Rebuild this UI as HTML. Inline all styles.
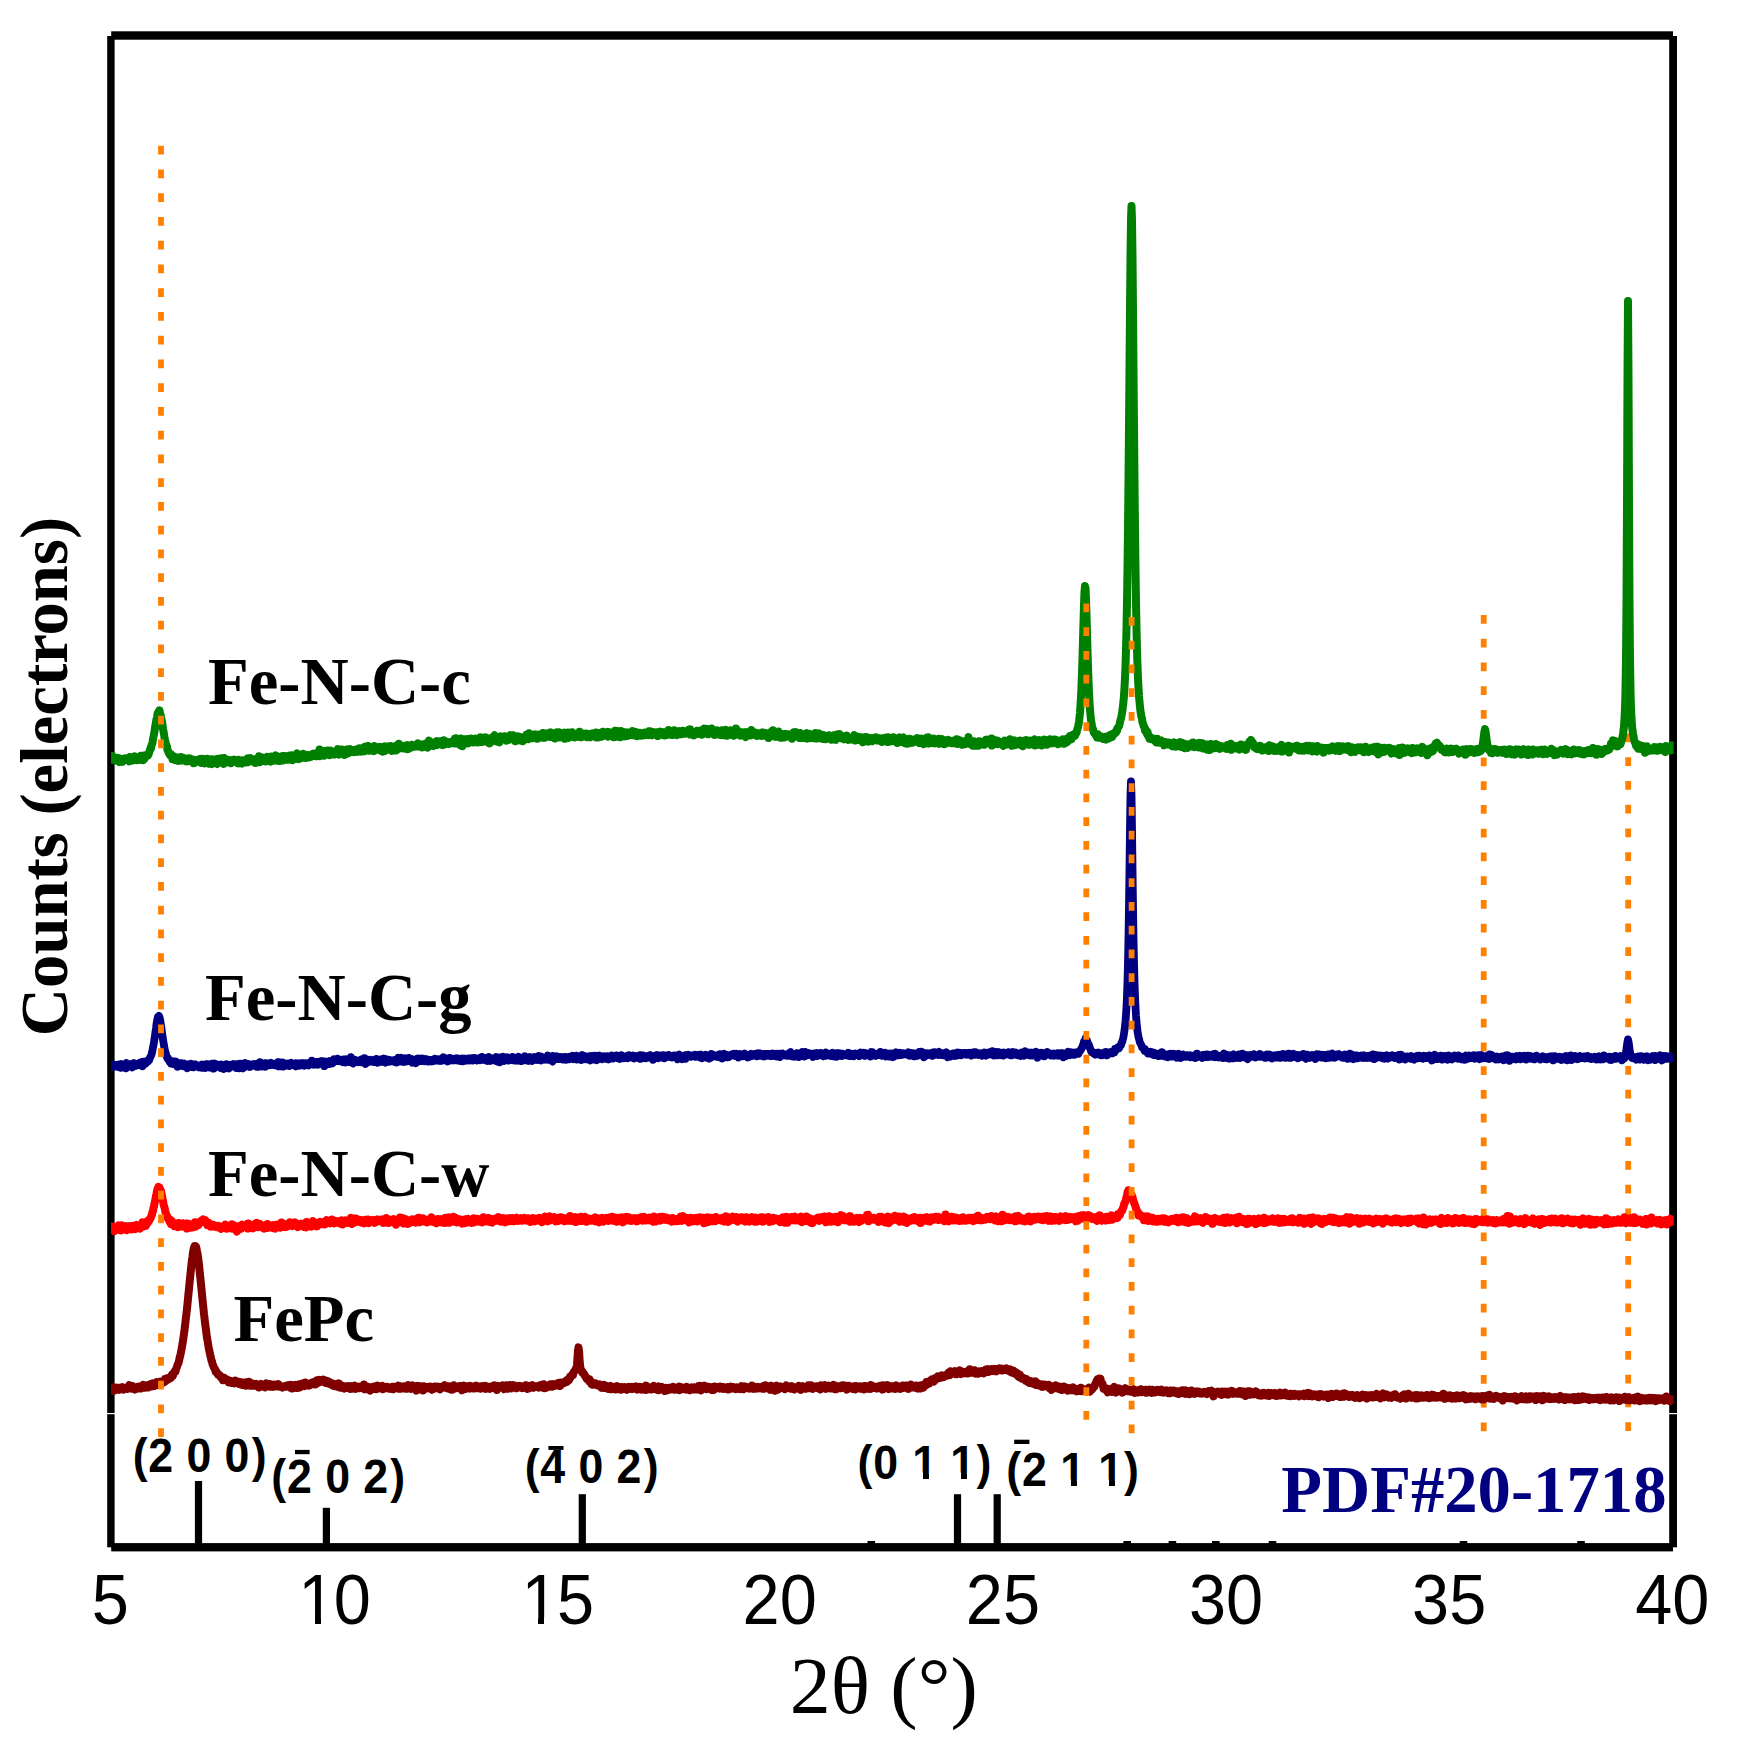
<!DOCTYPE html>
<html lang="en"><head><meta charset="utf-8"><title>XRD patterns</title>
<style>html,body{margin:0;padding:0;background:#fff}svg{display:block}</style></head>
<body>
<svg width="1739" height="1739" viewBox="0 0 1739 1739">
<defs><clipPath id="plot"><rect x="111" y="30" width="1562.7" height="1520"/></clipPath></defs>
<rect width="1739" height="1739" fill="#fff"/>
<g id="frame"><rect x="111.2" y="31.3" width="1561.8" height="8.4" fill="#000"/><rect x="111.2" y="1543.1" width="1561.8" height="8.3" fill="#000"/><rect x="107.2" y="36" width="7.4" height="1511.3" fill="#000"/><rect x="1669.2" y="36" width="7.8" height="1511.3" fill="#000"/><rect x="105" y="1413" width="11" height="1.2" fill="#fff"/><rect x="1667" y="1413" width="12" height="1.2" fill="#fff"/><rect x="194.9" y="1481" width="7.2" height="64.0" fill="#000"/><rect x="322.8" y="1507.8" width="7.2" height="37.2" fill="#000"/><rect x="578.7" y="1494.2" width="7.2" height="50.8" fill="#000"/><rect x="953.9" y="1494.2" width="7.2" height="50.8" fill="#000"/><rect x="993.6" y="1494.2" width="7.2" height="50.8" fill="#000"/><rect x="867.5" y="1541" width="7.6" height="4" fill="#000"/><rect x="1123.4" y="1541" width="7.6" height="4" fill="#000"/><rect x="1168.6" y="1541" width="7.6" height="4" fill="#000"/><rect x="1212.0" y="1541" width="7.6" height="4" fill="#000"/><rect x="1268.7" y="1541" width="7.6" height="4" fill="#000"/><rect x="1459.7" y="1541" width="7.6" height="4" fill="#000"/><rect x="1577.2" y="1541" width="7.6" height="4" fill="#000"/></g>
<g id="guides-back"><line x1="1483.7" y1="615.0" x2="1483.7" y2="1431.25" stroke="#ff8000" stroke-width="5.8" stroke-dasharray="8.75 15.0"/><line x1="1628.2" y1="733.5" x2="1628.2" y2="1431.00" stroke="#ff8000" stroke-width="5.8" stroke-dasharray="8.75 15.0"/></g>
<g id="curves"><path clip-path="url(#plot)" d="M111 762.6l.5-3l.5-.3l.5-3.3l.5 3.9l.5-.4l.5-.4l.5 1.3l.5 .1l.5-2.2l.5 .2l.5 .6l.5 1.7l.5-.2l.5-2.7l.5 .2l.5 2.7l.5 1.2l.5-2.3l.5-1l.5 2.6l.5-2.1l.5 1.5l.5 1.2l.5-1.4l.5-.8l.5 .9l.5-2l.5 .6l.5-.6l.5 .5l.5-.4l.5 .4l.5-.3l.5 .6l.5 0l.5 .3l.5 1.6l.5-4.4l.5 4.1l.5-2.2l.5-1.5l.5 1.5l.5 .3l.5 1.4l.5-3.1l.5 1.8l.5-.2l.5-2.6l.5 .6l.5 2.5l.5 .1l.5 .5l.5-.9l.5-.3l.5-.4l.5 1.4l.5-2.9l.5 .9l.5 .6l.5-2.8l.5 3.9l.5-3l.5 .9l.5 2.8l.5-4.1l.5 .2l.5 2.4l.5-3.4l.5 .5l.5 .8l.5-.5l.5-.3l.5-.7l.5 .2l.5-1l.5-1.3l.5-1.9l.5-1.1l.5-2.1l.5 .1l.5-3.1l.5-.5l.5-1.8l.5-3.7l.5-2.4l.5-2.7l.5-2.4l.5-3.6l.5-2.8l.5-3.2l.5-2.8l.5-2l.5-3.3l.5-1.2l.5-.9l.5 .7l.5-2l.5 2.9l.5 1.3l.5 2.4l.5 2.3l.5 2.3l.5 3.4l.5 3.6l.5 2.8l.5 2.9l.5 3.5l.5 2.8l.5 1.5l.5 3.1l.5 0l.5 1.6l.5 3.3l.5 .6l.5 1.7l.5 1l.5 .4l.5 1.4l.5 .2l.5-1.2l.5 2.2l.5 .4l.5 2.2l.5-3.2l.5 1.6l.5-.3l.5 .6l.5 2.4l.5-1.5l.5-.9l.5 .9l.5 .9l.5-2.2l.5 1.1l.5 2.5l.5-.8l.5-1.2l.5-.5l.5 .5l.5-1.8l.5 3.5l.5-.8l.5-.2l.5-1.9l.5 .8l.5 1.8l.5-.3l.5-1l.5 1.5l.5 .7l.5-2.3l.5 .3l.5-.5l.5-.3l.5 2.8l.5-.3l.5-.2l.5-2.2l.5 .2l.5 1.5l.5-.5l.5 .8l.5-1.1l.5 2l.5 1.7l.5-.3l.5 .1l.5-2.2l.5 1.3l.5-1.9l.5 1.9l.5-1.8l.5-.2l.5-.2l.5 2l.5-.6l.5-.1l.5-1.9l.5 1.9l.5-2.2l.5 4.2l.5-2.3l.5 .5l.5-.4l.5-2.1l.5 .3l.5 2l.5 2.3l.5-3.8l.5 .6l.5 1l.5-2.4l.5 0l.5 1.9l.5 .6l.5-.5l.5 2.9l.5-2.5l.5 .8l.5 1.8l.5 .2l.5-4.8l.5 1.8l.5 2.3l.5-3.7l.5 .7l.5-.5l.5-.2l.5 .4l.5 1.9l.5 1.6l.5 .4l.5-2.3l.5-2.9l.5 2.8l.5-.4l.5 1l.5-.7l.5-2.5l.5 3.2l.5-3.7l.5 2.1l.5 1.4l.5 .1l.5 1.8l.5-5.9l.5 4l.5 .5l.5-1.5l.5 1.4l.5-2.6l.5 2.6l.5-.2l.5-2.2l.5 .4l.5 .7l.5-.7l.5 2.5l.5-1.3l.5 1.7l.5-.3l.5-1.6l.5-.4l.5-1.1l.5 .2l.5-.1l.5 1.7l.5-1.8l.5 1.4l.5 .1l.5-1l.5 .5l.5 2.3l.5 .3l.5-3.6l.5 .9l.5-.3l.5 .1l.5 2.7l.5-1.3l.5 .8l.5 .8l.5-3.3l.5 .4l.5 .3l.5 1.4l.5-1.6l.5 1l.5 .8l.5 0l.5-1.1l.5-1.9l.5-1.1l.5 3.9l.5-1l.5-2l.5 .6l.5 .1l.5-1.9l.5 2.8l.5-1.5l.5 .7l.5 1.4l.5-1.2l.5 .9l.5-.2l.5-.6l.5 0l.5 2.6l.5-3l.5 2.6l.5-3.8l.5 2.4l.5-.8l.5-1.4l.5-2.8l.5 6.1l.5-4l.5 .3l.5 1.5l.5-.1l.5 .3l.5-.8l.5-1.9l.5 3.4l.5-2.6l.5 1.6l.5 .5l.5 .9l.5-2.1l.5-.2l.5 .1l.5-2.4l.5 1.6l.5-.4l.5-.2l.5 1.8l.5-.7l.5 2.7l.5-.1l.5-5l.5 2.9l.5-1.7l.5 2.3l.5-.6l.5 1.1l.5-1l.5 .6l.5-1.5l.5-3.2l.5 1.8l.5 .4l.5 .5l.5-.8l.5 3.7l.5-2.6l.5 2l.5-2.3l.5 2.8l.5-4.2l.5 2.6l.5-2.9l.5 2.5l.5 1.6l.5-4.6l.5 1l.5 1.6l.5-.7l.5-1.8l.5 3.6l.5-1.6l.5 1.7l.5-1.4l.5-2.2l.5 .9l.5 2.6l.5-4l.5 1.3l.5 1.5l.5 .5l.5-.3l.5-3.4l.5 5.1l.5-3.3l.5 .2l.5 0l.5-.4l.5-1.1l.5 .8l.5 2.3l.5-3.8l.5-1.6l.5 4.2l.5-.4l.5 .5l.5 1.4l.5-3.5l.5 1.2l.5 .4l.5 1l.5-.4l.5-2.7l.5-.8l.5 1.5l.5-1.9l.5 3.8l.5-2.2l.5 0l.5-.8l.5 3.3l.5-1.8l.5-1l.5 1.4l.5-1.1l.5 .9l.5 1l.5-2.3l.5 1.1l.5-.1l.5 .8l.5-.8l.5-.8l.5-1.1l.5 1.3l.5-1.9l.5 2.3l.5-.9l.5 .6l.5-1.5l.5-.5l.5-.2l.5 2.8l.5-1.9l.5-.1l.5-2.3l.5 2.4l.5-4.9l.5 6.8l.5-2.3l.5 .3l.5-2.1l.5 .4l.5 2.4l.5-1.2l.5 .8l.5 1.2l.5-1l.5-3.7l.5 1.3l.5-.3l.5 .3l.5-1.7l.5-.1l.5 1.8l.5 .2l.5 1.5l.5-1.2l.5 2.4l.5-4.7l.5 .6l.5 2.3l.5-.8l.5-1.1l.5 2.4l.5 .4l.5 .3l.5-2.5l.5 .5l.5 .3l.5-.3l.5 1.3l.5-2.2l.5 1.1l.5-3.7l.5 4.2l.5 1.2l.5-2.4l.5 1.4l.5-3.9l.5 1.9l.5-1.8l.5 2.6l.5 .2l.5-2.7l.5 .6l.5 .4l.5 4.2l.5-3.6l.5 .2l.5 .3l.5-.2l.5-.8l.5-1.6l.5 .9l.5 3.2l.5-2l.5-1l.5-1.4l.5 1.8l.5 0l.5-1l.5 2.2l.5-2.2l.5 .5l.5 1.4l.5-.9l.5 1.3l.5-2l.5-.3l.5 1.2l.5-.4l.5 1.4l.5-1.2l.5-.7l.5 .7l.5 .2l.5-2.6l.5 1.4l.5-.3l.5 2.2l.5-2.5l.5 2.2l.5-3.4l.5 1.7l.5 1.6l.5-2l.5 2l.5-4.6l.5 2.9l.5 .2l.5-.5l.5-2l.5 3.1l.5-4.4l.5 4.7l.5-1l.5 1l.5-1.8l.5-1.3l.5 .8l.5 0l.5 1.5l.5-1.3l.5 1l.5 .1l.5 1.3l.5-5l.5 2.3l.5 1.5l.5 0l.5-1.9l.5 .4l.5 .2l.5 .3l.5-1l.5-.2l.5-.7l.5 1l.5 2.5l.5-3.4l.5 2.7l.5 1.4l.5-2.5l.5 3l.5-3.6l.5 2.6l.5-2.5l.5-1.8l.5 2.3l.5 2.1l.5-3.6l.5 1.5l.5-2.1l.5 .1l.5 1.9l.5-1l.5 1.1l.5 .9l.5-3.5l.5 .6l.5 1.1l.5 3.2l.5-3.8l.5-.3l.5 1.3l.5 2.4l.5-4l.5 .4l.5 .5l.5 1l.5 2l.5-5l.5-.6l.5 2.5l.5 .6l.5-4.1l.5 2.3l.5 2.3l.5-2.2l.5 1.4l.5-.5l.5 .7l.5-.4l.5-.3l.5 1.4l.5-2.6l.5 .9l.5 1.4l.5-2.4l.5 .2l.5-.6l.5-.3l.5 4.2l.5-2.2l.5 1.9l.5-1.6l.5-1l.5-.6l.5 .8l.5-.5l.5 1.3l.5-2.6l.5 1.5l.5 .4l.5-1.1l.5 0l.5 1.1l.5-.1l.5-1l.5 .1l.5-.8l.5 1.6l.5-1l.5-2.2l.5 1.8l.5 1.3l.5-.5l.5-1.8l.5 2.3l.5-.2l.5-.1l.5 1.3l.5-2.7l.5 1.2l.5-1.2l.5 1.7l.5 .2l.5-1l.5 .3l.5-2.3l.5 2l.5-2.6l.5 4.7l.5-1.5l.5-3.9l.5-1.7l.5 5.6l.5-3.1l.5 1.9l.5-2.7l.5 1.9l.5-1l.5 1.7l.5-1.4l.5 2.5l.5-3.2l.5 2.8l.5-1.9l.5 .7l.5-3l.5-.3l.5 3.9l.5-3.3l.5 1.3l.5-.1l.5-.8l.5 1.5l.5-2.4l.5 .3l.5 2.9l.5-2.5l.5 2.2l.5-.2l.5 1.2l.5-1.6l.5-3.3l.5 1.6l.5 .3l.5 2.3l.5-1.3l.5-1.2l.5 1.2l.5-1.2l.5 1.3l.5-.6l.5 1.3l.5-1.2l.5 .9l.5-1.5l.5 1.1l.5-1.3l.5 1.1l.5-.7l.5-.5l.5-.5l.5 .2l.5 1.1l.5-4.1l.5 5.1l.5-5.3l.5 3.2l.5-.3l.5 1.6l.5-.8l.5-.4l.5 .1l.5 1.2l.5 2l.5-2.9l.5-3.5l.5 2.3l.5 1.2l.5 4.2l.5-6l.5 .5l.5 1.4l.5-.4l.5-2.4l.5 3.2l.5-3.3l.5 1.5l.5 2.3l.5-3.9l.5 1.4l.5 2.9l.5-2.9l.5-1.1l.5 .6l.5 2l.5-3.5l.5 1.3l.5-1.2l.5 .4l.5 3.5l.5-2l.5-.6l.5 1.3l.5-1.7l.5-.8l.5 3.4l.5-.4l.5-2.5l.5 2.2l.5 1l.5-1.4l.5 0l.5-2.6l.5 1.6l.5-2.6l.5 4.3l.5-1.9l.5 2.2l.5-3.1l.5 2.4l.5-3.7l.5 1.7l.5 1.4l.5-.3l.5-.7l.5-2.3l.5 4.3l.5-1l.5 .6l.5 0l.5-2.2l.5 1.1l.5 3.2l.5-5.1l.5 1.8l.5-1.5l.5 3.4l.5-2.4l.5-1.8l.5 .6l.5-1.2l.5-1.3l.5-.7l.5 2.9l.5-.6l.5 1.8l.5-1.4l.5 1.5l.5 2.2l.5-4.3l.5-.1l.5 3.2l.5 1.9l.5-4.7l.5-1.3l.5 2.1l.5-.3l.5 1.7l.5-2.7l.5 1.2l.5-.1l.5-1.9l.5-.1l.5 3l.5 .1l.5-2l.5 3.4l.5-.9l.5-.8l.5 .2l.5-.4l.5 .5l.5 .2l.5-1.2l.5-3.2l.5 2.8l.5-1.1l.5-.5l.5 2.6l.5-3.6l.5 3.9l.5-2.2l.5-.9l.5 .5l.5 4.7l.5-1.4l.5-2.6l.5 2l.5 1l.5-4l.5 .9l.5 1.7l.5-.8l.5-1.1l.5 2.9l.5-1.7l.5 .4l.5 2.3l.5-2.8l.5 3.1l.5-3.5l.5-.7l.5 .4l.5 1.1l.5-.4l.5-.4l.5-2.8l.5 .5l.5 1.2l.5 1.5l.5 1l.5-5.8l.5 3.3l.5-.4l.5 .4l.5 .5l.5-1.6l.5-.8l.5 3.5l.5-.5l.5-1.7l.5 .4l.5-.9l.5-1.1l.5 3l.5-2l.5-.7l.5 .8l.5 3.3l.5-1.9l.5-.3l.5-.2l.5 1.1l.5-.2l.5-3.1l.5 1.6l.5-.7l.5 1.3l.5-.4l.5-3l.5 4.8l.5-1.4l.5-3l.5 4.3l.5-1.5l.5 .5l.5-.7l.5 .2l.5-1l.5-1.8l.5 1.5l.5 1.2l.5-.2l.5 .9l.5-1.1l.5-3.3l.5 4.5l.5-2.4l.5-.8l.5 1.5l.5-1.6l.5 2.6l.5-1.9l.5 4.3l.5-3.3l.5-.5l.5-.2l.5-2.3l.5 2l.5 .1l.5 .6l.5-2.8l.5 3.4l.5 1.8l.5-2.6l.5 .6l.5 .7l.5-1.9l.5 .6l.5 2.1l.5-1.2l.5-2.1l.5-.9l.5 6.1l.5-2.8l.5-3l.5 2.6l.5 .8l.5-.9l.5-3l.5 5.5l.5-1.8l.5-1.2l.5 1.3l.5-1.4l.5-.2l.5 1.9l.5-4.4l.5 4.5l.5-.9l.5 .5l.5 .3l.5 .9l.5-.2l.5-.8l.5-1.9l.5 1.6l.5-1.8l.5-.7l.5 2.1l.5-.2l.5 1.3l.5-5.1l.5 4.2l.5 .1l.5-.9l.5 2.1l.5-3.6l.5 1.8l.5-1.1l.5 .5l.5-1.4l.5 1.2l.5 1.2l.5-.8l.5 .3l.5-1.7l.5 3.6l.5-3.5l.5 1.1l.5 .8l.5-1.2l.5 1.4l.5-.8l.5 2.2l.5-1.7l.5-.3l.5-1.8l.5 1.9l.5 .8l.5-.9l.5-2l.5 .5l.5 .5l.5 .4l.5-2.2l.5 4.9l.5-3l.5 .3l.5-.8l.5 .6l.5 2.9l.5-4.3l.5 .6l.5-.8l.5 .7l.5 3.1l.5-3.2l.5 .2l.5-2l.5 2.1l.5 .9l.5-1.1l.5 .1l.5 1.8l.5-.4l.5-1l.5-1l.5-1.1l.5 4.7l.5-4.8l.5 3.3l.5-1.3l.5-.8l.5 2.4l.5-2.4l.5 2.9l.5-3.4l.5 2.3l.5 1.1l.5-3.4l.5 4.6l.5-1.9l.5-4.5l.5 5.3l.5 .8l.5-3.3l.5 .1l.5 .8l.5-3.4l.5 3.1l.5 1.2l.5-2.3l.5 2.5l.5 1.6l.5-6.2l.5 .2l.5 1.7l.5 1.9l.5-.3l.5-2l.5-.3l.5 .6l.5 3.6l.5-4l.5 .6l.5 2.3l.5-1.9l.5-1.1l.5 3.6l.5-1.6l.5-1.5l.5 .4l.5 2l.5-2l.5 1l.5 .9l.5 .1l.5-4.2l.5 2l.5 .2l.5 .7l.5 1l.5 .6l.5-2.5l.5-1l.5 2l.5-1.2l.5 3.5l.5-2.1l.5-.4l.5 1.4l.5-2.5l.5 .4l.5 .3l.5 1.2l.5 1l.5-.8l.5-.1l.5-1.4l.5 .9l.5-1l.5 2.1l.5-2.7l.5 .9l.5 .4l.5 .8l.5-2.2l.5 .7l.5-.9l.5-.8l.5 3.6l.5-.9l.5-3l.5 .8l.5 2.3l.5-1.8l.5-.6l.5 3.4l.5-2.6l.5 .2l.5 1.3l.5-1.9l.5 1.1l.5 .2l.5 .9l.5-2.3l.5 2.8l.5-1.2l.5 2.2l.5-2.4l.5-1.1l.5 0l.5-.9l.5 1.7l.5-.1l.5 1.4l.5-1.2l.5-1.4l.5 2.7l.5-2.1l.5 1l.5 1.8l.5-.3l.5-3l.5 .9l.5 2.1l.5-.5l.5-.7l.5 .5l.5-4.5l.5 2.8l.5-1.8l.5 1.2l.5 .4l.5 1.2l.5 1.1l.5-.6l.5-.8l.5-.9l.5 2.4l.5-1.5l.5-3.1l.5 2.5l.5 .9l.5-2.2l.5 1.7l.5 1.9l.5-2.6l.5 .3l.5 0l.5-1.4l.5 .7l.5-.8l.5 1l.5-.7l.5 2.6l.5-1.6l.5 1.4l.5-3.2l.5 1.9l.5 .9l.5 .1l.5-1.9l.5 .7l.5 .3l.5-.7l.5-.1l.5 1.4l.5-2.5l.5-1l.5 2l.5 1.1l.5-3.8l.5 5.4l.5-1.9l.5 .8l.5-2.2l.5 1.2l.5 2.8l.5 .1l.5-1.9l.5-1.4l.5 .3l.5 2.1l.5-3l.5-.4l.5 1.2l.5 1.6l.5-3l.5 2.1l.5 0l.5-.4l.5-.4l.5 1.6l.5-.5l.5-3.1l.5 4.6l.5-1.7l.5-.3l.5-1l.5 .1l.5-3.3l.5 3.4l.5 1.2l.5 .1l.5-1.9l.5-2.5l.5 1.8l.5 1.3l.5 2.3l.5-4.3l.5 2.5l.5 .9l.5 0l.5-1l.5-4l.5 5l.5-.6l.5 .6l.5-2.2l.5 .7l.5 3l.5-2.4l.5 .2l.5-1.1l.5 3l.5-4.3l.5 1.7l.5 1.4l.5-.7l.5 1.4l.5-.6l.5 1.5l.5-2.5l.5 .2l.5 .6l.5-3l.5 4.8l.5-3.5l.5 3.1l.5 .5l.5-.7l.5-1.2l.5-1.2l.5-2.2l.5 4l.5-1.1l.5 2.9l.5-3l.5 1.4l.5-1.5l.5 1.2l.5-1.1l.5 .3l.5-2.6l.5 1.8l.5 .8l.5 2.2l.5-1.5l.5-2.2l.5 4.2l.5-1.8l.5 1.1l.5-3l.5-3.5l.5 3.8l.5-.4l.5 1.9l.5-2.7l.5 1l.5-.7l.5 2.3l.5-1.6l.5 3.5l.5-.9l.5 .1l.5-1.5l.5 .7l.5 .9l.5-2.5l.5 3.1l.5-1.9l.5 2l.5 1.5l.5-1l.5-4l.5 3.5l.5-2.3l.5-.1l.5 .3l.5-1.4l.5 2.1l.5-1.4l.5 2.7l.5-1.1l.5-4.4l.5 2.5l.5-.1l.5 .5l.5 .1l.5 1.3l.5-.6l.5-1.3l.5 2.3l.5 .7l.5-1.3l.5 1.7l.5-1.1l.5-1.5l.5 .3l.5 .6l.5 .8l.5-.5l.5 1.2l.5 .3l.5-3.2l.5-.2l.5 1.6l.5 .8l.5 .7l.5-.4l.5 0l.5-2.3l.5 2l.5-1.5l.5 1.6l.5 .7l.5-2.3l.5 .6l.5 4.1l.5-4.8l.5 .4l.5-.9l.5-.5l.5 3.7l.5-2.5l.5 .1l.5-.3l.5-3l.5 5.4l.5-2l.5 .8l.5 2.1l.5-2.2l.5 .4l.5 .1l.5 1.7l.5-3.9l.5 1.1l.5-2.3l.5 3.3l.5 .9l.5-1.6l.5 3.7l.5-1.5l.5 1.4l.5-2.6l.5 2.5l.5-3.5l.5 1.4l.5-.4l.5-.8l.5 3.1l.5-.4l.5-3l.5 2.1l.5-.9l.5 .1l.5 .7l.5-1.6l.5 1l.5 .2l.5-1.3l.5 .1l.5 2.1l.5-1.2l.5 3.5l.5-.4l.5-4.2l.5 1.5l.5-3.4l.5 2l.5-.3l.5 .2l.5-2l.5 3.5l.5-.1l.5-1.4l.5 1.1l.5 1.5l.5 1l.5-4.3l.5 4.4l.5-4.9l.5 1.3l.5 .7l.5 2.9l.5-1.4l.5 0l.5 1.5l.5-2l.5-.9l.5 2.8l.5-2.5l.5-1.5l.5-.6l.5 2.8l.5 2.5l.5-1.6l.5-1l.5 1.7l.5-3.9l.5 2.8l.5-1.4l.5 2.9l.5-3.3l.5 2.5l.5-.9l.5-.2l.5 1l.5-1.2l.5 2.3l.5-2.4l.5-2.9l.5 5.4l.5-.1l.5-1.2l.5 1.3l.5-1l.5-2.2l.5-1.8l.5 1.5l.5 1.2l.5 1.2l.5-2.9l.5 .8l.5 3.6l.5-3.2l.5-.1l.5-.3l.5 3.9l.5-1.2l.5 .1l.5 1.2l.5-1l.5 .6l.5-1.4l.5 .7l.5-.3l.5 .1l.5-2.7l.5 1.4l.5-.2l.5-.4l.5 1l.5 2.7l.5-1.2l.5-1.3l.5 .4l.5 1.6l.5-3.8l.5 2.4l.5 1.9l.5 .2l.5-1.3l.5-.5l.5-3.5l.5 1.7l.5 1l.5 .6l.5 .1l.5-4l.5 2.6l.5 1.3l.5-1.5l.5 .8l.5 1.1l.5-.3l.5-.2l.5 .9l.5 .6l.5-2.1l.5-1.1l.5 .6l.5 .3l.5 .7l.5-2.1l.5 1.1l.5 .8l.5 2.4l.5-1.2l.5-1l.5 1.5l.5-1l.5 .1l.5 1.3l.5-1.1l.5-.2l.5 .9l.5-1.9l.5 .9l.5-3.1l.5 2.5l.5 2.9l.5-2.8l.5 .6l.5-.6l.5-.9l.5 2.3l.5-.8l.5 1.7l.5-2.9l.5 1.4l.5-.5l.5-.4l.5 2.5l.5-2.6l.5 0l.5 4.8l.5-3.8l.5-.1l.5 1l.5-2.2l.5 2l.5-2.2l.5 1.1l.5-.1l.5 2.8l.5-1l.5 1.8l.5-.2l.5-3.5l.5 1.8l.5-1.4l.5-.2l.5 2.7l.5 .4l.5-1.9l.5 .3l.5 0l.5 0l.5 .1l.5-2l.5 2.4l.5-1.9l.5-.7l.5 1.6l.5 .6l.5 .9l.5-.7l.5-.1l.5-1.4l.5 1.6l.5-.2l.5 .1l.5-1.5l.5 3.6l.5-1.3l.5-.1l.5-.9l.5-.5l.5 1.8l.5-3.3l.5 1.3l.5 .3l.5 1.3l.5-1.3l.5 2.6l.5-4.7l.5 4.9l.5-1.8l.5 1l.5-2.1l.5 2.3l.5-2l.5 .9l.5-2.6l.5 3l.5-.6l.5-2.9l.5 2.7l.5-.3l.5 1.7l.5-2.3l.5 1.4l.5 1.6l.5-3.2l.5 4.1l.5-2.4l.5-.7l.5-1.7l.5-.6l.5 4.1l.5-2.1l.5-.2l.5 2.5l.5-.6l.5-.8l.5-2.3l.5-.7l.5 4.3l.5-1.5l.5-.3l.5 3.3l.5-3.5l.5 1.2l.5 2.7l.5-2.3l.5-1.7l.5-.4l.5 3.1l.5-3.7l.5 3.1l.5 1.2l.5-2.5l.5 1.4l.5-1.1l.5 2l.5-1.7l.5-1.4l.5 1.6l.5-.3l.5-1.2l.5 .6l.5-1.4l.5 .5l.5 2.3l.5-3.7l.5 3.2l.5-.4l.5-.9l.5 3l.5-1.1l.5-1.9l.5 1.2l.5 1.1l.5-3.7l.5 2.7l.5-.7l.5 1l.5 2.5l.5-4l.5 .4l.5-1.2l.5 2.1l.5 .6l.5-4.6l.5 5.9l.5 .2l.5-6.3l.5 1.7l.5 3l.5-.6l.5 1.7l.5-2.2l.5 2.4l.5-4l.5 2.7l.5-1.2l.5-.1l.5-1.9l.5 2l.5 2.7l.5-3l.5 .7l.5 .5l.5-1.6l.5 1.8l.5 .5l.5-1.2l.5-2.4l.5 5.1l.5-2.2l.5-.1l.5-.3l.5-.5l.5-1.6l.5 2.4l.5 .3l.5 1.3l.5 1l.5-3.5l.5 3.5l.5-2.3l.5 .8l.5-2.4l.5 2.1l.5-1.9l.5 2.4l.5-2.9l.5 2l.5-.7l.5 1.2l.5-.2l.5-.1l.5-1l.5 2.1l.5-.4l.5-2l.5 2.3l.5-2.1l.5 1.1l.5-.3l.5 .1l.5 1.3l.5-3.8l.5 4.5l.5-4.5l.5 4.5l.5-1l.5-3l.5 2.8l.5-1l.5-1.3l.5 3.6l.5-.1l.5-1.1l.5 2l.5-2.3l.5-.6l.5 2.4l.5-3.1l.5 2.3l.5 .5l.5-1.3l.5-.1l.5 .5l.5-.3l.5-1.4l.5-4.3l.5 4.6l.5-1.4l.5 3.7l.5-2.2l.5 1.1l.5 .8l.5 .4l.5-2.9l.5 4.6l.5-1.8l.5-.4l.5-2.3l.5 4.4l.5-2.1l.5 .8l.5-2.2l.5 3.4l.5-.7l.5-2.3l.5 3.1l.5-4.5l.5 2.9l.5-.3l.5 0l.5-2.1l.5 .5l.5 2l.5 .2l.5-1.7l.5-.4l.5-.4l.5 2.8l.5-2.2l.5-.6l.5-2.1l.5 .2l.5 1l.5-1.4l.5 2.4l.5 .2l.5-1.1l.5 .9l.5 .5l.5-2.6l.5 3.8l.5-5.3l.5 7.2l.5-5.2l.5 2.3l.5-.6l.5 1.1l.5-1.7l.5 1.9l.5-3.2l.5 3.6l.5-1.6l.5 1l.5 1l.5-3.4l.5 .9l.5-.2l.5 1l.5 .4l.5 .8l.5-.7l.5-.6l.5 1.1l.5 .7l.5-.1l.5 1.7l.5-4.1l.5 1.3l.5-2.4l.5 1l.5 2l.5 .9l.5-2.6l.5 1.4l.5-.5l.5 .6l.5-.4l.5-1.1l.5-2.7l.5 1.2l.5 2.8l.5-.7l.5 3.3l.5-3.1l.5 1.3l.5-3.2l.5-.3l.5 2.4l.5 2.3l.5-2l.5-1l.5 1l.5 .4l.5-.3l.5-.6l.5-1.7l.5-.1l.5 .9l.5 .6l.5-1.8l.5 4.4l.5-1.5l.5-1.7l.5 2l.5 2.5l.5-3.3l.5-.1l.5 1.2l.5-3.5l.5 1.1l.5-.3l.5 2.3l.5-3.6l.5 3l.5-1.3l.5 .3l.5-.4l.5 3.1l.5-3.5l.5-.5l.5 2.2l.5-1.3l.5 1.6l.5-.9l.5 .2l.5 0l.5-2.6l.5-.5l.5 6l.5-4.8l.5 2.6l.5-2.5l.5 1.5l.5-.2l.5 2.5l.5-2.5l.5-2l.5 .2l.5 2.5l.5 .9l.5 1.7l.5 .1l.5-5.3l.5 2l.5-1.7l.5 2.2l.5 .8l.5-3.9l.5 3.9l.5-.2l.5-1.4l.5-.6l.5 3.4l.5-2.7l.5-1.4l.5 1.7l.5 1.4l.5-.6l.5-3.9l.5 .9l.5 1.3l.5 .8l.5 0l.5-2.1l.5 3.2l.5-.7l.5-3l.5 .9l.5 1.2l.5-2.1l.5 2.2l.5 .2l.5-1l.5 1.5l.5 1.7l.5-3.6l.5 1.6l.5-1.4l.5 2.8l.5-.4l.5-1.9l.5-.9l.5 1.9l.5-1.3l.5-1.7l.5 .3l.5 1.1l.5 3.1l.5-1.6l.5 .3l.5-.8l.5 .5l.5 0l.5-3.6l.5 2.1l.5-.2l.5-.3l.5-.3l.5-3.8l.5 3l.5-2.1l.5 2.4l.5-2l.5-.1l.5-.2l.5-2.5l.5 1.4l.5-1.6l.5 1.3l.5-2.1l.5-1.3l.5 .6l.5-2.3l.5-1.9l.5-1.4l.5-2.5l.5-3l.5-4.4l.5-4.8l.5-7l.5-8.5l.5-10.9l.5-13.4l.5-15.2l.5-17.5l.5-18.2l.5-17.4l.5-13.2l.5-5.2l.5 2.1l.5 10.3l.5 16.2l.5 18l.5 17.9l.5 16.1l.5 14l.5 11.9l.5 9.3l.5 7.5l.5 5.7l.5 5l.5 2.8l.5 3.4l.5 1.9l.5 .9l.5 2.4l.5 1.4l.5 .3l.5 .3l.5 1.5l.5-.8l.5 1.7l.5 1.6l.5-2.8l.5-.3l.5 3.3l.5-1.7l.5 .7l.5 .9l.5-.9l.5 1.1l.5-1.4l.5 .7l.5 .7l.5 .9l.5-1.4l.5 1.2l.5 .3l.5-.2l.5-.9l.5 1.9l.5-3l.5 2.4l.5-.2l.5-.3l.5-2l.5 1.8l.5-.9l.5-2.1l.5 .7l.5-1.4l.5 1.7l.5 .8l.5-.9l.5-2.5l.5-.4l.5 .4l.5-.5l.5 .3l.5-1.6l.5 .6l.5-2.2l.5 .4l.5-2.8l.5-.3l.5-.8l.5-.8l.5-1.6l.5-2.4l.5-2.1l.5-1.4l.5-2.5l.5-2.9l.5-3.2l.5-4.3l.5-4.3l.5-5.9l.5-7.8l.5-9.7l.5-12.3l.5-16.3l.5-21l.5-26.7l.5-33.2l.5-40.3l.5-47.7l.5-54.1l.5-58.5l.5-58.9l.5-52.3l.5-37l.5-13.7l.5 13.8l.5 37l.5 52.4l.5 58.9l.5 58.5l.5 54.2l.5 47.7l.5 40.4l.5 33.3l.5 26.7l.5 21l.5 16.1l.5 12.7l.5 9.4l.5 8.1l.5 5.6l.5 5.3l.5 4.4l.5 3.2l.5 2.6l.5 1.4l.5 4l.5 .7l.5 2.4l.5 .7l.5 1.5l.5 2.5l.5-1.3l.5 1.3l.5 1.6l.5 1.9l.5-2.3l.5 4l.5-.9l.5 1.7l.5 2.4l.5-1.6l.5 1.1l.5 .8l.5-1.4l.5 .8l.5 0l.5 .8l.5-.3l.5 0l.5 .2l.5 1.9l.5-2.3l.5 1.9l.5 1.8l.5-3.2l.5-.3l.5 3.2l.5-1.7l.5 .3l.5 1.9l.5-.3l.5-1.2l.5 .6l.5-1.4l.5 1.3l.5 .8l.5 1l.5 .2l.5 1.6l.5-2.3l.5 1.5l.5-.9l.5-1.6l.5 1.9l.5 .1l.5 .5l.5-.2l.5-.4l.5-1.4l.5 .9l.5 .9l.5 .6l.5 .3l.5-.6l.5 .5l.5 1.2l.5-1.7l.5-1l.5-1.2l.5 2.1l.5 .9l.5-1.4l.5 2.7l.5-3.3l.5 .7l.5 .6l.5-1.7l.5 3.2l.5-2.5l.5-.5l.5-.9l.5 4l.5 .5l.5-3.3l.5-.5l.5 1.4l.5 .7l.5-.8l.5 1.6l.5-2.3l.5 4.6l.5-2.4l.5 1l.5-2.1l.5 2.1l.5 1l.5-3.4l.5 1.3l.5 1.3l.5-.9l.5-1.8l.5 .6l.5 1.6l.5-.4l.5-1.4l.5 1.5l.5-3.7l.5 3.3l.5 1.4l.5 0l.5-2l.5 1l.5 0l.5-.5l.5-1l.5-.9l.5 1.2l.5-.9l.5-1.3l.5 4.8l.5-3.9l.5 1.2l.5 0l.5-1.7l.5 3.1l.5-3l.5 5.1l.5-4.7l.5 .9l.5 1l.5 0l.5 .2l.5 1.7l.5 .5l.5 1.6l.5-5.1l.5 3.4l.5-.5l.5-1.4l.5-1.5l.5 5.6l.5-1.8l.5-4.4l.5 4.9l.5-1.5l.5-.3l.5 .8l.5-2l.5 .7l.5 1.6l.5-3.1l.5-.3l.5-.5l.5 3.7l.5-2.7l.5 1l.5-.2l.5 1.7l.5-.4l.5-1.7l.5 3.3l.5-1.4l.5-.1l.5-1.2l.5 .2l.5 .1l.5 .4l.5 .6l.5 .1l.5-1l.5 .2l.5 1.2l.5 .8l.5 .1l.5-1.9l.5-1.9l.5 2.2l.5 0l.5-.1l.5 .6l.5-1.5l.5 1l.5-3.6l.5 6.1l.5-2.6l.5-.5l.5 1.2l.5-1.1l.5-.7l.5 2.3l.5-1.1l.5-1.1l.5 2l.5-.3l.5-.1l.5-1l.5 2l.5-2.9l.5 2.6l.5 1l.5-3.6l.5 1.7l.5-3.1l.5 2.8l.5-2.6l.5 .5l.5 2.3l.5 1.3l.5-.9l.5-1.1l.5-.8l.5 1l.5 2.9l.5-1.7l.5-3.4l.5 .3l.5-1.2l.5 1.1l.5-1.5l.5-1.9l.5 .4l.5-.8l.5-1.3l.5 1.4l.5 1.8l.5-.9l.5 1.3l.5-.1l.5 1.5l.5 2.4l.5-.3l.5-1.1l.5 .4l.5 2.5l.5-1.7l.5-.4l.5 2.4l.5-2.2l.5-.4l.5 1.7l.5-2.5l.5 1.3l.5-.5l.5 1.4l.5-.3l.5 2.9l.5-1.7l.5-.9l.5 .8l.5-1.2l.5 .8l.5 .5l.5-.2l.5 1.4l.5-1.2l.5-1.9l.5 1.5l.5-2.1l.5 4.7l.5-5.8l.5 2.6l.5 1l.5-2.2l.5 .8l.5 2.2l.5-3.4l.5 3.2l.5-1.7l.5-.2l.5 3.5l.5-1.8l.5-.5l.5-1l.5 .7l.5-.5l.5 3l.5-2.5l.5-1.4l.5 .4l.5 1.4l.5-2.3l.5 .6l.5-1.3l.5-1l.5 6.8l.5-3.7l.5 3l.5-1.8l.5-.4l.5-2.1l.5 1.6l.5 .4l.5-1.6l.5 2.4l.5 .8l.5-1.1l.5-.4l.5-2.9l.5 6.7l.5-3l.5-2.9l.5 .1l.5 .7l.5-.5l.5 1.6l.5-1.3l.5 1.4l.5-.8l.5 .3l.5-1.4l.5 2l.5 .2l.5-1.6l.5-1.3l.5 2.6l.5-2.8l.5 1.5l.5 1.9l.5 1.2l.5-2.3l.5 .9l.5 1.5l.5-3.5l.5 .9l.5 1.1l.5 1.6l.5-3.8l.5 0l.5 3.2l.5 .4l.5-2.7l.5 1l.5 1.4l.5-1.8l.5-2.5l.5 3.1l.5 1.2l.5-3.4l.5 3.9l.5-2.4l.5-2.3l.5 3.1l.5-2.6l.5 4.3l.5-1.3l.5 2l.5-5.2l.5 2.7l.5 2l.5-.4l.5-.8l.5-.4l.5 .4l.5 .6l.5 1.2l.5-5.4l.5 1.1l.5 .7l.5 1.2l.5 .3l.5-1.1l.5 .4l.5 1.3l.5 .6l.5-3l.5 .8l.5 .5l.5 3.7l.5-4.7l.5 1.4l.5-.3l.5-.7l.5 2l.5-1.5l.5-.6l.5 .8l.5 .3l.5-1.3l.5-.2l.5 2.8l.5-2.5l.5 2.2l.5-1.6l.5-1l.5-.5l.5-.8l.5 3.6l.5-.1l.5-1.6l.5-1l.5 .8l.5 1.1l.5 1.6l.5-2.8l.5-1.6l.5 2.9l.5-.9l.5-.7l.5-1.6l.5 3.7l.5 1.3l.5-3.7l.5-.7l.5 1.4l.5 .4l.5 1.3l.5-.7l.5-2.7l.5 3l.5 0l.5-1.2l.5 1.2l.5-2.5l.5 1.6l.5-1.6l.5 2.1l.5 1.2l.5-4.1l.5 3l.5 1l.5-.7l.5 2.1l.5-2.5l.5 3.3l.5-3l.5-2l.5 1.6l.5-.8l.5 2.9l.5 .6l.5 .2l.5-1.4l.5-1.4l.5-.6l.5-.8l.5 2.7l.5-2.9l.5 1.5l.5 .7l.5 .4l.5-2.8l.5 .2l.5 .2l.5 3l.5-3l.5 .4l.5 2.3l.5 .5l.5 1.4l.5-2.8l.5 1.4l.5-4l.5 3.6l.5 .4l.5 .2l.5-2.2l.5 2.9l.5 .3l.5-2.4l.5 .1l.5-.6l.5 .1l.5 .4l.5-1.9l.5-.1l.5 1.6l.5-.4l.5 2.3l.5-1.8l.5-1.1l.5-1.2l.5 2.2l.5-1.1l.5-1.1l.5 5.6l.5-5.8l.5 5.4l.5 2.2l.5-4.5l.5-.8l.5 1.7l.5-2.4l.5 1.7l.5 .9l.5-3.1l.5 4.3l.5-2.2l.5 .3l.5 1.6l.5-4.1l.5 .2l.5 2.3l.5 .2l.5-.9l.5 .2l.5-.2l.5-1.1l.5-.5l.5 .8l.5 1.3l.5 .5l.5-2.5l.5 4.5l.5 .9l.5-3.2l.5-1.5l.5 .9l.5 1.5l.5-1.3l.5 2.9l.5-3.2l.5 1.8l.5-.7l.5 2.7l.5-2.7l.5 .1l.5-2l.5 .9l.5-1.6l.5 6.9l.5-4.8l.5-.4l.5 .4l.5 .5l.5 .3l.5-3.5l.5 4.6l.5-1.8l.5-.2l.5 2.8l.5-2.3l.5-1.6l.5-.1l.5 2.5l.5-1.1l.5 .2l.5-2.2l.5 2.2l.5-1.2l.5-.2l.5 3.1l.5-1.5l.5-.8l.5 1.9l.5 1.3l.5-5.1l.5 3.7l.5-1l.5-.5l.5 2.3l.5-.9l.5-1.9l.5 2.6l.5-2.2l.5 .3l.5-2l.5 2l.5 .9l.5-1.4l.5 .5l.5 1.9l.5-2.1l.5-.8l.5 3.6l.5-3.7l.5-2.5l.5 1.6l.5 1.6l.5-1.4l.5 .1l.5 .9l.5 .5l.5-.1l.5 .3l.5 1.7l.5 3.3l.5-3.2l.5-.8l.5-2l.5 1.1l.5-1.7l.5 1.3l.5-1.5l.5 2.4l.5 .8l.5-1.8l.5 1.1l.5-4.2l.5 1.1l.5-1.6l.5-.6l.5-1.8l.5 .3l.5-.5l.5-1.1l.5 2.6l.5-.2l.5 .9l.5-.7l.5 .6l.5 .4l.5 2.5l.5 .7l.5-.4l.5-.4l.5 1.3l.5 .7l.5 .3l.5-1l.5 2.1l.5 .3l.5-3.1l.5 1.8l.5-.3l.5-2l.5 1.1l.5 1.2l.5 1.4l.5-2.8l.5 .5l.5 .3l.5-.3l.5-1.5l.5 3.4l.5-1.6l.5 1l.5 .4l.5-1.7l.5-.8l.5 .4l.5 .3l.5-.5l.5 .8l.5-1.6l.5 1.4l.5-.2l.5 1.3l.5 .4l.5 2l.5-.9l.5-.8l.5-1l.5 .1l.5 .5l.5-.9l.5 .4l.5-1.3l.5 1.8l.5-1.9l.5 .7l.5-.2l.5 4.7l.5-3.6l.5 1.3l.5-3.4l.5 2.8l.5-1.3l.5 1.8l.5-2l.5-1.1l.5 2.9l.5-1.1l.5-2.1l.5 1.9l.5-1.3l.5 2.4l.5-.9l.5 .4l.5-1.9l.5 3.4l.5-2.9l.5 1.3l.5-.8l.5 .4l.5-1.9l.5 1.9l.5 .4l.5-2.5l.5 3.2l.5-2.8l.5 .5l.5-.3l.5 1.4l.5-2.3l.5-1.2l.5-1.7l.5-3.2l.5-3.4l.5-4.5l.5-3.4l.5-2.1l.5 2l.5 3.9l.5 3.9l.5 3.5l.5 3.1l.5 1l.5 3.2l.5 .6l.5-2.4l.5 2l.5 .7l.5 2.2l.5-1.5l.5 1.4l.5 .6l.5-1.2l.5-2.4l.5-.5l.5 1.5l.5 1.6l.5-.4l.5-2.6l.5 3l.5-2.4l.5 .8l.5 2.1l.5-1.3l.5-1l.5-.3l.5 1.3l.5 .3l.5-.6l.5-1l.5 1.9l.5 .6l.5-3l.5 2.7l.5-1.9l.5 .6l.5 1.8l.5-3.3l.5 1.7l.5 2.7l.5-.3l.5-3l.5-.8l.5 3.5l.5-1.5l.5 0l.5-2.7l.5 2.5l.5-2.4l.5 1.9l.5 3.1l.5-.9l.5 .6l.5-2.3l.5 .5l.5-1.2l.5 3.6l.5-3.8l.5-1.3l.5 1.4l.5 2.3l.5-2.4l.5 1.1l.5-2.4l.5 1.1l.5-.9l.5 .2l.5 1.3l.5 1.3l.5 2l.5-2l.5-2.5l.5 0l.5-.7l.5 2.2l.5-1.3l.5 1.1l.5-1.4l.5 4.1l.5-2.8l.5 1.6l.5-1.6l.5 3.9l.5-5.6l.5 3l.5 1.3l.5-2.1l.5 1.5l.5-1.5l.5 1.8l.5-1.7l.5 2.7l.5-5l.5 3.6l.5-1.9l.5 .1l.5 1.5l.5-1.8l.5-.1l.5 1.9l.5-2.6l.5 1.4l.5 1.9l.5-2.8l.5 3.1l.5-3.5l.5 2l.5-.2l.5-2.3l.5 3.3l.5-3.3l.5 4.2l.5 .2l.5-3.2l.5 1l.5-.4l.5-1.9l.5 1l.5 1.1l.5 .1l.5 1.9l.5-2.6l.5-.1l.5 1.9l.5 .1l.5-1.5l.5 .7l.5-1.2l.5 .6l.5-2.9l.5 .5l.5 4l.5-2.3l.5-.7l.5 2.5l.5 2.3l.5-1.5l.5-.9l.5-.6l.5 2.7l.5-.1l.5-2.2l.5-.9l.5 .7l.5 .7l.5-1.1l.5-.5l.5-.2l.5-1.3l.5 1.8l.5 .9l.5-2.5l.5 .7l.5 2.8l.5-2.7l.5 1.8l.5-2.3l.5-1.3l.5 3.5l.5 .4l.5-.6l.5-.4l.5 2.2l.5-2.6l.5-.8l.5 1.6l.5 1.2l.5-1.1l.5 1.1l.5 .8l.5-3.5l.5 .9l.5-.2l.5 1.3l.5-3.3l.5 3.9l.5-3.6l.5 2.7l.5-1.1l.5-.2l.5 1.6l.5-2.7l.5 2.7l.5-1.4l.5-1.5l.5 3.5l.5-3.3l.5 2.7l.5-1.5l.5 .1l.5 2.6l.5-1.6l.5-.8l.5 1.6l.5-2l.5 3.1l.5-3.3l.5 1.7l.5-1.6l.5 1.9l.5-2.4l.5 1.2l.5 1.2l.5-3l.5 1.6l.5 .9l.5-1.4l.5 .2l.5 1.6l.5 .2l.5-3.6l.5 1l.5-2.6l.5 3.8l.5 1l.5-2.3l.5-.5l.5 2.5l.5-1.5l.5 3.8l.5-.9l.5-4.9l.5 3.7l.5 0l.5 .1l.5-1.2l.5-2l.5 2.2l.5-1l.5 3.2l.5-1.7l.5 .9l.5-3.4l.5 1.4l.5-.4l.5-1l.5 .5l.5-1.5l.5 2.1l.5-1.5l.5 1.1l.5 0l.5-1l.5-.9l.5 1l.5-.7l.5-1.9l.5 .4l.5-3.8l.5 1.1l.5-.8l.5-1.2l.5-2.3l.5 1.1l.5 1.3l.5-.7l.5-1.1l.5 1.9l.5 2.2l.5 .2l.5 .9l.5-1.3l.5 1.3l.5-1.1l.5-.2l.5-1.4l.5 .6l.5 0l.5-1.7l.5-2.5l.5-.2l.5-2.9l.5-2.1l.5-4.1l.5-4.4l.5-7.5l.5-10.6l.5-17.9l.5-31.7l.5-57.8l.5-97l.5-128.2l.5-74.4l.5 74.4l.5 128.1l.5 96.9l.5 57.9l.5 31.8l.5 17.5l.5 10.9l.5 6.9l.5 4.9l.5 3.3l.5 2.1l.5 3.4l.5 2.2l.5 1l.5 1.1l.5 2.1l.5-2.3l.5 2.7l.5 1.8l.5-1.7l.5 2.7l.5-2.2l.5-.1l.5-1.4l.5 3.3l.5 .5l.5-.1l.5-.3l.5 .8l.5-1.1l.5-2l.5 2.9l.5 .4l.5 3.2l.5-4.4l.5 .8l.5-2.6l.5-.1l.5 1l.5 3.8l.5-1.9l.5-.1l.5-.8l.5 1.1l.5 1l.5-.4l.5-1l.5 .4l.5 .3l.5 .5l.5-.5l.5-1l.5-1.7l.5 2.3l.5-.2l.5-.1l.5-.5l.5-1.1l.5 3.3l.5-2.6l.5 .8l.5-.6l.5-1.2l.5 2.9l.5-3.3l.5 2.2l.5-.6l.5 .6l.5-1.5l.5 3l.5 .4l.5-.9l.5-1.8l.5-1.2l.5 4.9l.5-5.9l.5 1.1l.5 2.3l.5 .2l.5-2.5l.5 2.4l.5-2.8l.5 3.2l.5-.5l.5-.6l.5 1.6l.5-1.1l.5-4l.5 4.6l.5-.8" fill="none" stroke="#008000" stroke-width="8.0" stroke-linejoin="round" stroke-linecap="butt"/><path clip-path="url(#plot)" d="M111 1065.9l.5-1.5l.5 2.8l.5-1.5l.5-.2l.5-.6l.5 2.1l.5-2.2l.5 1.8l.5-1.3l.5 .6l.5-.2l.5 .8l.5 .2l.5-2l.5 2.3l.5-.4l.5 .4l.5 .5l.5-3.3l.5 3.6l.5-3.8l.5 1l.5 1.1l.5 .7l.5-.4l.5-.3l.5 .1l.5-1.7l.5 1.1l.5 2.7l.5-5.4l.5 2.4l.5 .1l.5-.9l.5 .8l.5 .2l.5-.4l.5 .2l.5-1.1l.5 1.8l.5-1.4l.5-.5l.5 3.4l.5-2.9l.5 0l.5-1.5l.5 2.4l.5-1.6l.5 .3l.5 1.5l.5-.3l.5-1.4l.5 1.3l.5-.2l.5-.6l.5-.9l.5 1.3l.5-2.1l.5 1.9l.5-.5l.5-1.4l.5 .1l.5 3.4l.5-4.6l.5 1.9l.5-.5l.5 .5l.5-.3l.5 .3l.5-.4l.5-1l.5-1.4l.5 .5l.5 .1l.5-.6l.5-.3l.5-1.6l.5-1.5l.5-.7l.5-1l.5-1.3l.5-1.8l.5-2.2l.5-3l.5-2.5l.5-2.7l.5-3.3l.5-3.3l.5-4.1l.5-3.2l.5-4.3l.5-2.7l.5-2.5l.5-2.1l.5-.2l.5-.7l.5 1.3l.5 2.3l.5 2.4l.5 3.9l.5 3l.5 3.9l.5 3.5l.5 3.2l.5 3.3l.5 3l.5 2.4l.5 3.2l.5 .9l.5 2.1l.5 2l.5 1l.5 1.4l.5-.6l.5 1.5l.5 .9l.5 1.4l.5-1.2l.5 1l.5 2l.5-1l.5 .3l.5-.3l.5 1.4l.5-2.7l.5 1.1l.5 .4l.5 .8l.5 0l.5-2.1l.5 2.4l.5-.9l.5 3.8l.5-3.1l.5 1.5l.5-1.6l.5 .3l.5-.5l.5 1.8l.5 .5l.5-2.6l.5 1.9l.5 .3l.5 .7l.5-1.9l.5 2.2l.5-2.8l.5 1.6l.5-.7l.5 .2l.5 1.6l.5-.6l.5 2.6l.5-3.2l.5-.6l.5 2l.5-.9l.5-.7l.5 1.9l.5 .2l.5-3.1l.5 1.2l.5 1.7l.5-2.1l.5 2.7l.5-2l.5 .7l.5-.3l.5-1.3l.5 1l.5-.5l.5 .3l.5 1.6l.5-.4l.5-.9l.5 .5l.5 1.4l.5-1.7l.5-.4l.5 1.3l.5-1.4l.5-.7l.5 3.4l.5-3.2l.5 1.4l.5 .3l.5-.8l.5 2.4l.5 .1l.5-1.6l.5-2.2l.5 2.2l.5-2.4l.5 2.6l.5 .3l.5-.5l.5 1l.5-1.2l.5-1.2l.5 .6l.5 1.7l.5-3.7l.5 2.7l.5-1.7l.5 4l.5-4.3l.5-.9l.5 3.6l.5-.1l.5-1.8l.5 .5l.5-1.3l.5 1.3l.5 1.1l.5-.6l.5-.4l.5-.6l.5 1.9l.5 .8l.5-.4l.5-3l.5 1.7l.5-1.2l.5 .6l.5 .8l.5 2.6l.5-2.7l.5-.3l.5-.6l.5 1.2l.5-2.5l.5 2.6l.5 .2l.5-2l.5 2.8l.5 .8l.5-3.5l.5 1.8l.5-1.5l.5-.2l.5 1.7l.5-.6l.5-1.8l.5-.3l.5 1.9l.5-1.8l.5 .1l.5 1.1l.5-.2l.5 1l.5 1.8l.5-3.7l.5 3.1l.5-3.3l.5 1.6l.5 1.1l.5 1.5l.5-4.6l.5 3.8l.5-2l.5 .3l.5 .4l.5 1.5l.5 .6l.5-2.3l.5-1.1l.5-.3l.5-1.6l.5 .7l.5 3l.5-3.2l.5 .5l.5 .7l.5-.1l.5-.2l.5-.2l.5 .4l.5 2.4l.5-.9l.5-.6l.5-1l.5 .9l.5 .2l.5-1.3l.5-.3l.5 1.5l.5-1.1l.5-.1l.5 .8l.5 0l.5-1.1l.5 2.9l.5-1.4l.5-.6l.5 1l.5 .7l.5-1.5l.5-3l.5 1.5l.5 1.3l.5 .2l.5 1.5l.5-1.1l.5-.9l.5 1.3l.5-1.7l.5 1.8l.5-2.8l.5 3.5l.5-2l.5 1.1l.5-1.2l.5-1.3l.5 1.3l.5 .3l.5 .2l.5-.2l.5 .3l.5-1.1l.5-1.2l.5 1.3l.5-1l.5 1.3l.5-.1l.5 .4l.5-.7l.5 1.3l.5-.1l.5 .1l.5-.3l.5 .4l.5 .2l.5-1l.5-2.6l.5 1.8l.5 2.5l.5-4.3l.5 2.6l.5-.8l.5 2.3l.5-1.2l.5-.8l.5 .3l.5-1.9l.5 4.1l.5-1.4l.5-1.9l.5 .4l.5 1.3l.5-1.4l.5-.2l.5 1.9l.5-1.1l.5 .5l.5 .6l.5-1.9l.5 2.6l.5-.7l.5-2.2l.5-.3l.5 1.5l.5 .3l.5-1.2l.5 .5l.5 0l.5-.1l.5 .8l.5 1.2l.5 .4l.5-3l.5 .8l.5-.6l.5 .6l.5-.4l.5 2l.5-.5l.5-1.7l.5 2.1l.5-2.3l.5 .9l.5 .5l.5-1.1l.5-.4l.5 1.1l.5 .5l.5-1.1l.5 2.1l.5-1.2l.5-1.4l.5 1.4l.5-1.2l.5 .8l.5 .3l.5-.2l.5 1.1l.5-1.5l.5 .3l.5-.9l.5-1.4l.5 1l.5 .7l.5-2.9l.5 3.1l.5 0l.5 .8l.5-.8l.5 .7l.5-1.2l.5-.5l.5 1l.5-1.7l.5 2.5l.5-2.7l.5 2.8l.5-2.3l.5 .1l.5-.7l.5 .9l.5 .4l.5-1.8l.5-.3l.5 1.8l.5-1.6l.5 2.3l.5 .5l.5-1.9l.5 4.1l.5-3.6l.5-1.1l.5 3.1l.5-1.5l.5-1.1l.5 .5l.5 1.5l.5 .1l.5-1.8l.5-1.2l.5 .5l.5 1.2l.5-.8l.5 .3l.5-.1l.5 1.2l.5-2.1l.5 .1l.5-2.1l.5 1.9l.5-1.7l.5 .9l.5 .8l.5-.8l.5 .5l.5-2.3l.5 1.8l.5 .5l.5-.2l.5 .3l.5-1.3l.5 1.5l.5-1.3l.5 .3l.5 1.4l.5 .5l.5-.6l.5-2.1l.5 .8l.5-.1l.5 .6l.5 1.7l.5-.5l.5-2.6l.5 1.8l.5-.1l.5-1l.5 .3l.5 1.7l.5-1.4l.5 0l.5-.3l.5-3.2l.5 3.8l.5 .9l.5 1.3l.5 .4l.5-3.7l.5 1.1l.5-.6l.5 .9l.5-1.4l.5 1.5l.5 .4l.5 0l.5-.3l.5 .7l.5-1.3l.5-.3l.5 .5l.5-.3l.5 .8l.5 .7l.5-1.3l.5-1.8l.5 .1l.5 2.3l.5 .1l.5 0l.5-3.5l.5 3.7l.5 2.2l.5-3.1l.5-.2l.5 1.5l.5-2.1l.5-.3l.5 2.4l.5-2.3l.5 1.8l.5-1.4l.5 .2l.5-.6l.5 1.5l.5-.6l.5-.1l.5-.3l.5-.2l.5 1.8l.5-.3l.5 .2l.5-2.4l.5 1.8l.5-2.4l.5 3.6l.5 .3l.5-.5l.5-1l.5 .1l.5-.8l.5-.8l.5 1.9l.5 .2l.5-1.7l.5-1l.5 .9l.5 .1l.5-.3l.5-1.3l.5 .4l.5 1.6l.5 2.1l.5-3.7l.5 1.7l.5-.5l.5 .7l.5-.3l.5 1.2l.5-1.2l.5-.8l.5 .9l.5-.1l.5 .8l.5-.3l.5 0l.5-.6l.5-.2l.5-.1l.5 .5l.5 1.1l.5 .3l.5-2.3l.5 .4l.5 .2l.5 2.1l.5-3l.5 1l.5-2.7l.5 3l.5-1.4l.5 1l.5 1l.5-2.5l.5-1.1l.5 3l.5-1.1l.5 1.2l.5 1.1l.5-2.7l.5-.4l.5 .5l.5-1l.5 1l.5 2.1l.5-2.1l.5-.8l.5 2.1l.5 .2l.5-3l.5 2.5l.5-.7l.5 1l.5-1.3l.5 .4l.5-.8l.5 3.7l.5-1.8l.5 .2l.5 0l.5-.7l.5 1.3l.5-.8l.5 2.3l.5-1.9l.5 .8l.5-3.3l.5 .8l.5 .1l.5-1.1l.5 1l.5 .1l.5-.8l.5 2.2l.5-1.6l.5 .8l.5-1.8l.5 1.4l.5-.6l.5 0l.5 2l.5-.7l.5-1.6l.5 .1l.5 1.9l.5-1.8l.5 .7l.5 1.7l.5-.1l.5-1.4l.5-.1l.5 .3l.5-.4l.5 .2l.5 1.3l.5-.9l.5-.2l.5-.4l.5 1.2l.5-1.6l.5 1.1l.5-1.8l.5 .8l.5 .7l.5-1l.5 1l.5-.2l.5-.7l.5 1.3l.5-.5l.5-.7l.5 .6l.5 .8l.5-2.1l.5-.3l.5 2.3l.5-2l.5 .4l.5-1.9l.5 2.2l.5 .5l.5-1.8l.5 1.9l.5-1.8l.5 .9l.5 1.8l.5 .4l.5-1.9l.5 1.6l.5-2.2l.5 1.8l.5-2.8l.5 2.2l.5-.8l.5-.8l.5 .9l.5-.2l.5 .2l.5 .9l.5-1.6l.5 .1l.5 .7l.5-.5l.5 .5l.5-1.3l.5 2.2l.5-2l.5 2.1l.5-.1l.5-1.7l.5 1.5l.5 .8l.5-1.8l.5 .8l.5-1.5l.5 2.2l.5-1l.5 1.5l.5-.7l.5-1l.5-1l.5 1.9l.5 .3l.5-1.6l.5 1.4l.5-.6l.5-.7l.5-.6l.5 .8l.5 1.1l.5-2.1l.5 .9l.5 0l.5-.7l.5-.3l.5 1.5l.5 .7l.5-1.4l.5-1l.5 1.3l.5-.4l.5 .6l.5-1.5l.5 2l.5-1.4l.5 1.7l.5-1.3l.5-.5l.5 .3l.5 .8l.5 0l.5 .5l.5-2.5l.5 .7l.5 .5l.5-2l.5 1.8l.5 1l.5-1.3l.5 .7l.5-.6l.5 .6l.5-1.1l.5 2.3l.5-.2l.5-.7l.5 1.7l.5-1.4l.5-.7l.5-2l.5 1l.5 1.9l.5 .9l.5-2.2l.5 1.5l.5-1.7l.5 .4l.5-.4l.5 .3l.5-.1l.5 .8l.5-1.6l.5 3.1l.5-1.1l.5-2.8l.5 .4l.5 4.1l.5-3.6l.5 1.8l.5-1.7l.5 4.4l.5-5.1l.5 3.6l.5-1.4l.5-.9l.5 .1l.5-.7l.5-1.3l.5 2.9l.5 1.5l.5-2.4l.5 .8l.5 .5l.5-2.6l.5 1l.5-1.2l.5 2.5l.5-1.9l.5 2.8l.5-.6l.5-2.1l.5 1.5l.5-.2l.5-.9l.5 .4l.5 .3l.5-2.1l.5 3.3l.5-2l.5-.2l.5 1.6l.5-1.8l.5 2.9l.5-.6l.5-1.2l.5 1.5l.5 .2l.5-2.1l.5-1.7l.5 .4l.5 .9l.5 1.7l.5-.2l.5-.8l.5 2.3l.5-2.4l.5 1l.5-2l.5 .5l.5 .7l.5 1.1l.5-3.7l.5 4l.5-2.7l.5 2.4l.5-1.4l.5-1.3l.5 .5l.5 3.2l.5-2.4l.5-.4l.5-1.1l.5 .4l.5 2.6l.5 .3l.5 .5l.5-1.6l.5-1.1l.5-.8l.5 2.8l.5-2.1l.5-1l.5 1.1l.5 .3l.5 1.3l.5-1.4l.5 1.7l.5-.6l.5-.7l.5-2.8l.5 .1l.5 2.5l.5 .7l.5 1.1l.5-3.8l.5 2.7l.5-.1l.5 .4l.5-.9l.5-.4l.5 .1l.5 .5l.5 .8l.5-2.2l.5 .3l.5-.3l.5 .9l.5-2.9l.5 4.4l.5-1.4l.5-1.3l.5 .8l.5-.1l.5-.3l.5 .5l.5 3l.5 .4l.5-5.5l.5 2.4l.5 .1l.5-1.7l.5 1l.5 0l.5 .3l.5-1.8l.5 .5l.5 2.3l.5-.3l.5 .1l.5 0l.5-2l.5 1.9l.5-1.1l.5 1.4l.5-1.3l.5 .9l.5-1.6l.5 2.5l.5-1.7l.5 .5l.5-1.4l.5 2.5l.5-.5l.5 .7l.5-2.7l.5 1.6l.5-.7l.5-.3l.5 .8l.5-1l.5 1.9l.5-2.7l.5 .3l.5 0l.5 1.7l.5-1.9l.5-.8l.5 2.2l.5 1l.5-2.1l.5 1l.5-.8l.5 .8l.5 .2l.5-2.6l.5 4l.5-2.1l.5 1.2l.5-.1l.5-2.1l.5 2.9l.5-2.2l.5-.6l.5 1.6l.5 1.9l.5-.7l.5-4.4l.5 2.2l.5 .5l.5-.7l.5-.5l.5 .4l.5-.6l.5 3l.5-1.5l.5-1.4l.5 1.4l.5 1.4l.5-2.1l.5 1.7l.5-2.7l.5 1l.5 3.4l.5-2.9l.5-1.5l.5 3.1l.5-1.9l.5 1.4l.5-1.2l.5-1.7l.5 3.7l.5-2l.5-1.7l.5 3.2l.5-1.3l.5 2.5l.5-1.3l.5-1l.5-2.3l.5 0l.5 1.7l.5-1.6l.5 1.9l.5 1l.5-.6l.5 1.1l.5-.6l.5-.6l.5-.9l.5-.5l.5 .6l.5 .3l.5 1.4l.5-1.7l.5-.8l.5-.1l.5-.1l.5 .2l.5 3.2l.5-.9l.5-1l.5 .3l.5-.9l.5-.8l.5-.5l.5 1.8l.5 .6l.5 .5l.5-2l.5 1.3l.5-2l.5 1.6l.5-.7l.5 .8l.5-2.2l.5 1.9l.5-.3l.5-.4l.5 1.7l.5-.5l.5 .2l.5 .9l.5-2.8l.5 2l.5-3l.5 1.8l.5-1.1l.5 .4l.5 1.4l.5 .6l.5-.4l.5 .4l.5-.1l.5-1.2l.5 .8l.5-.9l.5-.9l.5 2.3l.5-1.6l.5-1.5l.5 .1l.5 2.2l.5-.5l.5-.3l.5 .7l.5-.8l.5-.1l.5-.8l.5 1.7l.5 1.1l.5-2.5l.5 .1l.5 1.5l.5 0l.5 .2l.5-1.5l.5 .8l.5-.8l.5 .9l.5-1.6l.5 1.6l.5-1.9l.5 3.7l.5-3.8l.5 1.8l.5 1.2l.5-1.5l.5 .8l.5-1.8l.5 2.1l.5 .4l.5-.1l.5-1.7l.5 2l.5-1.1l.5-.4l.5-.8l.5 1.6l.5-.3l.5-1.2l.5-.3l.5 .9l.5-1.6l.5 2.6l.5-.1l.5 .2l.5-1.6l.5 3.6l.5-2.7l.5 1.2l.5-.8l.5 .3l.5-2l.5 2.3l.5-2l.5-1.1l.5 1.5l.5 1.7l.5-.7l.5-.6l.5-1.5l.5 2.4l.5-.9l.5-1.2l.5 1.6l.5-1.4l.5-.5l.5 1.3l.5 .1l.5-1.6l.5 3.2l.5-2.6l.5 1.1l.5-1.1l.5-.1l.5 .3l.5-.5l.5 .7l.5 .5l.5-1.7l.5 2l.5 .1l.5-1l.5 .9l.5-.1l.5 .5l.5-.9l.5-.6l.5-.3l.5 .5l.5 .1l.5 .9l.5-1.6l.5 .2l.5 .1l.5 2.1l.5 1.4l.5-4.1l.5-.4l.5-.2l.5 1.7l.5 .2l.5 0l.5-.6l.5 .5l.5 .3l.5 2.5l.5-3l.5 .7l.5-1.2l.5 .7l.5 0l.5 2.5l.5-3.7l.5 .6l.5-.6l.5 1.3l.5-.3l.5-1.3l.5 1.4l.5 0l.5-.2l.5-.4l.5 1.1l.5-.6l.5 0l.5 0l.5-.8l.5 .4l.5 .2l.5-.7l.5 1.4l.5-2l.5 2l.5-1.4l.5-.2l.5 .8l.5-.2l.5 1.1l.5-1.9l.5-.1l.5 1.2l.5 1.7l.5-3l.5 2.4l.5 1.1l.5-2.8l.5 1.8l.5-1.4l.5-.4l.5 .1l.5 0l.5-.7l.5 1l.5-.6l.5 2.7l.5-.6l.5-1.6l.5 0l.5 1.1l.5 1.8l.5-1l.5-1l.5 1.1l.5-3.7l.5 .1l.5 2.1l.5-1.3l.5 .9l.5-.3l.5 .4l.5 .2l.5-.8l.5 0l.5 1.4l.5-1.1l.5-.2l.5-.1l.5-.5l.5-.3l.5 2.7l.5-3l.5 1.6l.5-.3l.5-.1l.5 .6l.5 2.5l.5-1l.5-2.2l.5-1.5l.5 2l.5-.4l.5-.8l.5 1.8l.5-1.2l.5-.2l.5 2.4l.5-.8l.5-1.4l.5 1.9l.5-1.3l.5-.8l.5-.1l.5 .1l.5 .1l.5-.7l.5 .5l.5-1l.5-.1l.5 1.9l.5 .3l.5-.8l.5-1.1l.5 .9l.5-1.2l.5 .1l.5 .6l.5 1.2l.5 1.7l.5-1.5l.5-1.2l.5-.6l.5 1.6l.5 .4l.5-1.4l.5 1.5l.5 .1l.5-1.3l.5 .1l.5-.9l.5-.7l.5 1.4l.5 .2l.5-.7l.5 0l.5 1.5l.5-1.2l.5 2.8l.5-2.1l.5 .6l.5-1.4l.5 0l.5-.3l.5-.4l.5 2.4l.5-.4l.5-1.6l.5 .9l.5 0l.5-.9l.5 .7l.5-1l.5 1l.5 .6l.5-.9l.5 1.5l.5-.6l.5-2.3l.5 1.9l.5-.5l.5-.2l.5-1.1l.5 2.3l.5-1.9l.5 1.8l.5-.1l.5 .6l.5-1.8l.5 1.7l.5-2.1l.5 2.6l.5-1.3l.5-.4l.5 .2l.5 .7l.5-1.8l.5 1l.5-.7l.5 .7l.5-.9l.5 .9l.5 .9l.5-1.9l.5 .9l.5 1.2l.5-.8l.5 .8l.5-2.5l.5 .4l.5 1l.5 1.1l.5-1.7l.5 1.6l.5-2l.5 2.5l.5-2.6l.5 2.7l.5-2.3l.5 .2l.5-.5l.5 .7l.5 2.5l.5-1.7l.5-.9l.5-.2l.5 1.3l.5-2.2l.5 2l.5-.1l.5-.8l.5 .5l.5-.4l.5 .7l.5-.5l.5 .8l.5-1.3l.5 .8l.5-.3l.5-.9l.5-.2l.5 2.2l.5-3.5l.5-.3l.5 3.4l.5 .3l.5-.1l.5 .8l.5-1.1l.5 .3l.5-.9l.5 .6l.5 1.3l.5-1.5l.5-1.5l.5-.3l.5 2.2l.5-2.3l.5 .7l.5-.1l.5 3.2l.5-2.7l.5-.1l.5 1.2l.5-.6l.5-2.3l.5 1.5l.5-2.1l.5 2.7l.5 .6l.5-.9l.5 2.1l.5-4.6l.5 4.2l.5-1.9l.5 .5l.5-.8l.5 .6l.5 .4l.5-1.8l.5 .8l.5-.4l.5-.1l.5 1.5l.5-.6l.5 .9l.5-.8l.5 .4l.5 2.2l.5-1.3l.5-2.2l.5 .2l.5 1.3l.5 .4l.5-1.6l.5-.6l.5 1.1l.5 1.8l.5-1.1l.5-.9l.5 .3l.5-.6l.5 1.4l.5-2.3l.5 1.3l.5 .9l.5-1l.5 1.3l.5 .1l.5 .8l.5-1.8l.5-1.1l.5-.3l.5 1.3l.5-1.8l.5 3.1l.5-2.2l.5 0l.5 .4l.5 .8l.5-.8l.5 .8l.5-.7l.5 1l.5 1l.5-2.4l.5 .9l.5-1.7l.5 1.6l.5 1.8l.5-.7l.5 1l.5-1.8l.5-1.3l.5 2.2l.5 1.2l.5-2.3l.5-.8l.5-.6l.5 1.7l.5 1.2l.5-2.7l.5 .7l.5-.2l.5 1.5l.5-1.2l.5 1.8l.5-2.3l.5 .7l.5 .2l.5-.3l.5 .4l.5-.1l.5 .7l.5-.9l.5 .1l.5-.5l.5 1.5l.5-.3l.5-2.4l.5 2.6l.5 .6l.5-2.6l.5 .8l.5 1.2l.5-.4l.5-.6l.5 1.8l.5-1.8l.5 .7l.5 1.1l.5-2l.5 1.2l.5-1.8l.5 .5l.5 .7l.5-.7l.5 .2l.5 0l.5-.4l.5 1.2l.5 1.2l.5-2.3l.5-1.5l.5 1.4l.5 0l.5 1.4l.5-.4l.5-1.7l.5 1.6l.5-1.9l.5 2.2l.5 .9l.5-2.7l.5 1.7l.5-1l.5-.2l.5 .8l.5 .3l.5-.9l.5-.2l.5 .2l.5 1l.5 1.7l.5-1.3l.5-3.3l.5 2.5l.5-2.4l.5 3.5l.5-.6l.5 .5l.5 0l.5-.9l.5-.3l.5 1.6l.5-1.7l.5 .9l.5-1.5l.5 .1l.5 1.4l.5-1l.5-.2l.5 1.1l.5-3.1l.5 1.1l.5 1.1l.5 1.7l.5-.6l.5-.3l.5-1.2l.5 1.1l.5-.8l.5-1.3l.5 .5l.5 3.3l.5-2.1l.5 0l.5 .9l.5 0l.5-.8l.5-.2l.5-.8l.5 3.2l.5-1.3l.5-.8l.5 0l.5-1.1l.5 2.3l.5 1.3l.5-3.3l.5 .8l.5 1.8l.5-2.1l.5-1.2l.5-.7l.5 2.6l.5-.9l.5 1.2l.5-1.9l.5 2l.5-1.1l.5-1.6l.5 2.2l.5-.4l.5-1.5l.5 1.9l.5-1.2l.5-.4l.5 .3l.5-.1l.5 .9l.5-.6l.5-.4l.5 .3l.5 .7l.5 .2l.5-1l.5 .6l.5-.9l.5-1.1l.5 2l.5 1.6l.5-1.6l.5 0l.5-1.2l.5 .5l.5 1.7l.5-1.9l.5 .4l.5-.3l.5 3l.5-.6l.5-.4l.5 .8l.5-1.3l.5-.3l.5 .2l.5 .3l.5 .5l.5-3l.5-.5l.5 3l.5-1.2l.5 .7l.5 .1l.5-3.1l.5 2.5l.5-.6l.5-.2l.5 0l.5 4l.5-3.1l.5-1.2l.5 2.1l.5-.3l.5 .9l.5-1.9l.5 1.2l.5-1.8l.5 1.9l.5-1.4l.5 .7l.5-.9l.5 0l.5 .6l.5-.3l.5-.9l.5 3.1l.5-1.8l.5-1l.5-.8l.5 1.8l.5 .5l.5-2.5l.5 1.4l.5 .7l.5-.9l.5 .2l.5 1.4l.5-2.7l.5-.4l.5 1.1l.5 .3l.5 1.7l.5 .1l.5-2.1l.5 .9l.5-.7l.5 .3l.5 1.7l.5-2.1l.5 1.9l.5-1.1l.5 1.1l.5-1.8l.5-.9l.5 3.7l.5 1.1l.5-1l.5-1.8l.5 .2l.5 0l.5-.1l.5 2.2l.5-1.6l.5 1l.5-1.5l.5 1.1l.5-2.1l.5 0l.5-.2l.5 1.9l.5 .8l.5-2.1l.5 .5l.5-1l.5 0l.5-.9l.5 3l.5-2.3l.5-.3l.5 .7l.5-.1l.5 .1l.5-.4l.5 2.1l.5-1.4l.5 .3l.5-.4l.5-.8l.5 .9l.5-.4l.5 .8l.5-.3l.5-.9l.5 1.2l.5-1l.5 1.3l.5-1.6l.5 .5l.5 0l.5-.5l.5 .7l.5-.5l.5 .2l.5 2.2l.5-1.3l.5-1.6l.5 1.5l.5-1.1l.5-.7l.5 .4l.5 2l.5-2.7l.5 .8l.5-.1l.5 .4l.5 1.5l.5-1l.5 1.2l.5-1.7l.5 1.6l.5-1.3l.5 1.1l.5-1.1l.5 1.6l.5 .6l.5-2.5l.5 .1l.5 1.2l.5-.3l.5-1.8l.5 1.1l.5 .9l.5 1.3l.5-2.5l.5-.3l.5 1.4l.5-.6l.5-.4l.5 .3l.5-.5l.5 1.3l.5-2.5l.5 1.7l.5 .7l.5-.3l.5-2.9l.5 2.3l.5-.8l.5 2.9l.5-.1l.5-1.2l.5-.7l.5 1.2l.5-.1l.5-2.6l.5 3.4l.5-1.5l.5-1.6l.5 2.5l.5-2.5l.5 1.9l.5 1l.5 .1l.5-1l.5-1.2l.5 1.7l.5 0l.5 .7l.5-3l.5 1.3l.5 .2l.5-.6l.5 0l.5 .5l.5-1.2l.5 1l.5 .6l.5-2.2l.5 1.9l.5-.6l.5 .8l.5 1.1l.5-1.9l.5-.7l.5 2.6l.5-1.3l.5-1.9l.5 2.5l.5-.3l.5-1.7l.5 1.3l.5 .6l.5-1.9l.5 1.5l.5-.4l.5 .6l.5 .8l.5-1.3l.5-.2l.5 1.3l.5-.5l.5 1.6l.5-2.5l.5-.8l.5 2.9l.5-1.6l.5-.4l.5 .6l.5 1.6l.5-3.2l.5-1.4l.5 1.6l.5 0l.5 2l.5-1.4l.5 .7l.5-.4l.5-1.2l.5 2.5l.5-.8l.5 1.2l.5-1.6l.5-1.2l.5 1.8l.5 1l.5-1.3l.5-1.3l.5 .9l.5 1.6l.5 .1l.5-2.4l.5 .4l.5-1.7l.5 2.2l.5 .2l.5 3.6l.5-3.7l.5 1.7l.5-1.4l.5-.8l.5 1.4l.5 .8l.5-2.9l.5 1.8l.5 .6l.5-2.3l.5 1.4l.5-.1l.5 .5l.5 1.6l.5-2.8l.5-.1l.5 1.5l.5-.5l.5-.2l.5-2.2l.5 2.3l.5-.1l.5-.3l.5-.4l.5 .2l.5-.1l.5 1.9l.5-.9l.5 .3l.5-.4l.5 .4l.5-1.4l.5 2.2l.5-.9l.5 .6l.5-1.2l.5 .4l.5 .3l.5-.6l.5-1l.5 1.2l.5 1.2l.5-.8l.5-1.6l.5 1.4l.5 .6l.5-.6l.5-1l.5-.7l.5 2.5l.5-.8l.5 2.7l.5-2.5l.5 .2l.5-1.4l.5 1.3l.5 1.2l.5-1.6l.5-.5l.5-1.5l.5 1.7l.5-2.5l.5 3.1l.5 .3l.5-2.1l.5 .6l.5 .3l.5-1.8l.5 .6l.5 .8l.5-.7l.5 1.9l.5-.1l.5-.7l.5 .7l.5-2.3l.5 1.5l.5 .1l.5-.2l.5-.6l.5 .1l.5 .4l.5-1.4l.5-1.3l.5 .2l.5-.8l.5-1.4l.5-.2l.5-1l.5-1.3l.5-1.6l.5-1.3l.5-2.1l.5-.8l.5 .3l.5-2.5l.5 .9l.5 1.8l.5-.9l.5 1.8l.5 1.6l.5 .2l.5 .9l.5 1.7l.5 1.9l.5 .8l.5 1.9l.5 .9l.5-.8l.5 1.6l.5 .1l.5 .6l.5-.5l.5-.2l.5 .6l.5 1.3l.5-.8l.5 .4l.5 .1l.5-.2l.5-.6l.5-1.1l.5 1.5l.5 .5l.5-.4l.5-.7l.5 1.8l.5-2l.5 1.5l.5 .4l.5-.5l.5 0l.5-.6l.5-.8l.5-1l.5 1.7l.5 .1l.5-1.9l.5 3.3l.5-1.4l.5-.2l.5-.3l.5-.3l.5 .5l.5-.3l.5-1.5l.5 .7l.5 .5l.5-1l.5 1.3l.5-.7l.5-.4l.5-.2l.5 .2l.5-3.3l.5 .5l.5 .7l.5-.9l.5-.1l.5-.6l.5-1.4l.5 1.4l.5-.3l.5-1.3l.5-1.4l.5-.7l.5 .1l.5-2l.5-.6l.5-1.9l.5-1.6l.5-2.5l.5-2.8l.5-3.2l.5-4.1l.5-4.9l.5-6.3l.5-8.4l.5-10.9l.5-14.6l.5-19.2l.5-25.1l.5-31.8l.5-37.7l.5-40l.5-32.8l.5-13.1l.5 13.1l.5 32.8l.5 40l.5 37.9l.5 31.7l.5 25.1l.5 19.3l.5 14.5l.5 11l.5 8.6l.5 6.1l.5 4.9l.5 4.9l.5 2.8l.5 3l.5 1.4l.5 2.3l.5 1.9l.5 .5l.5 1.3l.5 .9l.5 1.8l.5 0l.5 .5l.5 .4l.5 1l.5 1.6l.5-1.7l.5 2.1l.5 .5l.5-.3l.5-.1l.5 .3l.5 2l.5 0l.5-.3l.5 .1l.5-.9l.5-.7l.5 1.2l.5 .8l.5 .5l.5-2.1l.5 .4l.5 .3l.5 2.1l.5-.8l.5 0l.5-1l.5 1.8l.5-.9l.5-.3l.5 0l.5 .3l.5 2l.5-1.7l.5-.7l.5 1.1l.5 .8l.5-2l.5 1.9l.5-3.3l.5 3.6l.5-.1l.5-2.3l.5 1.6l.5 .7l.5 .8l.5-.5l.5-1l.5 1.2l.5-.8l.5-.1l.5 2l.5-.8l.5-.4l.5-2.2l.5 .5l.5-.5l.5 2.7l.5-.7l.5 .3l.5 .3l.5-1.6l.5-1.2l.5 1.2l.5 1.3l.5-.1l.5-.3l.5 1.1l.5-2l.5 2.8l.5-3l.5 .6l.5-1.6l.5 2.3l.5 1.7l.5-.6l.5-.4l.5 1.2l.5-1.3l.5-.6l.5-.9l.5-.5l.5 2.3l.5-2.2l.5 .6l.5 .3l.5 0l.5 1.1l.5-1.4l.5-.1l.5 1.4l.5-1.2l.5 .3l.5 1.1l.5-.9l.5-.6l.5 2l.5-1.9l.5 1.2l.5-.5l.5 .6l.5 .5l.5-.2l.5-1.4l.5 .8l.5-.8l.5 2.4l.5-1.6l.5 1l.5-3.8l.5 3.3l.5-.7l.5 .5l.5-1.8l.5 .3l.5 .5l.5 .3l.5-.2l.5 1.1l.5-.1l.5 1.2l.5-3.1l.5 .1l.5 2.1l.5-1.1l.5-.8l.5 .8l.5 .5l.5-2.1l.5 2.7l.5-2.2l.5 2.2l.5-.3l.5-2.1l.5 .9l.5 .3l.5-.5l.5-.5l.5 .2l.5 1.6l.5-1l.5-1.4l.5 1.2l.5 0l.5 .9l.5 .8l.5-3.4l.5 3.2l.5-1.2l.5 .7l.5 .5l.5-1.2l.5 .1l.5 1.5l.5-.3l.5-.3l.5 .4l.5-1.3l.5-.4l.5 .7l.5 0l.5 1.8l.5-3.4l.5-1l.5 2.3l.5 .4l.5-1.4l.5 3.1l.5-1.3l.5-1.9l.5 1.2l.5-.2l.5 1.4l.5-1l.5 2.4l.5-2.1l.5-1.2l.5 1.3l.5 .3l.5 1.2l.5-1.6l.5-1.8l.5-.4l.5 4l.5-2.6l.5-.2l.5 1l.5 .5l.5 .5l.5 .4l.5-1.1l.5-1.8l.5 2.3l.5-2.8l.5 2.2l.5 1.3l.5-.4l.5-3.3l.5 2.6l.5-.9l.5-2.4l.5 2.4l.5 0l.5-.9l.5 .5l.5 1.9l.5-.6l.5 .3l.5-2.2l.5 2.6l.5 1.6l.5-2l.5-1.2l.5-.4l.5 .9l.5-1.5l.5 2.1l.5-1l.5 .4l.5-.5l.5-.1l.5-1l.5 1.5l.5-2.3l.5 1.6l.5 .1l.5 1.7l.5-.1l.5-1.6l.5 1.2l.5-1.7l.5-.2l.5 .3l.5 1.1l.5-.8l.5-1.8l.5 2.9l.5-.6l.5 .2l.5-.1l.5-1.1l.5 1.5l.5-.7l.5 .2l.5-.5l.5 2l.5-1.5l.5 1.5l.5-.8l.5-2.4l.5 2.1l.5 .3l.5-1.2l.5-1.1l.5 2.6l.5-1.2l.5-1.2l.5 2.2l.5-.2l.5 1.7l.5-2.5l.5 .6l.5-.5l.5 1.1l.5-1.2l.5-.7l.5 .4l.5-.2l.5 2l.5-.4l.5 .3l.5-2.5l.5 2l.5-.9l.5-1.1l.5 3l.5-2.1l.5 1.2l.5 .6l.5-3.2l.5-.3l.5 2.9l.5-2.3l.5 2.3l.5-2.7l.5 .5l.5 3l.5-.3l.5-1.1l.5 .3l.5-2.1l.5 1l.5-1.9l.5 4.2l.5-1.7l.5-2.4l.5 1.4l.5 2.7l.5-1.2l.5 .1l.5-.6l.5-1.1l.5-1.2l.5 2.6l.5-.4l.5 .8l.5-.9l.5-.5l.5-.5l.5 .1l.5 1.3l.5 1.9l.5-3.1l.5 1.7l.5 .6l.5-2.4l.5 1.4l.5-.1l.5 .1l.5 .3l.5-.4l.5 0l.5-2.5l.5 2.6l.5 1.1l.5-.5l.5 1.1l.5 .6l.5-1.4l.5-2.7l.5 3.1l.5 0l.5-1.9l.5-.5l.5 .8l.5 1.6l.5-1.5l.5 .8l.5-1.4l.5-.7l.5 .6l.5 .6l.5-.9l.5-.2l.5 .3l.5 1.6l.5 1.9l.5-1.2l.5-.9l.5-2.6l.5 3.3l.5-1.9l.5-.8l.5-.3l.5 1.6l.5-1.5l.5 1.1l.5 1.9l.5 0l.5-1.8l.5-1.1l.5 .7l.5 2.2l.5-.4l.5 .8l.5-3.1l.5 2.3l.5 1l.5-1.3l.5-.8l.5 .2l.5-.7l.5-1.2l.5 3.4l.5-3l.5 1.9l.5-1.2l.5-.5l.5 2.5l.5-2.2l.5-1.8l.5 3.4l.5 .7l.5 .1l.5-.9l.5 .9l.5-2.1l.5 1.3l.5-.6l.5-1.7l.5 2l.5 0l.5-1.3l.5-1.2l.5 1.7l.5 .3l.5-.7l.5 1.1l.5 .3l.5 .6l.5-.4l.5 .7l.5-2.5l.5 2.5l.5-1.4l.5-1.8l.5 2.5l.5-.6l.5-.1l.5 2.3l.5 .2l.5-.3l.5-.8l.5-1.2l.5 .3l.5-3.2l.5 2.7l.5-.7l.5 2.9l.5-4.1l.5 2l.5-.2l.5 3l.5-3.8l.5 1.2l.5-1l.5 .9l.5-.7l.5 1.4l.5-1.7l.5 2.9l.5-1.1l.5 .5l.5-.3l.5 0l.5-.3l.5-.9l.5 .8l.5-1.6l.5 2.2l.5-1.3l.5-.5l.5 .2l.5-.8l.5 2.7l.5-2.2l.5 1.2l.5 .5l.5 .2l.5 .3l.5-2l.5-.1l.5 1.3l.5 .4l.5-1.9l.5 2l.5 .2l.5-.3l.5-1l.5 1.3l.5-.4l.5-3.1l.5 4.4l.5-1.9l.5 2.2l.5-2.5l.5 0l.5-1.6l.5 2.9l.5-.8l.5 .2l.5-1.1l.5 .1l.5-.1l.5-.7l.5 1l.5 1.1l.5 0l.5-1.8l.5 1.2l.5 .2l.5-1.3l.5 2.5l.5-.6l.5-1.9l.5 2.8l.5-3l.5 2.4l.5-.2l.5-2.6l.5 2.6l.5 .6l.5-2.7l.5 1.1l.5-.2l.5-.5l.5 1.1l.5-1.5l.5 1.2l.5 0l.5-1.8l.5 2.1l.5-.9l.5 0l.5 1.6l.5-1.4l.5-.5l.5 1l.5 .3l.5 .2l.5-1.5l.5 .9l.5 .3l.5-2.4l.5 4.6l.5-2.4l.5 2.1l.5-1.9l.5-2.5l.5 2.1l.5 1.1l.5-1.8l.5 .6l.5 .3l.5 .2l.5 .2l.5 1.9l.5-2.1l.5-.6l.5 .7l.5-.9l.5 1l.5 .2l.5-.3l.5 .6l.5-.4l.5-.1l.5 1.3l.5-2.8l.5 1.1l.5 .7l.5 0l.5 1.6l.5 .3l.5-1.2l.5-1.8l.5 1.6l.5-1.8l.5 .9l.5-.6l.5-1.1l.5 .4l.5 2.2l.5-.2l.5-2.5l.5 1.7l.5 .1l.5 .6l.5-.4l.5 .3l.5-.9l.5 1.7l.5-.5l.5-2.5l.5 .2l.5 1.8l.5 .3l.5-1.1l.5-.6l.5 1.7l.5-1.7l.5 1.1l.5-.5l.5 .6l.5-2.1l.5 1.7l.5 1.4l.5-1l.5-1.1l.5 4.1l.5-3.5l.5-1.1l.5 .1l.5 .7l.5 .8l.5-2.7l.5 2.5l.5 1.8l.5-2.2l.5 1.8l.5 .3l.5-1.3l.5 0l.5 .6l.5-1.5l.5 .7l.5 1.5l.5-3.3l.5 1.7l.5-.1l.5 2.3l.5-1.2l.5-.9l.5 .9l.5-2.4l.5 1.7l.5-1.6l.5 1.1l.5-.8l.5 1.7l.5 1.6l.5-.8l.5-1.6l.5-1.8l.5 3.6l.5-1.6l.5-1l.5 .6l.5 1.5l.5 .8l.5-2l.5-.4l.5 .4l.5-.1l.5-1.7l.5 .4l.5 .1l.5 .9l.5 1.2l.5-2l.5 1.6l.5 .9l.5-3.3l.5 1.8l.5-.5l.5 1.4l.5-.3l.5-.9l.5 2.4l.5-2.5l.5 .6l.5 1.1l.5 .8l.5-2.5l.5 3.1l.5-1.3l.5-2.1l.5-1l.5 4l.5-2.4l.5 .1l.5 .4l.5-1.1l.5 2l.5-3l.5 1.4l.5-1.1l.5 .4l.5 1.8l.5-1.7l.5 1.8l.5-1.6l.5 1.8l.5-3.1l.5 1.3l.5 2.2l.5-1.2l.5-.6l.5 .9l.5-.8l.5 0l.5 .2l.5-2.1l.5 2l.5 2.1l.5-1.5l.5-1.8l.5 2.8l.5-3.7l.5 .8l.5 2.6l.5-.6l.5-.3l.5 .8l.5-.1l.5-1.4l.5-.2l.5-.4l.5 1.2l.5 1.1l.5-.1l.5-2.3l.5 1.2l.5 1.7l.5-4.7l.5 3.3l.5 .7l.5-.1l.5-3.3l.5 3.3l.5-.5l.5-.9l.5 1.4l.5 .1l.5-1.1l.5-.4l.5 .7l.5 2l.5-1.9l.5-1l.5 1.1l.5-1l.5 1.3l.5 1.4l.5-1.4l.5-.3l.5 .3l.5-1.3l.5 .3l.5-.3l.5 1.3l.5-.3l.5-.1l.5 2.6l.5-1.8l.5 .8l.5-1.3l.5-2.4l.5 3l.5-2.8l.5 1.9l.5-2.4l.5 1.9l.5 .6l.5 3.2l.5-3.6l.5 1.5l.5-1.4l.5 .8l.5-1.5l.5 1.4l.5-1.3l.5 .2l.5 .5l.5 .3l.5 1.5l.5 .2l.5-2.7l.5-.7l.5 2.1l.5 .3l.5-1l.5 .8l.5 .1l.5-1.6l.5-.9l.5 3.4l.5-.1l.5-2.7l.5 1.4l.5-.7l.5 .3l.5-.7l.5-.9l.5 .7l.5 2.5l.5-1.4l.5-1.3l.5 3.2l.5-3l.5 1.3l.5-2.3l.5 2.3l.5 .6l.5-2l.5 1l.5-1.5l.5 2.2l.5 .5l.5-.7l.5-.4l.5 1l.5-.4l.5 1l.5-.7l.5 .8l.5-3.2l.5 1.5l.5-2l.5 1.7l.5 1l.5 .2l.5-1.4l.5 .8l.5-.7l.5 .5l.5 1.7l.5-.6l.5-.6l.5 .7l.5-.6l.5-2.1l.5 1.5l.5 .6l.5-1.1l.5 1.1l.5-1l.5 2.1l.5-2.1l.5 2.1l.5-.9l.5-1.4l.5 1.2l.5 .3l.5-1.9l.5 1.5l.5 .2l.5-1.8l.5 1.4l.5-.4l.5-1.4l.5 1.6l.5 2.6l.5-3.2l.5 .9l.5-2l.5 3.1l.5-1.3l.5 .7l.5-.8l.5 .9l.5-1.3l.5 1.4l.5-.2l.5 .1l.5-2l.5 1.3l.5-.3l.5 2.3l.5-.8l.5-1.7l.5-.2l.5 .8l.5-1.2l.5 .2l.5 .2l.5-.6l.5 3.1l.5-3.8l.5 1.2l.5 3.1l.5-2.7l.5 .5l.5 .5l.5-2.7l.5 1.8l.5 .9l.5-3.2l.5 4.8l.5-.7l.5-3l.5 .9l.5 1.7l.5-1.7l.5 .4l.5 .8l.5-2.6l.5 2.9l.5 .1l.5-.7l.5-.5l.5 1.4l.5-1.9l.5 .9l.5-.7l.5-1.6l.5 2.2l.5-.3l.5-.1l.5 .3l.5-1l.5-.3l.5 .7l.5 .8l.5-1.6l.5 1.9l.5-2l.5 .7l.5 .4l.5-.9l.5 1.2l.5-1.9l.5 1.8l.5-1.2l.5 1.9l.5-1.7l.5 1.7l.5-1.4l.5 1.8l.5-1.2l.5 .8l.5-.5l.5 .2l.5-.2l.5-1.3l.5 1.5l.5-.1l.5-.6l.5 2l.5-2.3l.5 2l.5-2.4l.5 1.1l.5-1.6l.5 3l.5-.8l.5-1.7l.5 2.7l.5-.5l.5-.8l.5 .4l.5-1.4l.5 2.1l.5-3.9l.5 3l.5-1l.5 0l.5-.1l.5 .3l.5 .8l.5 0l.5 .3l.5 .2l.5 .2l.5-2.5l.5 .7l.5 2.6l.5-1.9l.5 2l.5-3l.5 .2l.5 1.2l.5-1.2l.5 1.6l.5-1.2l.5 .8l.5-2.5l.5 3l.5-1.1l.5-1.4l.5 .9l.5-.5l.5 1.3l.5-.2l.5 .5l.5-1.1l.5-1.3l.5 2.1l.5-1.8l.5 4l.5-4l.5 1.5l.5 1.2l.5-2.1l.5 1.5l.5-2.1l.5-2.2l.5-1.8l.5-3.4l.5-3.9l.5-3.3l.5-2.3l.5 2.2l.5 3.1l.5 4l.5 3.5l.5 2.7l.5 .4l.5 1.1l.5 1.5l.5-.8l.5-.4l.5 1.5l.5-1l.5 0l.5 .3l.5 1.5l.5-.5l.5 1.2l.5-1.8l.5-.6l.5-.7l.5 1.2l.5 .1l.5-1.3l.5 3l.5-1.1l.5-2.4l.5 2.3l.5-.7l.5 .3l.5 .9l.5-2.3l.5 1l.5 2.2l.5-.8l.5 .2l.5-1.9l.5-.1l.5-1l.5 1.9l.5 2.1l.5-3.2l.5 1.7l.5-1.2l.5 .5l.5 1.8l.5-2l.5 .9l.5-2.2l.5-.4l.5 1.5l.5 .2l.5 1.2l.5-.6l.5-2.5l.5 4.3l.5-2.4l.5 .6l.5 .5l.5-1.1l.5 .6l.5-.3l.5 .5l.5-1.8l.5-1.5l.5 2.4l.5 .5l.5 .6l.5 1.6l.5-1.9l.5 1.2l.5-3.8l.5 1l.5 .9l.5-.4l.5 .5l.5-1.9l.5 2.7l.5-1.6l.5 1.2l.5 .3l.5-2.1l.5 1.2l.5-.1l.5-.5l.5-.7l.5 .7l.5 1.4l.5-.8l.5 .7l.5 .3" fill="none" stroke="#000080" stroke-width="7.8" stroke-linejoin="round" stroke-linecap="butt"/><path clip-path="url(#plot)" d="M111 1228.2l.5-1.8l.5 .1l.5 1.3l.5 .5l.5 .6l.5-.6l.5 3l.5-2.9l.5 .7l.5-.9l.5-.6l.5 .8l.5 1.4l.5-2.9l.5-1.6l.5 1.7l.5 2.5l.5-2.6l.5 1.9l.5 1.6l.5-1.2l.5-3.8l.5 3.2l.5-1.3l.5 .5l.5-1.4l.5 2l.5 .8l.5-1.8l.5-1.3l.5 .2l.5 4l.5-2.7l.5-.7l.5 2l.5-2.2l.5 .5l.5-1l.5 1.9l.5-.5l.5 1.9l.5-2.2l.5-.6l.5-.8l.5 2.1l.5-1.8l.5 .9l.5-.8l.5 2.8l.5-3.5l.5-.7l.5 2l.5-.5l.5-.3l.5 1.5l.5-.2l.5-.3l.5 1.5l.5-3.2l.5 2l.5-2.2l.5 1.2l.5-4.1l.5 2.4l.5 1.2l.5 .3l.5-1.5l.5-1.3l.5 2l.5 .3l.5-4l.5 1.6l.5-.1l.5-.7l.5-2.2l.5 .7l.5-.9l.5-1.3l.5-.3l.5-1.2l.5-2.2l.5-.4l.5-3.1l.5-.3l.5-3.6l.5-1.1l.5-3.4l.5-1.8l.5-2.4l.5-3.2l.5-1.9l.5-3l.5-1.9l.5-1.1l.5-1l.5 .3l.5 .1l.5 2.2l.5 .2l.5 1.5l.5 2.2l.5 2.5l.5 2.7l.5 2.1l.5 3.4l.5 1.8l.5 1.6l.5 2.1l.5 2.7l.5 1.4l.5 .9l.5 1.2l.5 1.1l.5 2l.5 .4l.5-.3l.5 2.4l.5-2.1l.5 2.1l.5 2.7l.5-.3l.5-2.9l.5 1.9l.5 0l.5 2.4l.5-.5l.5 1.4l.5-.6l.5 .1l.5-2l.5 .8l.5 .1l.5-1.1l.5 3.7l.5-1.2l.5-2.9l.5 3.8l.5-2.4l.5 2.3l.5-1.8l.5-.6l.5-.1l.5-.6l.5 1.2l.5-1.3l.5 3.1l.5-1.8l.5 .8l.5 .9l.5-2.3l.5-.5l.5 4.8l.5-5.1l.5 1.4l.5 1.9l.5-.1l.5-1.1l.5-1.3l.5 3.5l.5-.9l.5-1l.5-.1l.5 1.3l.5 .3l.5-1.6l.5-.2l.5 .6l.5-3.9l.5 4.5l.5-3.5l.5 .9l.5 .5l.5-1.2l.5 1.1l.5 .4l.5-2.5l.5 .3l.5-.5l.5 .3l.5-1.6l.5-.4l.5-.3l.5 .4l.5 1.2l.5-2.5l.5 2.5l.5-.8l.5 .3l.5-1.2l.5 1.3l.5 2.4l.5-1.2l.5 2.6l.5-2.3l.5-.1l.5 2l.5-1.2l.5 2l.5 .9l.5-.5l.5-.4l.5-1.1l.5 2l.5 .1l.5-.9l.5 .2l.5-.5l.5 1.1l.5-.2l.5-.3l.5 .9l.5 .3l.5-.3l.5-.4l.5-.4l.5 1.5l.5-1.1l.5 1.5l.5-.7l.5 1.6l.5-2.4l.5-.1l.5 .8l.5-.1l.5-.6l.5 .2l.5 .8l.5-.9l.5-1.9l.5 .6l.5 3.4l.5-3l.5 .7l.5-.3l.5 0l.5 .4l.5 1.6l.5-1.5l.5-.7l.5 .8l.5 .6l.5-3l.5 4.5l.5-4.1l.5 2.2l.5 1.6l.5-.7l.5 .4l.5-.7l.5-1.4l.5 3.4l.5 2.1l.5-4l.5-.5l.5-.1l.5-.1l.5-.2l.5 1.6l.5-2.4l.5 3l.5-3.4l.5-.8l.5 1.3l.5 .7l.5-.6l.5 .7l.5-.9l.5-.3l.5 .4l.5-1.1l.5 .5l.5 .4l.5-2l.5 4.8l.5-5.1l.5 2.5l.5 .9l.5-.5l.5 1.5l.5-1.2l.5-1.1l.5 1.2l.5 .8l.5 .8l.5-2.2l.5 1.3l.5-1l.5-1.9l.5-1.2l.5 1.8l.5-.5l.5-1.8l.5 3.5l.5 .8l.5-.4l.5-2.6l.5 .7l.5-.9l.5 1.7l.5-.1l.5 .2l.5-.4l.5 2.4l.5-1.5l.5-.2l.5 .1l.5 2.4l.5-2.6l.5 1.3l.5-2.2l.5 2.6l.5-1.2l.5-2.5l.5 3.9l.5-3.4l.5 .4l.5 2.3l.5 .2l.5-.9l.5-.2l.5-.3l.5 .3l.5-.6l.5-.4l.5 2.8l.5-2l.5 2.2l.5 .3l.5-1.1l.5-.4l.5-2.2l.5 .3l.5-.1l.5 .2l.5 1.8l.5-2.7l.5 2.6l.5 .6l.5-.8l.5 .6l.5-5l.5 3.6l.5 .5l.5-.3l.5 0l.5-.5l.5-.3l.5 .3l.5 1.4l.5-2.9l.5 1l.5 1.6l.5-1.5l.5 .2l.5-1.5l.5 .3l.5 1.5l.5-3.5l.5 1.7l.5 1.7l.5-.1l.5 0l.5 .4l.5-3.2l.5 0l.5 1.8l.5-1.3l.5-.8l.5 2.2l.5 .8l.5 .2l.5-.8l.5-.7l.5 2.9l.5-2.8l.5-.2l.5 0l.5 .4l.5-.1l.5 .7l.5-1.4l.5 1.5l.5 .6l.5-.3l.5-.8l.5-.5l.5 2.8l.5-2.2l.5 2l.5 .5l.5-5.2l.5 3.9l.5-1.2l.5-1.5l.5 2.1l.5 .1l.5-.6l.5 .7l.5-1.3l.5 .1l.5 2.2l.5-1.7l.5-1.9l.5-1.8l.5 2.1l.5-1.2l.5 .7l.5 1.9l.5-1.3l.5-.2l.5 .3l.5 2.9l.5-.4l.5-1.9l.5-.9l.5 1.1l.5-2.3l.5-.2l.5 1.6l.5-.8l.5 .3l.5 .5l.5-.1l.5 .8l.5-2l.5 1.2l.5 .2l.5 .8l.5-1.1l.5-1.6l.5-1.6l.5 2.4l.5-1.6l.5 1.7l.5 .3l.5-1.5l.5 1.7l.5 .3l.5-2.2l.5 1.1l.5-.3l.5-2.4l.5 1.8l.5 1.5l.5-.5l.5 1l.5-2.6l.5 1l.5-.6l.5 .4l.5-.1l.5 1l.5 .3l.5 0l.5-1.3l.5 1.2l.5-1.5l.5 1.1l.5 1.7l.5 .2l.5-1.5l.5-2.2l.5 2.2l.5 1.9l.5-1.4l.5-.4l.5-.5l.5-.5l.5-1.4l.5 1.1l.5-.8l.5 1.9l.5 .5l.5-1.6l.5-.7l.5-.1l.5 .8l.5 1.2l.5-.8l.5-3.9l.5 2.9l.5 3.2l.5-2.4l.5 .1l.5 .1l.5-1.5l.5-1.7l.5 3.9l.5-4l.5 3.5l.5-.9l.5 .2l.5-2.1l.5 2.4l.5-1.8l.5-.1l.5 .3l.5 .8l.5-.6l.5 1l.5 1.5l.5-.7l.5-1.7l.5 2.3l.5-2.1l.5-.3l.5 3.2l.5-1.9l.5-1.7l.5 2.7l.5-.6l.5 .5l.5-.4l.5-2.5l.5 1.1l.5 2.5l.5-2.8l.5 .3l.5-.3l.5-.2l.5 1.7l.5-.2l.5-.3l.5-.1l.5-.9l.5 1.8l.5 .8l.5-.6l.5-2.2l.5 1.7l.5-.4l.5-.6l.5-1.3l.5 1l.5 .8l.5-.8l.5-.6l.5 1.1l.5-.3l.5-.8l.5 2l.5 .1l.5-.3l.5-2.3l.5 3.5l.5-.4l.5-3.3l.5 1.6l.5 2l.5-.1l.5-4.8l.5 2.4l.5-.3l.5 .5l.5 .7l.5 1.7l.5-1.4l.5 0l.5-1.6l.5 2.2l.5-.7l.5-.6l.5 1l.5-1.2l.5-1.5l.5 .4l.5 3.5l.5-1.6l.5 0l.5 3.3l.5-4.8l.5 .8l.5-.3l.5-.7l.5 1.7l.5-.6l.5 .7l.5-4l.5 4.3l.5 .2l.5 .4l.5-1.9l.5 .9l.5-1.7l.5-1.5l.5 5.4l.5-2.3l.5-.2l.5 1.1l.5-3l.5 .6l.5 3.4l.5-1.5l.5 2.2l.5-2.5l.5 2l.5-2.4l.5 .3l.5-.8l.5 1.2l.5-.9l.5-1.3l.5 .2l.5 2.2l.5-2.4l.5 1l.5-1.1l.5 2l.5-1l.5 2.3l.5-1.6l.5 .9l.5-2.6l.5 2.4l.5-4.1l.5 4.4l.5-1.2l.5 1.3l.5-3.8l.5 2.2l.5-2.3l.5 2l.5-.4l.5-.6l.5-.9l.5 3.2l.5 .1l.5-1.2l.5 1.5l.5-1.1l.5-.5l.5-.3l.5 2.3l.5-2.5l.5 1.1l.5-.4l.5-1l.5 1.8l.5-2.5l.5 2.2l.5-3.8l.5 1.7l.5 .8l.5 1l.5 1.1l.5-2.4l.5 1.2l.5-.9l.5 1.1l.5 1.2l.5 1.2l.5-1.5l.5-.1l.5-2.7l.5 2l.5-1.3l.5 .6l.5 1.9l.5-1.8l.5-.5l.5-.8l.5 1.3l.5 0l.5 2.2l.5-3l.5 2.1l.5 1.1l.5-2.8l.5-2.2l.5 2.2l.5 2.8l.5-2.4l.5 .5l.5 1.4l.5-1.6l.5-3.3l.5 5.3l.5-3.7l.5 2.4l.5 0l.5-.4l.5-2.6l.5 3.4l.5-1.7l.5-3.3l.5 2.6l.5-.1l.5 1.7l.5-2.7l.5-.4l.5 3l.5 1.5l.5-1.4l.5-1.5l.5 .4l.5 .3l.5 .3l.5 1.3l.5-2.5l.5 3l.5 .6l.5-2.2l.5 2.9l.5-2.6l.5-.1l.5 2.4l.5-3.8l.5 3.8l.5-4l.5 1.5l.5 1l.5-1.6l.5 .2l.5-1.5l.5 1.8l.5 1.2l.5-1.2l.5 1.5l.5-1.8l.5 1.1l.5-1.1l.5 2.5l.5-3.1l.5 1l.5 1l.5-3.5l.5 4.1l.5-1.1l.5-.4l.5 .2l.5 .4l.5-1.5l.5 .9l.5-2l.5 1l.5 1.2l.5-1.3l.5 2l.5-2.6l.5 .1l.5 .9l.5-1l.5 3.2l.5-.3l.5-4.8l.5 3.8l.5-1.1l.5 .2l.5-1l.5 1.7l.5-.5l.5 .9l.5-2.3l.5-.7l.5 1.2l.5-1.4l.5 1.1l.5 2.7l.5-2l.5 .4l.5 2l.5 .3l.5-2.8l.5-.2l.5 .4l.5-1.1l.5 2.1l.5-1l.5-.2l.5 .1l.5-.8l.5 1.6l.5-3l.5 1.2l.5-1.9l.5 .7l.5 .4l.5 1.3l.5-.3l.5 2.6l.5-1.7l.5-.6l.5-.2l.5-.9l.5 1.7l.5 1.1l.5 .8l.5 .4l.5-3l.5-.9l.5 2.2l.5-.5l.5 .3l.5 1.2l.5-.6l.5-.5l.5-.6l.5-1.8l.5 2.2l.5-1.1l.5 .7l.5-.7l.5 2l.5-3.1l.5 1.7l.5 0l.5 1.4l.5-.1l.5-.3l.5-2.4l.5-.7l.5 2.7l.5-.9l.5 1.4l.5-.7l.5-.9l.5 .1l.5 .8l.5-1.2l.5 1.2l.5-2.1l.5 .6l.5 2l.5-1.4l.5 .6l.5-1.4l.5-.4l.5 1.4l.5-.7l.5 1.5l.5-1.5l.5 .6l.5 1.2l.5-2.4l.5 2.3l.5-.8l.5-.7l.5 1.1l.5 1.8l.5-2.5l.5 0l.5 .2l.5-1.5l.5 0l.5 .8l.5 1.1l.5 1.5l.5-2.6l.5-.3l.5 1.3l.5-1l.5 1.8l.5-.6l.5-.7l.5 .4l.5-.5l.5-1.5l.5 .5l.5 1l.5 1.1l.5-.4l.5 2.1l.5-.8l.5-.6l.5-.7l.5-.5l.5-1.4l.5-1.6l.5 .7l.5 3.5l.5 .2l.5-2.8l.5 .2l.5 3.1l.5-2.7l.5 2.2l.5-2.3l.5-2.3l.5 3.6l.5-2.8l.5 2.8l.5-1.1l.5 .8l.5-1.5l.5 .9l.5 .4l.5-2.3l.5 2.5l.5-.6l.5 2.4l.5-1l.5-.4l.5-.2l.5-.3l.5 1.4l.5-2.5l.5 1.1l.5-.2l.5-2.1l.5 2.8l.5-.3l.5-1.9l.5 2l.5-2l.5 1.5l.5-.7l.5 2.7l.5-2.3l.5-.6l.5 1.4l.5-.4l.5 .2l.5 1l.5-.7l.5 0l.5 .8l.5 .1l.5-4.8l.5 2.9l.5 .1l.5 .1l.5 1.8l.5-.2l.5-.9l.5-1.1l.5 1.1l.5-2l.5 2.1l.5-2.8l.5 4.9l.5-4.3l.5 2.1l.5-1.7l.5 2l.5-2.6l.5 2.5l.5-.2l.5 1.1l.5 .1l.5-4.2l.5 3.9l.5 .2l.5-2.8l.5-.3l.5 3l.5-2.4l.5-.9l.5-.6l.5 1.7l.5 .4l.5 2.7l.5-1.7l.5 1.5l.5-2.2l.5-.6l.5 1.3l.5 .1l.5-1.4l.5 .7l.5 .2l.5 1l.5-.9l.5 .3l.5-1.6l.5-.2l.5 2.3l.5-1.5l.5 1.3l.5-2.9l.5 4.1l.5-.6l.5-2.6l.5 2.5l.5-2.5l.5 3.3l.5-2.1l.5 2.9l.5-3.9l.5 2.5l.5-1.7l.5 1.7l.5-.8l.5-2.3l.5 2.6l.5 1.1l.5-1.8l.5 .3l.5-.9l.5 1.1l.5-1.4l.5-.9l.5 2.1l.5-1.4l.5 .5l.5 1.7l.5-.8l.5-1.1l.5-1.6l.5 .8l.5 .9l.5-.9l.5 1.4l.5-2.8l.5 3.9l.5-1.9l.5 .9l.5-.5l.5 1.2l.5-2l.5 1.9l.5-2.5l.5 4l.5-2.4l.5 1.2l.5-.3l.5-2.5l.5 3.2l.5-2.2l.5-.5l.5 .7l.5 1.8l.5-3.4l.5 3.8l.5 1.2l.5-3.8l.5 1.5l.5-.2l.5-2.5l.5 1.9l.5-1.2l.5 .5l.5-1.7l.5 1.5l.5 1l.5 1l.5-1.6l.5-1.3l.5 3.1l.5-2.4l.5 .5l.5 2.3l.5-.4l.5-1l.5-1l.5 .4l.5 1l.5-1.9l.5 2l.5-.3l.5-.3l.5-.5l.5 2.4l.5-1.9l.5-1.5l.5 .3l.5 .8l.5 1l.5-1.6l.5 1.2l.5-1.2l.5-1.4l.5 1.9l.5 .9l.5 .7l.5-2.6l.5-1.2l.5 3.7l.5-2.8l.5 1.5l.5 1.1l.5-1.1l.5 1.2l.5-2.4l.5 1.1l.5 1.1l.5-1.1l.5-1.6l.5 2.9l.5-1.6l.5 1.4l.5-.1l.5-1.4l.5 1.8l.5-.7l.5 2l.5-5.3l.5 1.9l.5 2.4l.5-2.3l.5 3l.5-3.9l.5 1.3l.5 .3l.5 0l.5 0l.5-1.5l.5-.6l.5 2.3l.5 1.2l.5-.7l.5-.8l.5 .2l.5-.1l.5-2.4l.5 2.5l.5-1.6l.5 1.9l.5-2.4l.5 2.3l.5-2.1l.5 1.2l.5 0l.5-.6l.5 2.2l.5-.8l.5 .6l.5 .7l.5 .1l.5-.5l.5-.7l.5-1.2l.5 3.2l.5-3.6l.5 .4l.5 1.7l.5 1.1l.5-2.6l.5 1.8l.5-1.5l.5 1.3l.5 1l.5-.3l.5-1.2l.5 .3l.5 .9l.5-1.6l.5-.8l.5-.3l.5-1.5l.5 4.1l.5-3.3l.5 3.4l.5-2.9l.5-1.8l.5 2.1l.5 .6l.5 1.1l.5-.2l.5-1l.5-1.1l.5 1.6l.5-1.2l.5-.1l.5 1.4l.5 .9l.5 2.1l.5-4l.5-.3l.5-.4l.5 0l.5 1.2l.5 1.2l.5-1l.5 2.3l.5-.1l.5-3.1l.5 0l.5 .5l.5 1.1l.5-1.2l.5-.5l.5 1.5l.5 1.8l.5-.9l.5-1.8l.5 .6l.5 .6l.5-2.6l.5 1.5l.5 1.8l.5 .3l.5-2l.5 .2l.5 .2l.5-1.6l.5 5.5l.5-3.5l.5 .2l.5 2.8l.5-2.8l.5 1.5l.5-1.5l.5-2.5l.5 1.3l.5 3.3l.5-2.5l.5 .7l.5-2.5l.5 1.6l.5-.1l.5 1.8l.5-.7l.5-2.4l.5 3.4l.5-2.8l.5 1.8l.5-.8l.5 1.1l.5 .5l.5-4.1l.5 .8l.5 1.4l.5 .1l.5-1l.5 1.1l.5 .2l.5 0l.5 .1l.5-.2l.5 .9l.5-1.4l.5-1.1l.5 2.8l.5-.2l.5 .4l.5 .6l.5-1l.5-1.4l.5 0l.5-2.8l.5 1.6l.5 .2l.5-1.2l.5 5l.5-3.6l.5 1.1l.5-.2l.5 0l.5 1.3l.5-1.9l.5-.3l.5 1.7l.5-1.3l.5-2.1l.5 2.1l.5 .6l.5-1.2l.5 1.9l.5-.5l.5 0l.5-2.5l.5 2.6l.5-.4l.5 2.4l.5-2.8l.5 1.4l.5-.4l.5-.2l.5 .6l.5-.6l.5-2.4l.5 2.7l.5 .4l.5 .3l.5-3l.5 1.2l.5 2.6l.5 .2l.5-.7l.5-.8l.5-2.8l.5 2.3l.5-.5l.5 1.5l.5-.3l.5-1.6l.5 2.9l.5-1.7l.5-2l.5 1.1l.5-1l.5-.9l.5 2.5l.5-1.1l.5 1.9l.5-.2l.5 1.4l.5-3.5l.5-.4l.5 1.1l.5 2.9l.5-3.4l.5 .9l.5 2.2l.5-1l.5-.1l.5-2.1l.5 .4l.5 .5l.5-1.8l.5 1.8l.5 1.9l.5-3.7l.5 4.5l.5-2.1l.5 .3l.5 .3l.5-2.4l.5 .1l.5 1.4l.5 .3l.5-1.6l.5 1.3l.5 1.4l.5-3.7l.5 3.6l.5 1.1l.5-1.9l.5-1.1l.5 2.6l.5-.9l.5-.7l.5 1.5l.5-.1l.5-3.4l.5 2.7l.5-2.3l.5 1.5l.5-1.4l.5 .1l.5 .2l.5 1.1l.5 .6l.5-.5l.5-.7l.5 1.8l.5-.5l.5-.8l.5 2.5l.5-2.2l.5-1.1l.5 2.5l.5-1.9l.5-2l.5 1.4l.5 1.8l.5-.4l.5 2.4l.5-4.9l.5 3.6l.5-4.6l.5 1.3l.5 4.8l.5-1.7l.5-2.6l.5-.2l.5 .8l.5-.9l.5 1.8l.5-.7l.5-2.3l.5 1.7l.5-1.1l.5 2.7l.5-1.2l.5-1l.5 .3l.5-1.8l.5 3.9l.5-.1l.5-1.7l.5 .8l.5-1.6l.5 .7l.5 .4l.5-.1l.5 1.9l.5-.3l.5-2.4l.5-1.5l.5 3.5l.5 2l.5-3.3l.5 .4l.5-1.1l.5 3.2l.5-3l.5 .4l.5-.4l.5 .9l.5-2.7l.5 3.4l.5 1.1l.5-2.2l.5 .3l.5-.5l.5 .4l.5-.6l.5 .9l.5 3.5l.5-3.4l.5 1.9l.5 1.9l.5-2.2l.5-.8l.5-.6l.5-.4l.5-.1l.5-.1l.5-.1l.5 1.3l.5-.9l.5-1.6l.5-.1l.5 1.7l.5-.6l.5 2.2l.5-1.7l.5 .7l.5-2.5l.5 1.7l.5 .1l.5-1l.5 .5l.5-1.9l.5 1.9l.5-2.2l.5 .3l.5 3.4l.5 2l.5-3.6l.5-1l.5 1.7l.5 .2l.5 2.2l.5-5.4l.5 2.6l.5 1.8l.5-4l.5 3.2l.5 1.7l.5-.2l.5-.2l.5-1.7l.5-1.3l.5 .1l.5 .4l.5 2.4l.5-4.3l.5 3.5l.5 .6l.5-3.2l.5 .2l.5 4.4l.5-3.7l.5-1.1l.5 1.8l.5 .6l.5-.8l.5-4l.5 4.2l.5 .1l.5-1.8l.5-.3l.5-1.1l.5 1.9l.5 2.2l.5 0l.5-.2l.5-.1l.5 .3l.5-.8l.5-2.1l.5 2.2l.5-2.3l.5 .5l.5 2.6l.5-4.3l.5 5.7l.5-2.4l.5-2l.5 1.5l.5-.5l.5 1.4l.5 1.8l.5-1.6l.5-.9l.5 .3l.5 2l.5-2.6l.5 .8l.5 1.6l.5-3.3l.5 2.1l.5 1.3l.5 .7l.5-3.1l.5-1.1l.5 1.1l.5-.6l.5 2.6l.5-2l.5-.5l.5 1.4l.5-1.2l.5 .1l.5 .6l.5-.1l.5-.5l.5 .2l.5-.5l.5-3.3l.5 4.1l.5-4.5l.5 6.6l.5-4.9l.5 2.9l.5-.9l.5 .4l.5 0l.5 .1l.5-.3l.5 .8l.5-.9l.5 1.2l.5-1.8l.5 1.5l.5-1.1l.5 1.2l.5-.8l.5-.2l.5 .7l.5 .7l.5-1.3l.5 3.4l.5-1.1l.5-4.1l.5 .5l.5 2.7l.5-.7l.5-1.3l.5-1l.5 4.4l.5-.6l.5-1.8l.5-.9l.5 2.8l.5 .3l.5 1.3l.5-3.8l.5 .7l.5-.9l.5 1.9l.5-3.8l.5 3.3l.5 3.2l.5-3.8l.5-.6l.5 .2l.5-1.3l.5 .1l.5 1.7l.5 1l.5-1.8l.5 .2l.5 .9l.5-1.6l.5-2.4l.5 3.6l.5 0l.5-1.3l.5 .2l.5 2.2l.5 .2l.5 .4l.5-4.5l.5 2.4l.5 2.9l.5-1.8l.5-3l.5 .8l.5 2.5l.5 .1l.5-2l.5 .3l.5-2.1l.5 5.4l.5-2.8l.5 1l.5-.3l.5-2.1l.5 5.1l.5-2.9l.5 .7l.5 .1l.5 .1l.5-.7l.5-.1l.5-.9l.5 1.5l.5-2l.5 1.3l.5-2.1l.5 1l.5 1.1l.5-.4l.5-2.6l.5 1.3l.5 1.7l.5-.8l.5 1.4l.5-1.1l.5-.2l.5-1.1l.5 .1l.5 1l.5-1.4l.5 .8l.5 4.4l.5-5.4l.5 2l.5-1.4l.5 2.5l.5-2.8l.5-.1l.5 .8l.5-.1l.5 2l.5-1.1l.5-.4l.5-.5l.5-1.4l.5 3.8l.5-1.4l.5 0l.5 1.6l.5 0l.5 .4l.5-1.9l.5-.8l.5-1.6l.5 2.6l.5-.5l.5 .3l.5-1l.5-1.2l.5-.2l.5-.3l.5 2.4l.5-.6l.5-.5l.5-1.3l.5 .2l.5 1.8l.5-2.1l.5 3.1l.5-1.2l.5 .8l.5-1.1l.5 0l.5 .8l.5-.9l.5 .6l.5-.2l.5 1.1l.5-1.7l.5 3l.5-2.8l.5-3.9l.5 3.9l.5-.8l.5 1.9l.5 1.4l.5 .2l.5-1.4l.5 1.6l.5-3.7l.5 .9l.5 .3l.5 .3l.5-2.4l.5 .2l.5 2.8l.5-.7l.5 1.5l.5-3.3l.5 2.3l.5-1.8l.5 1.7l.5 .1l.5-1.9l.5 2.8l.5-.7l.5 .1l.5 .1l.5-.7l.5 1.7l.5-2.6l.5 1.9l.5-1.8l.5 1l.5-.8l.5 2.1l.5-3.4l.5 .2l.5 1l.5 .7l.5 1.5l.5 .1l.5-.9l.5 .4l.5 .1l.5-1.3l.5 1l.5-1.7l.5-.6l.5 0l.5 1.2l.5-.9l.5 .1l.5 1l.5-1.3l.5 1.6l.5 1.6l.5-2.5l.5 .9l.5-1.8l.5 2.9l.5-3.1l.5-.3l.5 .6l.5-.2l.5 2.1l.5-4l.5 4.3l.5-1l.5 1.2l.5-1.8l.5 0l.5 1.5l.5-.9l.5 1.1l.5-1.9l.5 1.7l.5-.7l.5-.5l.5 .2l.5-.1l.5 .7l.5-.8l.5-.4l.5-1.4l.5 1.2l.5-1.1l.5-.1l.5 2.1l.5-2l.5 .3l.5 1.8l.5-.2l.5-2.8l.5 1.8l.5-1l.5 1.7l.5-2l.5 1.5l.5 1.2l.5 1.1l.5-2.8l.5-1.2l.5 2.7l.5 .7l.5-2.7l.5 2.1l.5 2l.5-1l.5 .1l.5 .1l.5-3l.5-.3l.5-.7l.5 4.9l.5-6.6l.5 5.5l.5-2.8l.5-.7l.5 .5l.5 .2l.5 2.7l.5-1l.5-.1l.5-2.3l.5 .6l.5 2.4l.5-.7l.5 .9l.5-2.6l.5 .5l.5 2.3l.5-1.3l.5 .3l.5-.3l.5 .8l.5-.8l.5 .4l.5 .8l.5 1l.5-4.4l.5 4.6l.5-4.6l.5 4.5l.5-2.3l.5-1.1l.5 1.5l.5-3.3l.5 3.1l.5-.6l.5 1.4l.5-1l.5 .1l.5-.6l.5 2.5l.5-.3l.5-2.1l.5 1.8l.5-.9l.5 1.3l.5 .8l.5-1.6l.5-1.4l.5 .5l.5 .2l.5 1.2l.5-3.2l.5 3.6l.5-4.3l.5 1.6l.5 2.5l.5 .9l.5-3.7l.5 3.2l.5-2l.5-1.5l.5 1.4l.5-.5l.5-.9l.5 2.3l.5-2.8l.5 2.7l.5-2.4l.5 0l.5 1.5l.5-1.8l.5 1.1l.5-1.5l.5 2.4l.5-.3l.5-.9l.5 .2l.5 1.8l.5-2.9l.5 2.8l.5-.6l.5 1.2l.5-.9l.5-2.7l.5 2.9l.5-1.5l.5 .7l.5-.5l.5-2.2l.5 .8l.5 2.6l.5-.2l.5 1.6l.5-2.9l.5-.1l.5-1.3l.5 4.3l.5-2.6l.5 1.9l.5-3.4l.5 4.2l.5-1.7l.5-.3l.5 0l.5-.9l.5-.4l.5-.6l.5 3.4l.5-1.2l.5 0l.5 .4l.5 .1l.5-.4l.5-1.5l.5 3.1l.5-.5l.5-1.3l.5-2.7l.5 2.6l.5 .4l.5-2.5l.5 1.4l.5 1.1l.5-2.6l.5 2.4l.5 .8l.5-.7l.5-3.2l.5 4l.5-3.3l.5 .6l.5 2.5l.5-1l.5-.6l.5-.9l.5 .8l.5-1.3l.5 1.5l.5 .4l.5-.9l.5 .7l.5-.8l.5 .1l.5 1l.5-1.8l.5 1.6l.5-.4l.5 3l.5-3.4l.5 .3l.5-1.7l.5 4.2l.5-3.1l.5-1.4l.5 1.2l.5-.1l.5-.5l.5-1.1l.5 .8l.5 1.9l.5-3.2l.5 3.2l.5-1.9l.5-1.3l.5 2.1l.5 1.3l.5-2l.5 0l.5 2.3l.5 .3l.5-1.8l.5 .2l.5-2.5l.5 3.1l.5-2.8l.5 .6l.5 1.4l.5 .2l.5 .2l.5-.7l.5 1.9l.5-.4l.5-.6l.5-.4l.5 .7l.5 .7l.5-.8l.5 .8l.5 .4l.5 1.6l.5-2l.5-2.4l.5 1.1l.5 2.5l.5-4.9l.5 .1l.5 2.5l.5 2.1l.5-.1l.5 .8l.5-3.4l.5 2.2l.5-.4l.5 1.1l.5-1.1l.5 .8l.5 .5l.5-.5l.5-3.1l.5 1.2l.5-.5l.5 .6l.5 0l.5 2l.5-1.2l.5-2.3l.5 2.6l.5 0l.5-3.8l.5 4.4l.5-.8l.5-1.8l.5 .4l.5-1.6l.5 2l.5-.3l.5 0l.5-1.4l.5-.6l.5 2.4l.5-.2l.5-4l.5 0l.5 1.5l.5-.8l.5 .3l.5-2.1l.5-1l.5-1.2l.5 .4l.5-1.3l.5-2l.5-.6l.5-2.5l.5-1.7l.5-.4l.5-1.3l.5-2.1l.5-2l.5-1.2l.5-3.7l.5 .7l.5-2.6l.5 1.1l.5 .7l.5 .2l.5 .3l.5 1.1l.5 .9l.5 1.5l.5 1l.5 2.5l.5 1.5l.5 1.4l.5 1.3l.5 1.4l.5 1.2l.5 2l.5 1.8l.5 .4l.5 2l.5-.7l.5 3.5l.5-1.2l.5 .4l.5 .3l.5 .1l.5 .7l.5 .2l.5 1.3l.5 .8l.5-.8l.5-1l.5 4.1l.5-1.3l.5 .5l.5-.3l.5 1l.5-.6l.5-1.2l.5 1.6l.5-3.6l.5 4.6l.5-3.2l.5 1.2l.5-.8l.5 .6l.5-1l.5 1.3l.5 1.9l.5-1.7l.5-1.5l.5 3.7l.5-2.1l.5 1.9l.5-1.6l.5 1.1l.5-.7l.5 1l.5-1.4l.5 2.1l.5-.4l.5-2.6l.5 .1l.5 .3l.5 2.1l.5-.9l.5 .7l.5-2.6l.5 2.6l.5-2.9l.5 2.3l.5-1.7l.5-.3l.5 1.3l.5 2l.5-3l.5 .5l.5 2.6l.5-2l.5 .9l.5-.4l.5 1.9l.5-.9l.5 0l.5 .1l.5-.9l.5-1.5l.5 .8l.5 .8l.5-1.3l.5 .9l.5 .4l.5-2l.5 2.3l.5-.1l.5-1.5l.5 .5l.5 1.2l.5-3.2l.5 1.1l.5 3.2l.5-2.9l.5 2.5l.5-1.5l.5 .1l.5 .1l.5-1.5l.5-1.4l.5 1.9l.5 2l.5-2.2l.5 1.4l.5-3.3l.5 3l.5-.3l.5 2l.5-2.5l.5-.4l.5-1.1l.5 2.8l.5-.1l.5 2.1l.5-2.7l.5 .8l.5 .2l.5 .9l.5-2.4l.5 .5l.5 1.5l.5-1.9l.5 1.3l.5-.2l.5 .3l.5-1.5l.5-3.3l.5 4.4l.5-1.7l.5 2.3l.5-.2l.5-2.9l.5 1l.5 .3l.5 1.6l.5-.6l.5-.5l.5-1.9l.5 3.1l.5 .2l.5-1.7l.5 2.7l.5 .3l.5-4.4l.5 3.4l.5-1l.5 .1l.5-3.9l.5 3.4l.5 0l.5-2.8l.5 2.1l.5-.3l.5 0l.5-1l.5 2.8l.5-1.3l.5-.2l.5 1.5l.5-2.2l.5 1.6l.5 3.2l.5-4.7l.5 1.1l.5 .8l.5-.3l.5-2.7l.5 2.2l.5-1.5l.5 2.2l.5-.1l.5-.8l.5 1.7l.5 .1l.5-2.6l.5 .1l.5 .9l.5 1.5l.5 .3l.5 .2l.5-1.2l.5-2.1l.5 2.3l.5-.1l.5-3.3l.5 .5l.5 1.7l.5 3l.5-2.3l.5 .7l.5-2.1l.5-1.9l.5 4.8l.5-3.2l.5 2.5l.5-2.5l.5 3.5l.5-2.8l.5-.6l.5-.8l.5 3.3l.5-1.8l.5 .7l.5-.3l.5-.8l.5 1.2l.5-2.2l.5 2.8l.5-3.5l.5 3.1l.5 2.5l.5-4.1l.5 2l.5 .7l.5-5.1l.5 3.5l.5 .7l.5-1l.5 .8l.5-1.1l.5 1.7l.5-1.7l.5 2.5l.5-3.2l.5 2.3l.5 .7l.5-2.4l.5 1l.5-.4l.5 3.7l.5-4.7l.5 4.7l.5-3.8l.5-1.4l.5 .3l.5 .9l.5 3l.5-3.9l.5 2l.5-.8l.5-.2l.5 0l.5 1.7l.5-2.2l.5-.6l.5 3.5l.5-2.7l.5 2.1l.5 2.3l.5-2.6l.5 .9l.5-1.1l.5-1.2l.5-.4l.5-1.3l.5 4.4l.5-2.4l.5 1l.5-1l.5-.1l.5 .8l.5-.6l.5 0l.5 1.5l.5-4.3l.5 5.4l.5-2.5l.5 0l.5-1.7l.5 0l.5 3.3l.5-1.2l.5-.7l.5-.4l.5 .9l.5 .8l.5-.2l.5-2.1l.5 2.2l.5-1.6l.5 .5l.5 0l.5-2l.5 2.2l.5 .1l.5 1.2l.5-.5l.5-.2l.5-.7l.5 .6l.5 0l.5-2l.5-.5l.5 2.8l.5 1.4l.5-1.9l.5-.1l.5 1.9l.5-2.1l.5 1.1l.5-2.8l.5 1.7l.5 1.7l.5-2.7l.5 .5l.5-1.2l.5 3.4l.5-.4l.5-1.7l.5 1.5l.5-1.6l.5 .1l.5 1.3l.5 .3l.5-.9l.5-1.2l.5-.3l.5-.6l.5 2.4l.5 .7l.5-3.7l.5 4.1l.5-.9l.5-1.8l.5 1.7l.5 .6l.5-.5l.5-1.7l.5 .1l.5 .8l.5-.3l.5 .5l.5-1.1l.5 3l.5-3.6l.5 1.6l.5-2.8l.5 2.9l.5 .6l.5-1.5l.5 1.2l.5-1.2l.5 1.1l.5-1.7l.5-.5l.5 5l.5-1.6l.5-.4l.5-2.3l.5 1l.5-1.5l.5 .2l.5 .9l.5 0l.5-2.1l.5 1.4l.5-1.5l.5 4.9l.5 1l.5-5.2l.5 .8l.5-1l.5-1.1l.5 3.4l.5 1.4l.5-2l.5 0l.5 .7l.5-.2l.5-.8l.5-.4l.5 .8l.5 .6l.5-2.5l.5 .8l.5 1l.5-.1l.5 3.2l.5-2.3l.5-.5l.5 3.6l.5-3l.5 1.4l.5-2.2l.5-1.2l.5 1l.5 1.7l.5-.4l.5 .5l.5-2.4l.5 .3l.5-.9l.5-.1l.5 .1l.5 1.8l.5-.9l.5-2.2l.5 3.8l.5-1.1l.5-.5l.5 .2l.5-2.2l.5 .4l.5 3.9l.5-.6l.5 .7l.5-3.8l.5 .3l.5 2.8l.5-2.8l.5 1.3l.5 .6l.5-.6l.5 1.9l.5 1.2l.5-3.8l.5 1l.5 2.1l.5-2.8l.5-.2l.5 3.1l.5-1.5l.5 .4l.5-.4l.5-1.4l.5-.8l.5 3.8l.5-3.7l.5 .4l.5-.2l.5-1.8l.5 2.9l.5 .7l.5-1.2l.5 .6l.5 3.5l.5-3.5l.5 1l.5-3.8l.5 5.1l.5-1.2l.5-2.6l.5 1.1l.5-.8l.5 1.5l.5 .4l.5-1l.5 .1l.5-1l.5 2.7l.5-3.6l.5 3.5l.5-2l.5-.1l.5 .2l.5 4l.5-.9l.5-3.3l.5-.8l.5 2.8l.5-.3l.5 .1l.5-.7l.5 1.9l.5-.4l.5-3l.5-.4l.5 1.2l.5 1.3l.5-.2l.5-1.2l.5 .9l.5-1.7l.5 2.8l.5 .1l.5-3.3l.5 1.4l.5-.9l.5 .8l.5 .8l.5 .8l.5-.6l.5-.8l.5 3.4l.5-2.3l.5 .2l.5 .7l.5 .1l.5-1.6l.5-1.9l.5 1.3l.5-.3l.5 1.7l.5-1.5l.5 0l.5 1.7l.5-2.6l.5 1l.5 .6l.5 1.9l.5-2.1l.5 1.4l.5 1.8l.5-3.1l.5-1.4l.5 1.3l.5-1.5l.5 .7l.5-1.2l.5 .8l.5-.4l.5 2.1l.5 .2l.5 .4l.5-.6l.5-1.4l.5 1.7l.5-.9l.5 1.5l.5 .4l.5 .4l.5-1.3l.5-.2l.5-.6l.5 1.2l.5-2.8l.5 .2l.5-.2l.5-.4l.5 3.6l.5-2.7l.5 .3l.5 2.1l.5-3.1l.5 2.3l.5-.8l.5-.8l.5 2.1l.5 1.6l.5-2.7l.5-.9l.5 .2l.5 1.3l.5-.7l.5 1.8l.5-1.9l.5-.7l.5 1.2l.5-.7l.5 1.9l.5-1l.5 .1l.5 1.9l.5-4l.5 2l.5 .1l.5-.7l.5 1.8l.5-3.6l.5 1.3l.5-.2l.5 1.2l.5-.7l.5-.4l.5 .9l.5-.5l.5 .4l.5-1.1l.5 .5l.5-1.2l.5 .8l.5 1.7l.5 1.6l.5-3.1l.5-1.3l.5 5.1l.5-3.6l.5 1.2l.5-.4l.5 .8l.5-.9l.5-.1l.5 3.7l.5-6.7l.5 2.5l.5 2.3l.5-2.9l.5 4.6l.5 .5l.5-4l.5 1.9l.5-2.1l.5 1.7l.5-.4l.5-1.3l.5 1.2l.5-2.2l.5 .9l.5 1.5l.5 1.2l.5-2.8l.5-.3l.5 .9l.5 .2l.5-.2l.5 .9l.5-.5l.5-.3l.5-1.3l.5 .4l.5 1.6l.5-1.1l.5 1.4l.5-.5l.5 .4l.5-1.5l.5 3.7l.5 .1l.5-4.6l.5-1.6l.5 3.6l.5 .7l.5 .5l.5-.5l.5-1.7l.5 1.5l.5 .6l.5-1.4l.5-2.1l.5 4.1l.5-3l.5-.2l.5-1.8l.5 1.2l.5 2.7l.5-2.1l.5 1.6l.5-2l.5 1.3l.5 .4l.5 .2l.5-1.8l.5 3.8l.5-3.5l.5-1.4l.5 2.8l.5 1l.5-1.5l.5-2.7l.5 1l.5 1.1l.5 .9l.5-1.4l.5 1.9l.5-2.5l.5 3.8l.5-4.1l.5 1.1l.5-.2l.5 .2l.5 2.4l.5-2.9l.5-.6l.5-.8l.5 4.6l.5-1.8l.5 0l.5 2.2l.5-2.4l.5-1.4l.5 .1l.5 .8l.5 2.6l.5-1.7l.5-1.3l.5 1.3l.5-1.2l.5 .9l.5-1l.5 .6l.5 3.5l.5-3.2l.5 1.3l.5 .6l.5-1.6l.5 3.2l.5-.4l.5-4.6l.5 3.7l.5-3.8l.5 1.4l.5 1.3l.5-2l.5 .4l.5 .8l.5 .9l.5 0l.5-1.5l.5 .9l.5-.7l.5 1.6l.5-2.5l.5 .9l.5 0l.5 .6l.5 .9l.5-.5l.5 0l.5-.8l.5 .8l.5-2.3l.5 1.6l.5 1.9l.5-2.5l.5-.5l.5 .3l.5 .8l.5 .8l.5 .8l.5-.8l.5 1l.5 .2l.5-.9l.5-1.9l.5 2.3l.5 .2l.5-.9l.5 1.9l.5-2.2l.5 .8l.5-1.9l.5 1l.5 .2l.5-.7l.5 1.8l.5-1.7l.5 1.1l.5 .1l.5-.6l.5-1.1l.5 .9l.5 1.1l.5-3.1l.5-.3l.5 1.5l.5 1.1l.5 .2l.5 .7l.5-2.4l.5 2.4l.5-.2l.5-6.3l.5 3.9l.5 1.7l.5-1l.5 3.2l.5-7.2l.5 4l.5 1.3l.5-.2l.5-1.9l.5 3l.5-2.6l.5 1.9l.5-.5l.5-.2l.5-1.4l.5 2.1l.5-2.7l.5 2l.5-.2l.5 .1l.5-.2l.5 1.9l.5-2.6l.5 2.9l.5-3.3l.5-.7l.5 2.5l.5-.7l.5 .4l.5 .9l.5-.2l.5-2l.5 2.6l.5 1.4l.5-2l.5-4l.5 3.1l.5-.4l.5 1.2l.5-1.9l.5 1l.5 .4l.5-1l.5 1.2l.5-1l.5 1.5l.5 0l.5 .3l.5-2.6l.5-.1l.5-1.4l.5 4.8l.5-.7l.5 1.3l.5-.4l.5-2.6l.5 .1l.5 .9l.5-1.8l.5 1.5l.5-1.7l.5-.3l.5 1.2l.5 2.1l.5 2.1l.5-3.5l.5-1.3l.5-.9l.5 2.7l.5 1.3l.5-4.1l.5 3.2l.5 .8l.5-1.8l.5 .2l.5-.5l.5-.5l.5 1.8l.5-.2l.5 0l.5-1l.5 .2l.5-1.9l.5 2.4l.5 .4l.5 .3l.5-1.7l.5-2.3l.5 1.3l.5 2.1l.5-.6l.5 0l.5 .7l.5-.8l.5 1l.5-3.6l.5 .5l.5 3l.5 .4l.5-.7l.5-.2l.5-.9l.5-.7l.5 .4l.5 1.7l.5-.4l.5-2.9l.5 2.7l.5-3.3l.5 2l.5 3.1l.5-.4l.5-1.9l.5 .2l.5 .5l.5 .5l.5-1.9l.5 1l.5-.6l.5 .2l.5-2.3l.5 1.8l.5-.4l.5 1l.5-.1l.5 2l.5-2l.5-1l.5-.3l.5 3.2l.5 .5l.5-1.7l.5-.4l.5-.4l.5 1.9l.5-3.1l.5 2.1l.5-.9l.5 .6l.5 .6l.5-.4l.5 .2l.5-1.8l.5 .2l.5 1.2l.5 3.3l.5-5l.5 1.9l.5-.7l.5-1l.5-1.5l.5 3.1l.5 1.9l.5-4.3l.5 .2l.5 4.4l.5-2.4l.5 1.3l.5 .4l.5-2l.5 .4l.5-.9l.5-1.6l.5 3.3l.5-1.3l.5 3.8l.5-5.3l.5 3.1l.5-1.1l.5 .9l.5-2.1l.5 1.6l.5 1.9l.5-3.6l.5 4.5l.5-1.6l.5-2.3l.5 .9l.5-1.8l.5 2l.5-1.8l.5 1.6l.5 1l.5 0l.5-1.2l.5-.4l.5 0l.5-.7l.5 1.5l.5-.1l.5 1.9l.5-1.4l.5-1.4l.5 3.6l.5-.9l.5-.6l.5-4.7l.5 3.3l.5 .4l.5 1l.5-1.6l.5 2.8l.5-3.3l.5-.7l.5 .4l.5-.1l.5 .9l.5 .2l.5 .3l.5 1.7l.5-.8l.5-1.8l.5-.7l.5 2.5l.5-1.4l.5 1.2l.5 .3l.5-2.6l.5 .6l.5 1.4l.5 .2l.5-3.2l.5 1.9l.5 1.5l.5-1.6l.5 0l.5-.3l.5 1.9l.5-2.9l.5 2.2l.5-.7l.5 .6l.5-2.3l.5-2.3l.5 5.5l.5-1.8l.5 2.4l.5-2.2l.5 .7l.5-1.3l.5 .2l.5-.1l.5-.1l.5-.4l.5-1.7l.5 1.5l.5 2.8l.5-1l.5-1.2l.5-.8l.5 1.6l.5 1.6l.5-5.6l.5 3.4l.5 .6l.5-.2l.5 1.7l.5-.8l.5 .3l.5 0l.5-.2l.5-2.6l.5 2.3l.5-1.7l.5-.3l.5 1.6l.5-.4l.5 1.7l.5 .1l.5-1.8l.5 2.8l.5-1.3l.5 .4l.5-1.6l.5-.3l.5 2.2l.5-4.2l.5 5.5l.5-2.9l.5-.3l.5 1.7l.5 .5l.5-3.1l.5 2.3l.5-.6l.5-3.3l.5 4.7l.5-5.9l.5 3l.5 1.2l.5 .8l.5-1.2l.5-.4l.5 .6l.5-1l.5 1.1l.5-.5l.5 .1l.5-1.2l.5 3.4l.5-.6l.5-1.3l.5-.3l.5 1.1l.5-2.5l.5 1.9l.5-.1l.5 2.7l.5-1.4l.5-1.3l.5 1.7l.5-1.6l.5-1.2l.5 1.8l.5-1.3l.5-.9l.5-.2l.5 .7l.5 3.8l.5-3.4l.5-1.1l.5 2.1l.5 .3l.5-.7l.5 .1l.5-2.9l.5 .5l.5 2.7l.5-.3l.5-1.2l.5 .9" fill="none" stroke="#ff0000" stroke-width="8.0" stroke-linejoin="round" stroke-linecap="butt"/></g>
<line x1="1131.6" y1="617.0" x2="1131.6" y2="1433.25" stroke="#ff8000" stroke-width="5.8" stroke-dasharray="8.75 15.0"/>
<path clip-path="url(#plot)" d="M111 1388.5l.5 2l.5-.1l.5-2.8l.5 .1l.5-.3l.5 3.5l.5-1.8l.5-.2l.5 .6l.5-1.5l.5 .7l.5-1l.5 1.7l.5-1.5l.5 1.2l.5 .7l.5-1.2l.5 .9l.5-2l.5 0l.5 1.3l.5-.4l.5-1.2l.5 .8l.5 1.6l.5-1.8l.5 .6l.5-.4l.5 .5l.5 .1l.5 .2l.5-.1l.5 .3l.5-.4l.5-.3l.5-.7l.5-2.5l.5 2.5l.5-.4l.5 0l.5-1l.5 2.4l.5-2.6l.5 2.2l.5-.7l.5 .6l.5 .4l.5 1l.5-.7l.5-.3l.5 .3l.5-1.4l.5 0l.5-.6l.5 .7l.5 .7l.5-1.1l.5 0l.5-.7l.5 2.1l.5-1.6l.5 .5l.5-.8l.5 .5l.5-2.2l.5 1.8l.5-.8l.5 1.8l.5-.6l.5-1.1l.5-.5l.5-.2l.5 1.3l.5-1.3l.5 2.2l.5-2.7l.5 .3l.5-.4l.5-.5l.5 1.6l.5-1.2l.5 1.7l.5-1.1l.5-1.9l.5 .9l.5 .6l.5 1l.5-1.7l.5 .1l.5-1.2l.5 2.3l.5-3.2l.5 2l.5-.3l.5 .1l.5 .1l.5 .2l.5-1l.5-1.7l.5 2.7l.5-2.1l.5 1.1l.5-1.2l.5 .7l.5-.9l.5-.6l.5 .9l.5-3l.5 1.5l.5 0l.5-.1l.5-1l.5-1.3l.5 1.3l.5-1.4l.5 .9l.5-.6l.5-.7l.5 .6l.5-.7l.5-2l.5-1l.5 1.3l.5-.1l.5-2.5l.5-.2l.5-1.5l.5-.7l.5 .8l.5-2.3l.5-1.4l.5-1.2l.5-1.9l.5-.9l.5-1l.5-1.9l.5-2.6l.5-2.2l.5-1.7l.5-2.6l.5-2.6l.5-2.9l.5-2.5l.5-3.4l.5-3.3l.5-3.5l.5-3.7l.5-4.2l.5-4.1l.5-4.6l.5-4l.5-4.4l.5-5l.5-5.1l.5-5.2l.5-4.9l.5-5.2l.5-4.9l.5-5l.5-4.7l.5-4.7l.5-4.4l.5-3.2l.5-4l.5-2.8l.5-2l.5-1.5l.5 .2l.5-.3l.5 .4l.5 1.9l.5 2.7l.5 2.3l.5 3.4l.5 4l.5 3.9l.5 5.3l.5 4.5l.5 4.6l.5 5.3l.5 4.6l.5 5.5l.5 4.9l.5 5l.5 4.5l.5 5l.5 4l.5 4.7l.5 3.7l.5 3.6l.5 4l.5 4l.5 2.4l.5 3.2l.5 3.2l.5 2.4l.5 2.6l.5 2.2l.5 2.6l.5 1.7l.5 2.4l.5 .6l.5 2.8l.5 1.2l.5 1.1l.5 1.3l.5 .7l.5 .8l.5 2.3l.5-.1l.5 .2l.5 1.6l.5 .6l.5 1l.5-.2l.5 .2l.5 .3l.5 .5l.5 1.7l.5 .2l.5 .7l.5 .1l.5-.5l.5 2.6l.5-1.7l.5-1l.5 2.3l.5-.7l.5 .3l.5 .3l.5 .7l.5-1.1l.5 .8l.5 .6l.5 1.3l.5-1.7l.5 .4l.5 1.7l.5-.4l.5-.2l.5-.7l.5 1.7l.5-.8l.5 .2l.5 .1l.5 .1l.5 .8l.5-.9l.5-1.8l.5 1.9l.5 .4l.5 .2l.5-.6l.5-.6l.5 1.9l.5 .2l.5-2.1l.5 1.3l.5-.4l.5 1.1l.5-.6l.5-1l.5 2.6l.5-.6l.5-.8l.5-.5l.5-.1l.5 .9l.5-1.5l.5 3.5l.5-2.3l.5 .7l.5-.3l.5 .6l.5 .7l.5-3.4l.5 3.3l.5-.8l.5 1.2l.5-.6l.5-1.9l.5 .4l.5 2.4l.5-.4l.5-1l.5 1l.5-1.2l.5 1.5l.5-1.2l.5-.4l.5 .9l.5-.3l.5 .7l.5-.9l.5 .4l.5 2.6l.5-1.5l.5-1.2l.5 .5l.5-1.3l.5 2.6l.5-1.6l.5 1.2l.5 0l.5-.1l.5 0l.5 .2l.5 1l.5-1.5l.5 0l.5-2.4l.5 1.4l.5-.6l.5 1.5l.5 .4l.5-.1l.5-1.9l.5 2.6l.5-.6l.5-.6l.5-1.1l.5 1.3l.5 .3l.5 .7l.5-1.9l.5 .4l.5-.4l.5 1.2l.5-.5l.5 .1l.5-.6l.5 1.6l.5 0l.5-.1l.5-2.4l.5 2l.5 .3l.5-.6l.5 .4l.5 .7l.5-.5l.5 .4l.5 .7l.5-.6l.5-.7l.5 0l.5-.1l.5 .5l.5-.5l.5 .4l.5-.9l.5 0l.5 .8l.5-.9l.5-.4l.5 .6l.5 .5l.5-.9l.5 2.2l.5-1.7l.5-.9l.5 3.6l.5-3l.5 2.2l.5-1.2l.5-.2l.5-1.2l.5 .9l.5-1l.5 1.5l.5-.8l.5 .1l.5 2.2l.5-3.2l.5-.3l.5 .7l.5 1l.5 1.1l.5-2.1l.5 1.2l.5-1.6l.5 .6l.5-1.7l.5 .3l.5 2.1l.5 .1l.5-.2l.5-.5l.5-3l.5 1.7l.5-.8l.5 1.3l.5-.4l.5 1l.5 .4l.5-.5l.5-.8l.5 .9l.5-1.8l.5 1l.5-1.6l.5 .7l.5 .4l.5-.7l.5-1.1l.5 .6l.5 .5l.5-.2l.5 1.3l.5-1.8l.5-.4l.5-1.9l.5 .9l.5-.8l.5 2.4l.5-1.7l.5-1.1l.5 1.2l.5-.1l.5 .6l.5-.2l.5 .1l.5-.6l.5 .5l.5-1.9l.5 .3l.5 1.3l.5 .1l.5-.8l.5 2.4l.5-.8l.5-.2l.5 .8l.5 .5l.5-1.9l.5 2.3l.5-.3l.5 .6l.5 .2l.5-1.3l.5 2.1l.5 0l.5 .6l.5-1.9l.5 1.5l.5-1l.5-.1l.5 2.2l.5-1.6l.5 1.2l.5-.5l.5 1.2l.5-1.2l.5 .9l.5 .5l.5-3.3l.5 2.6l.5-.9l.5 2.7l.5-.7l.5-.6l.5 .8l.5-.4l.5-.9l.5 2.2l.5 .3l.5-.7l.5 .1l.5-1l.5-.4l.5 1.4l.5-1.5l.5 .6l.5-.2l.5-.6l.5 1.5l.5-.6l.5 0l.5 1.8l.5-2.2l.5-.5l.5 .4l.5 1.1l.5 .9l.5-1.1l.5-1.2l.5-.7l.5 1.4l.5 1.8l.5-1.1l.5-1.2l.5 1.2l.5-1l.5 .5l.5 1l.5 .1l.5-.5l.5-1.1l.5 1.3l.5-.6l.5-.7l.5-.2l.5 .7l.5 .4l.5-.2l.5-2.9l.5 2.6l.5 2.2l.5-3.1l.5 2.3l.5-.2l.5-.6l.5 1.4l.5-2.4l.5 .8l.5 0l.5 .8l.5 .1l.5 2.2l.5-3.2l.5 1l.5 .8l.5-1.5l.5 0l.5 1.4l.5-2.6l.5 2.1l.5-1.7l.5 .7l.5-.1l.5 1.7l.5-2.6l.5-1l.5 1.6l.5-.6l.5 1.3l.5 .5l.5-.2l.5-1.8l.5-.3l.5 2.1l.5-1.7l.5-.4l.5 3.1l.5-1.9l.5 .6l.5 .1l.5-.2l.5-.1l.5 .3l.5-1l.5 .8l.5-.8l.5 1.4l.5-.7l.5-.1l.5 .4l.5 .8l.5-.2l.5-.4l.5-.8l.5 1.6l.5-2.2l.5 .2l.5 2.3l.5-2.6l.5 1.5l.5-.3l.5-.4l.5-.4l.5 .1l.5-.5l.5-.3l.5-.6l.5 1.7l.5 1.3l.5-2.8l.5 2l.5-.2l.5 .9l.5-.2l.5-.2l.5-1.5l.5 .9l.5-.4l.5-.8l.5 1.6l.5-1.3l.5 1.8l.5-.5l.5-1.8l.5 2.5l.5-1l.5-.1l.5-2.6l.5 1.8l.5-.1l.5 0l.5-.3l.5-.2l.5 2.6l.5-2l.5-1.5l.5 1.3l.5 .1l.5 .4l.5 .2l.5 .3l.5-.7l.5 .6l.5 3l.5-3.9l.5-.8l.5 2.6l.5-1.3l.5-.5l.5-.4l.5 2.4l.5-2.2l.5 3l.5-.3l.5-.6l.5-1.4l.5 3.3l.5-4.2l.5 1.3l.5-1.2l.5 1.4l.5 .1l.5 .5l.5-1l.5 .8l.5-1l.5 .6l.5-1l.5 1.6l.5-.2l.5-1.2l.5 .6l.5-1l.5 2.6l.5 .6l.5-1.9l.5 1.3l.5-1l.5-.5l.5-1.1l.5 1.6l.5-1.7l.5 1l.5 .6l.5-1.2l.5-.4l.5 .4l.5 1.1l.5-.6l.5 .9l.5 1l.5-2.5l.5 1.8l.5-.8l.5-.7l.5-.1l.5-.5l.5 1l.5-1.6l.5-.6l.5 1.3l.5 .9l.5-.5l.5-.3l.5 .4l.5 1.2l.5-1.9l.5 1.2l.5-.1l.5-1.2l.5 2l.5-1.4l.5 2.7l.5-2.7l.5 .5l.5 2.2l.5-1.1l.5-1.1l.5-2.2l.5 3.5l.5-2.5l.5 1.8l.5-.5l.5 .2l.5-.4l.5-.3l.5 0l.5 .4l.5-.9l.5 .5l.5 1.4l.5-2.4l.5 2.5l.5-.3l.5 2.1l.5-2.1l.5-.6l.5 .4l.5-2.4l.5 2.5l.5-1.4l.5 2.3l.5-1.8l.5 .5l.5-1.3l.5 .6l.5 .1l.5 .9l.5 .5l.5-1.6l.5-1.1l.5 .1l.5 2.5l.5-.3l.5-.5l.5-.2l.5 .1l.5-.3l.5 1.3l.5-1.1l.5-.9l.5 .3l.5-1.2l.5 2.6l.5-1.5l.5 .4l.5-.8l.5 .5l.5 1.3l.5-.6l.5 .1l.5 1l.5-.8l.5-1.1l.5 1.3l.5-1.8l.5 2.1l.5-.8l.5 .3l.5-.2l.5-.5l.5-1.2l.5 3l.5-2.2l.5-.2l.5 1.1l.5-.1l.5-.7l.5-.1l.5 1.2l.5 .9l.5-1.6l.5 0l.5 1l.5-1.5l.5-.8l.5 .1l.5 .8l.5 .2l.5-1.7l.5 2.1l.5 .1l.5-1.2l.5 1.1l.5 2.6l.5-3.2l.5-1l.5 .5l.5 .1l.5 0l.5 .2l.5 .4l.5-.9l.5 1.4l.5-.4l.5 .3l.5-2.1l.5 3.1l.5 .8l.5-2l.5-.2l.5 0l.5 1.6l.5-3.3l.5 3.3l.5-2.6l.5 2.8l.5-1.1l.5-.5l.5-1.1l.5-1.1l.5 .2l.5 1.2l.5 1.9l.5-1.9l.5-1.3l.5 1.7l.5-.4l.5 .7l.5-.8l.5-.5l.5 .6l.5-.2l.5 2.1l.5-1l.5 .4l.5-1.3l.5 .4l.5-.8l.5 1.5l.5-1.4l.5 .7l.5-.6l.5 1.1l.5 .7l.5-1.3l.5 1.1l.5-.6l.5 .2l.5 .2l.5-.7l.5-.1l.5-1.6l.5 .7l.5 1l.5 2l.5-1.6l.5-1.3l.5 1.3l.5 .9l.5-2.2l.5 1.4l.5-.1l.5-1.3l.5 .2l.5-.9l.5 1.9l.5 .5l.5-1.5l.5 1.2l.5-.7l.5-.1l.5-.4l.5 .1l.5-.1l.5 .7l.5 .1l.5-.4l.5 .9l.5-1.9l.5 .9l.5-.7l.5 1.1l.5 .3l.5-2.4l.5 2.2l.5 .4l.5-.9l.5-2.3l.5 4l.5-2.7l.5 .5l.5 1.8l.5-2.2l.5 .2l.5 1.5l.5-1l.5 .2l.5-.7l.5 0l.5 .5l.5-2.1l.5 .3l.5 .6l.5-.4l.5 2l.5-1.5l.5 .1l.5-1.1l.5 1.7l.5-1l.5-.3l.5-.1l.5-.2l.5-.5l.5 .8l.5 .6l.5 .4l.5-2.9l.5 1.2l.5 2.1l.5-1.9l.5-1.2l.5 .7l.5-.8l.5 1l.5-.4l.5-.9l.5 .6l.5-.5l.5 0l.5-.6l.5-.7l.5-.9l.5 1.6l.5-1.8l.5-.9l.5-.4l.5 1.3l.5-1.4l.5-2.1l.5 .9l.5-1.3l.5-.6l.5-1l.5 .1l.5 .1l.5-2.8l.5-.2l.5-.8l.5-.7l.5-1.1l.5-.5l.5-1.4l.5-3l.5-6.6l.5-7.3l.5-3.1l.5 3.2l.5 7.9l.5 6.2l.5 3.4l.5 2.3l.5 .6l.5 1.1l.5-.7l.5 1.9l.5 .1l.5 .2l.5 1.5l.5 1.1l.5 0l.5 1.4l.5 1.1l.5-.5l.5 .6l.5 .8l.5 .5l.5 1.2l.5-2.2l.5 2.5l.5-.4l.5 .1l.5 2.7l.5-1.3l.5 0l.5 2.1l.5-.9l.5-.4l.5 1l.5 0l.5-1.2l.5 .6l.5 .4l.5 .2l.5 .9l.5-.8l.5 0l.5 1.3l.5-.1l.5-1.4l.5 1l.5 .8l.5 1.6l.5-1.6l.5 .4l.5-.2l.5 .1l.5-1.6l.5 3.1l.5-.9l.5 .6l.5-2.1l.5 .6l.5 1l.5-.7l.5 .1l.5 2.4l.5-2.5l.5 .7l.5-.1l.5-1.1l.5 1.2l.5 2l.5-2.2l.5 1.6l.5-1l.5 .3l.5-.6l.5 .8l.5-.5l.5 1.8l.5-2.4l.5 .6l.5-1.6l.5 3.2l.5-.7l.5 .1l.5-1.1l.5 1l.5 .6l.5-1.7l.5 2.4l.5-2.1l.5-.5l.5 2.1l.5-1.3l.5 0l.5 .8l.5 .1l.5-1.7l.5 1.1l.5 .3l.5 0l.5 1.2l.5-2.1l.5-.2l.5-.6l.5 2.1l.5-1.8l.5 .6l.5-.9l.5 0l.5 1.3l.5 .8l.5-2.2l.5 1.7l.5-.3l.5-.9l.5 .4l.5 .4l.5-.6l.5-1.1l.5 2.9l.5 .3l.5-1.8l.5 1.1l.5 .2l.5-.7l.5-1.5l.5 1.1l.5-.4l.5 .6l.5-.9l.5 2.4l.5-2l.5 .3l.5-.6l.5-.3l.5 1.6l.5-.7l.5 1.9l.5-4.3l.5 4.3l.5-2.9l.5 1.2l.5-1.3l.5 2l.5-.9l.5-.1l.5-.4l.5 1.2l.5 .7l.5-1.7l.5 1.8l.5-.8l.5-.7l.5-.4l.5-1.8l.5 3.1l.5-1.1l.5 1.2l.5-1.3l.5 1.4l.5 .6l.5-1.8l.5-.7l.5-.7l.5 3.7l.5-1.9l.5 .1l.5 .4l.5-1.5l.5-.3l.5 2.5l.5-1.9l.5 1.3l.5 .1l.5-.7l.5-.1l.5 2.8l.5-1.1l.5-2.1l.5 .4l.5 1.2l.5 .9l.5-.6l.5-1.9l.5-.1l.5 .6l.5 1.1l.5-.8l.5 .7l.5-1.2l.5 1.1l.5-.8l.5-1.6l.5 1.1l.5-.8l.5 2.7l.5-1.7l.5 .1l.5 .6l.5-.8l.5 .7l.5 .9l.5-2.3l.5 .9l.5 .6l.5-2.2l.5 3.5l.5-2.2l.5-.6l.5 .9l.5 .4l.5 0l.5 .3l.5-1.1l.5 1.3l.5-.1l.5-1.3l.5 1.6l.5-1l.5 1.3l.5-2.7l.5 2.5l.5-.3l.5-.1l.5 .5l.5-.7l.5 1.4l.5-2.4l.5 .3l.5-.6l.5 .6l.5 .2l.5-.6l.5 1.8l.5-2.2l.5 0l.5 2.2l.5-1.6l.5 .9l.5-.7l.5 1.4l.5-.8l.5-1.6l.5-.9l.5 1.6l.5-.2l.5 .1l.5-1.9l.5 4.6l.5-.9l.5-.7l.5-.4l.5-.1l.5 .1l.5-1.5l.5-1.2l.5 2.7l.5 .3l.5-.6l.5 1l.5-.4l.5-1l.5-1.1l.5 .2l.5 .5l.5 .7l.5 .3l.5-.9l.5 1.9l.5 .5l.5-1.9l.5 .3l.5-1.3l.5 2.5l.5 .4l.5-1.6l.5-1.7l.5 1.8l.5-.2l.5 .3l.5-.2l.5-1l.5 .3l.5-.1l.5-.3l.5 .6l.5 .9l.5-1.9l.5 1.2l.5 .3l.5-.7l.5-.1l.5 1.6l.5-.7l.5-1.2l.5 1l.5 .2l.5-.5l.5 1l.5-.4l.5-.1l.5-1.1l.5 2.3l.5-2l.5-.1l.5 1.7l.5-1.2l.5-1.4l.5 2.1l.5-1.6l.5 .1l.5 .9l.5 0l.5 .4l.5-1.2l.5 .3l.5 .5l.5 .6l.5-.8l.5 1.3l.5-1.7l.5 1.1l.5-.4l.5 .1l.5 .4l.5 .4l.5-.5l.5-1.2l.5-.3l.5-.9l.5 1.8l.5-1.2l.5 .3l.5 2.3l.5-2l.5-.9l.5 1.9l.5-.2l.5-.5l.5-.6l.5 .3l.5 0l.5 .4l.5-.3l.5 0l.5 1.2l.5-.9l.5-.5l.5 .3l.5-.2l.5-1.7l.5 1.9l.5 1.3l.5-1.4l.5-.9l.5 .9l.5-.1l.5 1.4l.5-1.4l.5-.2l.5 1.4l.5-1.6l.5-.1l.5 .4l.5 1.2l.5-1.1l.5 .4l.5-.1l.5-.4l.5 .3l.5 1l.5-.4l.5-1.8l.5 1.9l.5 .5l.5-1.7l.5 1.1l.5-2.8l.5 2.4l.5-.8l.5 .6l.5 .8l.5-1.4l.5 .1l.5 1l.5 .2l.5 .5l.5 1.2l.5-4.1l.5 3.4l.5-.4l.5-1.2l.5-.7l.5 1.7l.5 .1l.5-1.4l.5 3.4l.5-4.1l.5-.2l.5-.7l.5 1.3l.5 .7l.5 1.9l.5-2.3l.5 0l.5-.6l.5-.2l.5 1.7l.5-1.3l.5 .6l.5 .3l.5 .2l.5-.3l.5-.6l.5 1.4l.5-.4l.5 1.1l.5-3.2l.5-.5l.5 2.2l.5-1l.5-.4l.5 0l.5 0l.5 1.2l.5 .9l.5 .2l.5-2.1l.5 1.3l.5-.4l.5-1.2l.5 .9l.5 1.7l.5-1.6l.5 0l.5 2.3l.5-.6l.5 0l.5-1.4l.5 .8l.5-.2l.5 .1l.5 .2l.5-.9l.5-1.7l.5 2.9l.5 .5l.5-1.5l.5 2.2l.5-1.7l.5-1.3l.5-.6l.5 1.8l.5-.9l.5 1l.5 .1l.5-.5l.5 .3l.5 .6l.5-1.9l.5 .1l.5-.3l.5 1.6l.5-3l.5 2.1l.5 .8l.5-1.6l.5 1l.5-2.3l.5 1.3l.5 1.1l.5 1.4l.5-2.8l.5 .8l.5-.4l.5 0l.5 .4l.5 .3l.5-.1l.5-.6l.5 .8l.5-1.1l.5 1.9l.5-.3l.5-.1l.5-.4l.5 .3l.5 1.8l.5-4.2l.5 1.3l.5 1.1l.5 .1l.5 .1l.5 0l.5 0l.5-1.7l.5-.9l.5 2.6l.5 .9l.5-2l.5 .4l.5-.2l.5-.8l.5-.4l.5 1.3l.5 .8l.5-1l.5 1.5l.5-1.5l.5 1.5l.5-1.3l.5 .8l.5-1.5l.5-1.5l.5 3.6l.5-1.5l.5 2.1l.5-.6l.5-2.8l.5 3.5l.5-3l.5 2.4l.5-.7l.5-.6l.5 .7l.5-1.5l.5 1.3l.5-1.5l.5 1.9l.5-.6l.5 .3l.5-2.5l.5 .6l.5 .8l.5-.2l.5-1.2l.5 1.8l.5-1l.5 1.4l.5-.3l.5 2.3l.5-2.1l.5-1.6l.5 2.6l.5-.3l.5-2.4l.5 2.5l.5-.7l.5-.9l.5 1.2l.5-.7l.5-.1l.5 1.9l.5-.8l.5-2l.5 1.8l.5-.4l.5 1.8l.5-3.4l.5 1.5l.5-.6l.5 .4l.5 .6l.5-1l.5 .8l.5-1.4l.5 0l.5 2.5l.5-2.1l.5 .8l.5 .9l.5-.3l.5-.9l.5 1l.5 1.1l.5-3.3l.5 .7l.5 .6l.5-1.2l.5 1.1l.5 .1l.5 1.5l.5-2.3l.5 .9l.5 .8l.5-1.9l.5 .8l.5 1.8l.5-4l.5 2.6l.5-1l.5 1.2l.5-1.7l.5 1.2l.5-.1l.5 .2l.5 .3l.5 .4l.5-.3l.5-.2l.5 1l.5-2l.5 1.7l.5-.8l.5 .3l.5-1.2l.5-.6l.5 .7l.5 1.1l.5-1l.5-.9l.5 3.8l.5-2.3l.5-2l.5 2.7l.5 .6l.5-1.9l.5-.8l.5 2.3l.5-.3l.5-.1l.5-2.7l.5 3.1l.5 .8l.5-3.3l.5 1.4l.5 .5l.5-.3l.5-.8l.5 .8l.5 1.1l.5-1.3l.5-.7l.5 .5l.5 .1l.5 .3l.5-.2l.5 1.9l.5-.6l.5-3l.5 1.6l.5-.6l.5 .5l.5 .7l.5-.9l.5 .6l.5-.7l.5 2.3l.5-2.5l.5 1l.5 .7l.5-.4l.5-2.2l.5 1.3l.5 .9l.5-2l.5 .6l.5 1l.5 .3l.5-2.1l.5 .4l.5 1.2l.5-1.2l.5 3l.5-1l.5 .1l.5-1.2l.5-.5l.5-1.7l.5 2.6l.5-.5l.5-.8l.5 1.4l.5-.8l.5-.1l.5 .4l.5 .6l.5-.7l.5-1.1l.5 0l.5 2.5l.5-.9l.5 1.4l.5-2l.5 .5l.5-.3l.5-.8l.5-.6l.5 3.1l.5-2.4l.5-.5l.5 1.7l.5-.2l.5 .4l.5-1.2l.5-1.4l.5-.9l.5 .4l.5 .9l.5-3.2l.5 .6l.5-.4l.5-.1l.5-.4l.5 1.9l.5-2.1l.5-.8l.5 .7l.5-.7l.5-.5l.5-1l.5 1.1l.5-.5l.5 .2l.5 1.6l.5-3l.5-.7l.5 .2l.5 0l.5 .1l.5 .6l.5-.8l.5-1.8l.5 1.7l.5-.4l.5-.3l.5 .5l.5-1.5l.5-.1l.5-.6l.5 1.7l.5-1.6l.5 .2l.5-.2l.5 1.3l.5-1.5l.5-.1l.5-.5l.5 0l.5-.2l.5 .1l.5 .6l.5-1.9l.5-.8l.5 1.1l.5 .5l.5 .8l.5-3.9l.5 .6l.5 .7l.5-.2l.5 1l.5 .2l.5-.5l.5 .2l.5-1.2l.5-.9l.5 1.8l.5-.9l.5 2.3l.5-1l.5-.3l.5-1l.5 1.3l.5-1l.5 .4l.5-2.4l.5 2.5l.5 1.2l.5-1.4l.5-.1l.5 1l.5-.5l.5-.7l.5 .8l.5-1.1l.5 1.1l.5 .2l.5-1.6l.5 .1l.5 .8l.5-.2l.5 1l.5-2.4l.5-1.2l.5 3l.5-3.5l.5 3l.5-1l.5-.2l.5 1.6l.5-.9l.5-.6l.5 .4l.5 .7l.5-2.1l.5 2.9l.5 .4l.5-.9l.5-.2l.5 .6l.5-1.3l.5-.1l.5 2.1l.5-1.6l.5 .2l.5-1l.5 1.2l.5-.6l.5 .5l.5-1.3l.5 .2l.5 .5l.5-.9l.5 2.5l.5-2.4l.5 .5l.5 .3l.5-2.3l.5 .5l.5 1.8l.5-1.7l.5-1l.5 1.9l.5 .7l.5-.5l.5-1.5l.5 .9l.5 .1l.5 .2l.5-1.9l.5 1.5l.5 .1l.5-1.5l.5 .9l.5-1.1l.5 2.4l.5-2.3l.5 1.5l.5 .8l.5-.2l.5-1.8l.5 .2l.5-.5l.5-.4l.5 1.4l.5-.5l.5-.4l.5 .5l.5 .1l.5-.9l.5 1.7l.5-.3l.5-.3l.5 .1l.5 0l.5 .1l.5-.3l.5 .3l.5-1.8l.5 .9l.5 .6l.5 .7l.5-.7l.5 .4l.5-.7l.5-.2l.5 2.4l.5-.5l.5 1.2l.5-1.1l.5 .2l.5-.1l.5-.8l.5 2.5l.5-.4l.5 .5l.5 .5l.5-1.5l.5 2.4l.5 .1l.5-.2l.5-.8l.5 2.7l.5-1.7l.5 2.4l.5-2.4l.5 3l.5-.3l.5 .2l.5 1.1l.5-1.3l.5 .5l.5 1l.5 .1l.5 .5l.5 .1l.5 1l.5-1.7l.5 .1l.5 1.6l.5 1.3l.5-1.6l.5 1l.5-.1l.5 1.7l.5-1.6l.5 1.6l.5-1.7l.5 .3l.5 1.6l.5-1l.5 1.6l.5-1.4l.5 1.4l.5 .5l.5-1.2l.5-1.7l.5 .7l.5 3l.5-1l.5 .9l.5-1.6l.5 1.7l.5 .5l.5-1.3l.5 .4l.5 .1l.5-.1l.5 .9l.5-1l.5 2.4l.5-1.7l.5 1.5l.5-1.9l.5 .7l.5-.8l.5 1.4l.5-.5l.5-.3l.5 .3l.5 .8l.5 0l.5 .3l.5-1.8l.5 3.2l.5-.5l.5-1.3l.5 1.8l.5 1.7l.5-2l.5 .1l.5-1l.5 1.2l.5-1.2l.5-.2l.5 1.5l.5-.6l.5-2.3l.5 2.4l.5-1.6l.5 1.3l.5 .3l.5 1l.5-2.1l.5 1.1l.5 1.4l.5-2.2l.5 1l.5 2l.5-2.7l.5 2.7l.5-3l.5 2l.5 .2l.5-2.5l.5 1l.5 .6l.5 .6l.5 .8l.5-1.5l.5 0l.5 2.5l.5-2.5l.5 1.4l.5-.3l.5-.8l.5 .8l.5 .6l.5 .4l.5-.2l.5-1.2l.5-1.5l.5 .6l.5 2.3l.5-1.9l.5 2.2l.5-1.1l.5 1.6l.5-1l.5 1.3l.5-.9l.5-.6l.5-.9l.5 2.1l.5-1l.5-.3l.5 .8l.5-2.8l.5 3.5l.5-.5l.5-1.4l.5-.2l.5 1.1l.5 .1l.5-.7l.5 .2l.5 .5l.5-.5l.5 .1l.5 .1l.5 1.2l.5-.3l.5-2.7l.5-.5l.5 2.8l.5 1.1l.5-3.2l.5 .5l.5-.2l.5 .2l.5 .2l.5-1.6l.5 .1l.5-1.4l.5 .1l.5-1.7l.5-1l.5-.8l.5-1.6l.5-.5l.5-1.4l.5-.3l.5 .9l.5-1.4l.5 .8l.5 .5l.5-1.1l.5 3.2l.5 .7l.5 1.5l.5-.5l.5 2.1l.5 2.9l.5-.5l.5 .4l.5-.6l.5 .8l.5-.2l.5 2.1l.5-.9l.5-1.1l.5 3.8l.5-2.3l.5-.7l.5 1.2l.5-.9l.5-.5l.5 1.1l.5 .5l.5 1.1l.5-3.4l.5 2.1l.5-.4l.5-.1l.5-3.2l.5 3l.5 0l.5 2.7l.5-1.2l.5-1.2l.5 .8l.5 0l.5-2.1l.5-.4l.5 2.4l.5-.7l.5 1.1l.5-1.2l.5 1.4l.5-2.1l.5 3.2l.5-2.1l.5 1.1l.5-.3l.5-.6l.5-.9l.5-1.6l.5 2.1l.5-.5l.5 .2l.5 1.2l.5-1.6l.5 .9l.5 .6l.5-.3l.5-.6l.5 1.5l.5-1.5l.5 .8l.5 0l.5 .3l.5-.4l.5-.1l.5-1.3l.5 1.1l.5 2.3l.5-2l.5-.7l.5 1.2l.5-.1l.5 0l.5 1.1l.5-2.2l.5 .6l.5 0l.5 0l.5 .6l.5-2.2l.5 1.2l.5 1.7l.5-1.5l.5-.3l.5 .4l.5 .9l.5-1.3l.5-.3l.5 .9l.5-1.1l.5 2.9l.5-2.1l.5 1.6l.5-.4l.5-1.8l.5 1.4l.5-1.8l.5 2.7l.5-.7l.5-.7l.5-.7l.5 2.7l.5-3.2l.5 1l.5 .9l.5 .2l.5-1.3l.5 1.9l.5-.6l.5-.4l.5 .6l.5-.2l.5-2l.5 1.7l.5-.7l.5-.7l.5 1l.5-.2l.5 1.1l.5-.4l.5-1.9l.5 1.3l.5-.9l.5 1.6l.5 .7l.5-.5l.5-1.2l.5 1.5l.5-1.4l.5 0l.5-.4l.5 1l.5-.1l.5 0l.5 1.8l.5-.5l.5-1.7l.5 2.4l.5-.8l.5-1.8l.5 .6l.5 .5l.5 .1l.5-.3l.5-.9l.5 .7l.5-.5l.5 1.4l.5 .6l.5-1.9l.5 1.1l.5 .2l.5-.8l.5 1.9l.5-1.1l.5 1.7l.5-1l.5-1.9l.5-.1l.5 .7l.5-1l.5 2.5l.5-.9l.5-1.9l.5 .4l.5 1.1l.5 1.5l.5-.3l.5 .8l.5-3.5l.5 1.1l.5 .2l.5 .4l.5-.8l.5 1.2l.5-.1l.5 1.8l.5-.9l.5-.2l.5-.2l.5-2.4l.5 .7l.5 .4l.5 1.9l.5-1.5l.5 1.7l.5-.5l.5 .5l.5-.5l.5-.5l.5-1.3l.5 1.5l.5-.9l.5-.1l.5-.2l.5 1.1l.5-.7l.5 1.4l.5-.2l.5-.5l.5 .8l.5-1.3l.5 .5l.5-.3l.5-.3l.5 1.2l.5-1.6l.5 .9l.5-.1l.5 .6l.5 .5l.5 .4l.5-2.4l.5 .1l.5-.5l.5 1.2l.5 .1l.5 .2l.5-1.1l.5-.2l.5-.7l.5 .7l.5 1.2l.5 .5l.5 3.2l.5-4.5l.5 1.1l.5 1.1l.5-1.3l.5 .9l.5-1.6l.5 1.4l.5-1l.5-.9l.5 .4l.5 1.5l.5 .5l.5-1.1l.5-.1l.5-.3l.5-.7l.5 3.1l.5-2.2l.5-1l.5 .6l.5 1.6l.5-1.3l.5-.5l.5-.4l.5 1l.5-.2l.5 1.9l.5-1.7l.5 1.1l.5 .7l.5-2.9l.5 .5l.5 1.5l.5-.2l.5-1.1l.5 .8l.5-2.3l.5 2.6l.5 .3l.5-1.2l.5 0l.5 .3l.5 .3l.5 .3l.5-1l.5 .2l.5 1.1l.5-.2l.5 0l.5 .1l.5-.4l.5 .4l.5-2.6l.5 2.5l.5 .5l.5-.8l.5 .4l.5-1.1l.5 1.7l.5-2.8l.5 2.1l.5 .3l.5-1.2l.5 3.4l.5-3.9l.5-.2l.5 1.8l.5-.3l.5-2.2l.5 3.5l.5-1.9l.5 1.9l.5-3.4l.5 2.1l.5 1.2l.5-1.6l.5 0l.5-.1l.5-.2l.5 1l.5 .6l.5-1l.5-.6l.5 .7l.5-2l.5 2.1l.5-1.3l.5 2l.5 .7l.5-1.6l.5 0l.5 2.1l.5-.3l.5-.8l.5-.5l.5 1.8l.5-.9l.5-1.3l.5 .1l.5-.5l.5 1.1l.5-.4l.5 1.5l.5-1l.5-.8l.5 1.7l.5-.5l.5 1.1l.5-1.3l.5-1.5l.5 1.1l.5 1.9l.5-2.1l.5 .9l.5-1.4l.5 1.4l.5-1.5l.5 1.1l.5 .1l.5 .1l.5-.1l.5 1l.5-2.4l.5 .9l.5 .3l.5 1.7l.5-1.7l.5 1.6l.5-1.2l.5-.1l.5-1.2l.5 .9l.5-1.6l.5 2.9l.5-.9l.5 .5l.5-2l.5 1.6l.5 .3l.5-.7l.5-.3l.5-.1l.5-1.3l.5 1.4l.5 .1l.5-.6l.5 2.1l.5-.5l.5-.7l.5 1.4l.5-.8l.5-.4l.5 .6l.5-1.4l.5 2.3l.5-2.3l.5 1.3l.5 .6l.5-.3l.5-1.3l.5 .1l.5 1.7l.5-2.1l.5 1.2l.5 0l.5-.4l.5 0l.5 0l.5-.3l.5 .1l.5 1.9l.5-2.1l.5 1.3l.5-1.1l.5 1.2l.5 0l.5-1.2l.5 .1l.5 1.1l.5-.6l.5-1.5l.5 2.7l.5-1.5l.5-.6l.5 .3l.5-.4l.5 .3l.5-.3l.5-1.1l.5 .9l.5 2.4l.5-2.9l.5 .8l.5-.3l.5 .1l.5 1.1l.5 .6l.5 .7l.5-1l.5-.5l.5-.3l.5 1l.5-.6l.5-.1l.5 .9l.5-1.1l.5 .3l.5 1.9l.5-.8l.5 0l.5 1.1l.5-1.4l.5-1.7l.5 .8l.5 .2l.5-.7l.5 1.7l.5-.4l.5 .3l.5 .5l.5-1.3l.5 .6l.5-.1l.5-.4l.5-.4l.5 1.6l.5-1.1l.5 .1l.5-.2l.5 2.8l.5-3.4l.5 1.5l.5-1.4l.5 .8l.5-.7l.5 2l.5-2.9l.5 1.6l.5 1.4l.5-.2l.5-1.7l.5 .5l.5-.3l.5-1.2l.5 1.8l.5-.3l.5-1.8l.5 2.1l.5-1.5l.5 0l.5 1.3l.5 1.4l.5-1.1l.5-.6l.5-.1l.5 1.8l.5-2.9l.5 .1l.5-.5l.5 1.7l.5 1.3l.5-3.4l.5 .9l.5-.1l.5 .7l.5 .8l.5 .4l.5-.3l.5-1.1l.5 1.4l.5 .9l.5-1.8l.5 1.2l.5 .1l.5-.1l.5 .2l.5-.3l.5-1.2l.5 1.2l.5-.5l.5 1.3l.5-.7l.5 1.6l.5-2l.5 .8l.5-1.2l.5 .4l.5-.8l.5 1.6l.5-.5l.5 1.8l.5-2.3l.5 2.4l.5-2.2l.5-.4l.5 .3l.5-.8l.5 1.3l.5-1.6l.5 2.6l.5-.1l.5-1.6l.5 1.8l.5-1.4l.5-.7l.5 2.4l.5 .9l.5-2.6l.5-.6l.5 2l.5-.6l.5 .4l.5-1.8l.5 1.7l.5-.6l.5 .3l.5-1.7l.5 .5l.5 1.7l.5-.2l.5-.3l.5 .2l.5-1.8l.5 1.3l.5-1.4l.5-1.3l.5 3.2l.5-.6l.5-.9l.5 1.3l.5 .2l.5-.6l.5 .9l.5 1.1l.5-1.9l.5-2l.5 .7l.5-.5l.5-1.2l.5 3.7l.5 .2l.5-.3l.5 0l.5-1.5l.5-1.3l.5 1.1l.5-.4l.5 1.1l.5 0l.5 .3l.5 1.2l.5-2l.5 .6l.5 0l.5-.2l.5 1.8l.5-1.5l.5-.3l.5-.8l.5 .4l.5-.5l.5 1.5l.5-2.4l.5 .4l.5 1.1l.5 1.3l.5 .5l.5-.5l.5-.4l.5 .2l.5 0l.5 .3l.5 .8l.5 .8l.5-1.2l.5-1l.5-.4l.5-.1l.5-1l.5-.1l.5 .5l.5-1l.5 2.5l.5 1.3l.5 .3l.5-.3l.5-2.1l.5 1l.5-.8l.5-2.6l.5 1.9l.5 0l.5-.5l.5 .6l.5 .8l.5 1.3l.5-.7l.5-1.3l.5 .9l.5-.4l.5 .1l.5-.9l.5 1.3l.5-1l.5 2.7l.5-3.5l.5 1.2l.5 2.2l.5-2.3l.5-.5l.5 2.7l.5-2.7l.5 1.7l.5-1l.5-.2l.5 1.4l.5-2.2l.5 1.2l.5 1.2l.5-.3l.5-1.5l.5-.1l.5 1.6l.5-1.2l.5 .9l.5 .3l.5-2.4l.5 2.7l.5-1.2l.5 .7l.5-.6l.5 .1l.5 1.4l.5-.3l.5-.4l.5-1.6l.5-1.2l.5 2.4l.5 .4l.5-2.3l.5 0l.5 .3l.5 .6l.5 0l.5 .7l.5 1.1l.5 0l.5-1.3l.5-.6l.5 .1l.5 .3l.5-.4l.5 .7l.5 .6l.5-.5l.5 .5l.5-.7l.5-.5l.5 1.2l.5-3.5l.5 2.3l.5 .6l.5 2.2l.5-2.7l.5 0l.5-.3l.5 .8l.5 .4l.5 .4l.5-.9l.5 .7l.5 .8l.5-2.8l.5 2.2l.5-.5l.5-.6l.5 .3l.5 2l.5-2.6l.5 1.1l.5 .1l.5-.5l.5 1.5l.5 .3l.5-2.3l.5 .2l.5-.9l.5 .9l.5-.3l.5-.3l.5 2.5l.5-1.9l.5 .4l.5 1.3l.5-.7l.5-1.5l.5 .8l.5 .8l.5-1.1l.5-1.4l.5 .5l.5 1.6l.5 1l.5-2.1l.5 3.4l.5-1.9l.5-1.1l.5 2.3l.5-.2l.5-1.6l.5 1.9l.5-1.1l.5-.7l.5-.7l.5 2.4l.5-.7l.5 0l.5-.6l.5-1.1l.5 1.8l.5-.9l.5 .2l.5-.8l.5 2.6l.5-1.3l.5-.6l.5-.8l.5 .9l.5 .1l.5-.9l.5 0l.5 .3l.5 1.1l.5 .9l.5 .3l.5-2.8l.5 1.9l.5-.5l.5-1.7l.5 2.2l.5 1.1l.5-.5l.5-1.6l.5-.7l.5 1.3l.5-2.1l.5 2.2l.5-1.2l.5-.2l.5 .1l.5 .4l.5-2.4l.5 3.9l.5-1.1l.5-.3l.5 1.1l.5 .2l.5 .2l.5-.2l.5-1.4l.5 1.7l.5-2l.5-.5l.5-.3l.5-.2l.5 1l.5-.4l.5 .8l.5-.3l.5 .1l.5 1.1l.5 .1l.5-1.3l.5 .6l.5 1.1l.5-1.6l.5 1.1l.5 .3l.5 2.1l.5-1.8l.5-.6l.5-1.9l.5 1.5l.5 0l.5 .3l.5-.7l.5-.3l.5 .8l.5-.4l.5 .8l.5-1l.5-.1l.5 1.1l.5-.5l.5 .6l.5-1.3l.5 1.1l.5-.3l.5 .8l.5-.8l.5-.4l.5 .8l.5-2l.5 2.4l.5-1.1l.5 .8l.5 2l.5-2.2l.5 .2l.5-1l.5 .9l.5 .7l.5-.2l.5-1.7l.5-.2l.5-.5l.5 2.8l.5-1.4l.5 0l.5-.6l.5 1.6l.5 .6l.5-1.4l.5 0l.5-1.6l.5 1.8l.5 1.4l.5-2l.5 .8l.5-1.2l.5-.6l.5 2.8l.5-2.3l.5-.5l.5 .7l.5 1.4l.5-2.1l.5 .2l.5 .5l.5 0l.5 1.2l.5-1.8l.5 .2l.5 .1l.5 3.1l.5-2.1l.5-1.8l.5 .5l.5 0l.5 1.6l.5-.8l.5 1.6l.5-2.7l.5 1.3l.5 1.3l.5 .5l.5-1.2l.5 2.1l.5-1.3l.5-.7l.5-2.5l.5 2.9l.5-.9l.5 0l.5 .7l.5-.6l.5-.3l.5 1l.5-.7l.5 .5l.5-2l.5 2.5l.5-1.1l.5 1.2l.5-.4l.5-.6l.5 .7l.5-.6l.5-.6l.5 .8l.5-.2l.5 .6l.5-1.5l.5 .7l.5 .6l.5-1.4l.5 1.2l.5 .3l.5 .3l.5 0l.5 .6l.5-1.1l.5-1.4l.5-1l.5 1.5l.5 1.5l.5-1.4l.5-.7l.5 1l.5-.2l.5 1.7l.5-1.4l.5 2l.5-2.8l.5 1.3l.5-.4l.5-.7l.5 .9l.5-.3l.5-.3l.5 .6l.5 .9l.5-.3l.5-.6l.5-.5l.5 1l.5-.9l.5 1.3l.5-.9l.5-1.2l.5 1.9l.5-1.9l.5 3.1l.5-.8l.5-.3l.5-1.7l.5 2.5l.5-1.7l.5-1l.5-.4l.5 3.2l.5-1l.5-1.2l.5 1.4l.5-1l.5-1l.5 2.2l.5-.2l.5-2.8l.5 2.3l.5-.3l.5 .3l.5 .2l.5-2l.5 1.6l.5-.6l.5 .3l.5 1l.5-.6l.5 .1l.5-1.3l.5 2.6l.5-2.3l.5 1.3l.5-1.2l.5 .8l.5-.6l.5 .1l.5 1.2l.5 .1l.5-1.2l.5 .6l.5-.5l.5 .1l.5-.6l.5 .2l.5 .9l.5-.5l.5-.5l.5 1.4l.5-1.4l.5 1.9l.5-1.9l.5 2.2l.5-.2l.5-1.1l.5 .7l.5-2l.5 1.6l.5 .3l.5-.9l.5 .2l.5-1.1l.5-.1l.5 2.1l.5-2.6l.5 1.2l.5-.2l.5 1.5l.5-1.7l.5-.1l.5 1.7l.5-1.3l.5 2.4l.5-2.4l.5 1.8l.5-2.5l.5 1.1l.5 .3l.5-.5l.5 2l.5-1.3l.5-1.2l.5 1.2l.5-1.1l.5 1.5l.5-2.1l.5 1.8l.5-.9l.5 .4l.5 .3l.5 2.1l.5-3.4l.5 1.8l.5-.3l.5-.4l.5 1.2l.5-.7l.5 .1l.5-1l.5 .9l.5-.2l.5-2.3l.5 .8l.5 2.1l.5 .5l.5 .1l.5-1.3l.5 1l.5-2.3l.5-.4l.5 2.6l.5-.9l.5 1.4l.5-.9l.5-1.3l.5 .2l.5 1.6l.5-.3l.5-.9l.5 1.3l.5-2.2l.5 2.7l.5-.9l.5-1.7l.5 1.1l.5-1.9l.5 .6l.5-1l.5 3l.5-.8l.5-.2l.5 2.4l.5-1l.5-.2l.5-.6l.5-1.3l.5 1.7l.5-1.5l.5 1.7l.5 .3l.5-1l.5-.8l.5 1.5l.5-1l.5-.5l.5 2.1l.5-.5l.5 .3l.5-1.8l.5 1.3l.5-2l.5 2.3l.5-.9l.5-1.3l.5 2.5l.5-.5l.5-.7l.5-1.2l.5 .4l.5 2l.5-2l.5 .2l.5-.3l.5 2.8l.5-1.1l.5-1.1l.5-.3l.5 .5l.5 .3l.5 .7l.5-1.8l.5 .6l.5 .5l.5 .1l.5-.4l.5 .1l.5 .6l.5-1.5l.5 1l.5-.5l.5 1.9l.5-.8l.5-.3l.5-.6l.5-2.5l.5 3.8l.5-1l.5-.5l.5 .6l.5-.6l.5 .5l.5 1.7l.5 0l.5-1.7l.5 .4l.5 .3l.5-.5l.5 .5" fill="none" stroke="#800000" stroke-width="8.0" stroke-linejoin="round" stroke-linecap="butt"/>
<g id="guides-front"><line x1="161.0" y1="145.8" x2="161.0" y2="1437.05" stroke="#ff8000" stroke-width="5.8" stroke-dasharray="8.75 15.0"/><line x1="1086.3" y1="603.5" x2="1086.3" y2="1419.75" stroke="#ff8000" stroke-width="5.8" stroke-dasharray="8.75 15.0"/></g>
<g id="labels"><text transform="translate(110.3 1624.2) scale(1 1.047)" font-family="'Liberation Sans',Arial,Helvetica,sans-serif" font-size="66.7" font-weight="normal" fill="#000" text-anchor="middle" >5</text><text transform="translate(333.4 1624.2) scale(1 1.047)" font-family="'Liberation Sans',Arial,Helvetica,sans-serif" font-size="66.7" font-weight="normal" fill="#000" text-anchor="middle" dx="1.2 -1.5">10</text><text transform="translate(556.6 1624.2) scale(1 1.047)" font-family="'Liberation Sans',Arial,Helvetica,sans-serif" font-size="66.7" font-weight="normal" fill="#000" text-anchor="middle" dx="1.2 -1.5">15</text><text transform="translate(779.7 1624.2) scale(1 1.047)" font-family="'Liberation Sans',Arial,Helvetica,sans-serif" font-size="66.7" font-weight="normal" fill="#000" text-anchor="middle" >20</text><text transform="translate(1002.9 1624.2) scale(1 1.047)" font-family="'Liberation Sans',Arial,Helvetica,sans-serif" font-size="66.7" font-weight="normal" fill="#000" text-anchor="middle" >25</text><text transform="translate(1226.0 1624.2) scale(1 1.047)" font-family="'Liberation Sans',Arial,Helvetica,sans-serif" font-size="66.7" font-weight="normal" fill="#000" text-anchor="middle" >30</text><text transform="translate(1449.2 1624.2) scale(1 1.047)" font-family="'Liberation Sans',Arial,Helvetica,sans-serif" font-size="66.7" font-weight="normal" fill="#000" text-anchor="middle" >35</text><text transform="translate(1672.3 1624.2) scale(1 1.047)" font-family="'Liberation Sans',Arial,Helvetica,sans-serif" font-size="66.7" font-weight="normal" fill="#000" text-anchor="middle" >40</text><text transform="translate(883.7 1713.2) scale(1.05 1.02)" font-family="'Liberation Serif','Times New Roman',Times,serif" font-size="78" font-weight="normal" fill="#000" text-anchor="middle" >2θ (°)</text><text transform="translate(67.3 776.5) rotate(-90)" font-family="'Liberation Serif','Times New Roman',Times,serif" font-size="66.7" font-weight="bold" text-anchor="middle" fill="#000">Counts (electrons)</text><text transform="translate(208.0 704.3) scale(1 1)" font-family="'Liberation Serif','Times New Roman',Times,serif" font-size="66.7" font-weight="bold" fill="#000" text-anchor="start" >Fe-N-C-c</text><text transform="translate(205.0 1019.6) scale(1 1)" font-family="'Liberation Serif','Times New Roman',Times,serif" font-size="66.7" font-weight="bold" fill="#000" text-anchor="start" >Fe-N-C-g</text><text transform="translate(208.0 1196.2) scale(1 1)" font-family="'Liberation Serif','Times New Roman',Times,serif" font-size="66.7" font-weight="bold" fill="#000" text-anchor="start" >Fe-N-C-w</text><text transform="translate(233.5 1341.0) scale(1 1)" font-family="'Liberation Serif','Times New Roman',Times,serif" font-size="66.7" font-weight="bold" fill="#000" text-anchor="start" >FePc</text><text transform="translate(1666.5 1511.6) scale(1 1)" font-family="'Liberation Serif','Times New Roman',Times,serif" font-size="66.7" font-weight="bold" fill="#000080" text-anchor="end" >PDF#20-1718</text><text transform="translate(132.7 1471.9) scale(1 1.065)" font-family="'Liberation Sans',Arial,Helvetica,sans-serif" font-size="44.7" font-weight="bold" fill="#000" text-anchor="start" xml:space="preserve" dx="0 0.7 0 1 0 0.8 2.2">(2 0 0)</text><text transform="translate(271.3 1493.0) scale(1 1.065)" font-family="'Liberation Sans',Arial,Helvetica,sans-serif" font-size="44.7" font-weight="bold" fill="#000" text-anchor="start" xml:space="preserve" dx="0 0.7 0 1 0 0.8 2.2">(2 0 2)</text><text transform="translate(524.7 1483.3) scale(1 1.065)" font-family="'Liberation Sans',Arial,Helvetica,sans-serif" font-size="44.7" font-weight="bold" fill="#000" text-anchor="start" xml:space="preserve" dx="0 0.7 0 1 0 0.8 2.2">(4 0 2)</text><text transform="translate(857.6 1478.7) scale(1 1.065)" font-family="'Liberation Sans',Arial,Helvetica,sans-serif" font-size="44.7" font-weight="bold" fill="#000" text-anchor="start" xml:space="preserve" dx="0 0.7 0 1.8 0 0.8 1.4">(0 1 1)</text><text transform="translate(1006.3 1485.8) scale(1 1.065)" font-family="'Liberation Sans',Arial,Helvetica,sans-serif" font-size="44.7" font-weight="bold" fill="#000" text-anchor="start" xml:space="preserve" dx="0 0.7 0 1 0 0.8 1.0">(2 1 1)</text><rect x="295" y="1449.9" width="14.6" height="4.3" fill="#000"/><rect x="548.4" y="1446" width="15.1" height="3.9" fill="#000"/><rect x="1014.2" y="1439.7" width="15.2" height="4.3" fill="#000"/></g>
<g id="digit-trim" fill="#fff"><rect x="301.5" y="1617.5" width="13.5" height="8"/><rect x="321" y="1617.5" width="12.5" height="8"/><rect x="525.5" y="1617.5" width="12.5" height="8"/><rect x="544" y="1617.5" width="12.5" height="8"/><rect x="913.5" y="1472.5" width="9.5" height="8"/><rect x="929" y="1472.5" width="8.5" height="8"/><rect x="951.5" y="1472.5" width="9.5" height="8"/><rect x="967" y="1472.5" width="8.5" height="8"/><rect x="1061.5" y="1479.5" width="9.5" height="8"/><rect x="1077" y="1479.5" width="8.5" height="8"/><rect x="1099.5" y="1479.5" width="9.5" height="8"/><rect x="1115" y="1479.5" width="8.5" height="8"/></g>
</svg>
</body></html>
